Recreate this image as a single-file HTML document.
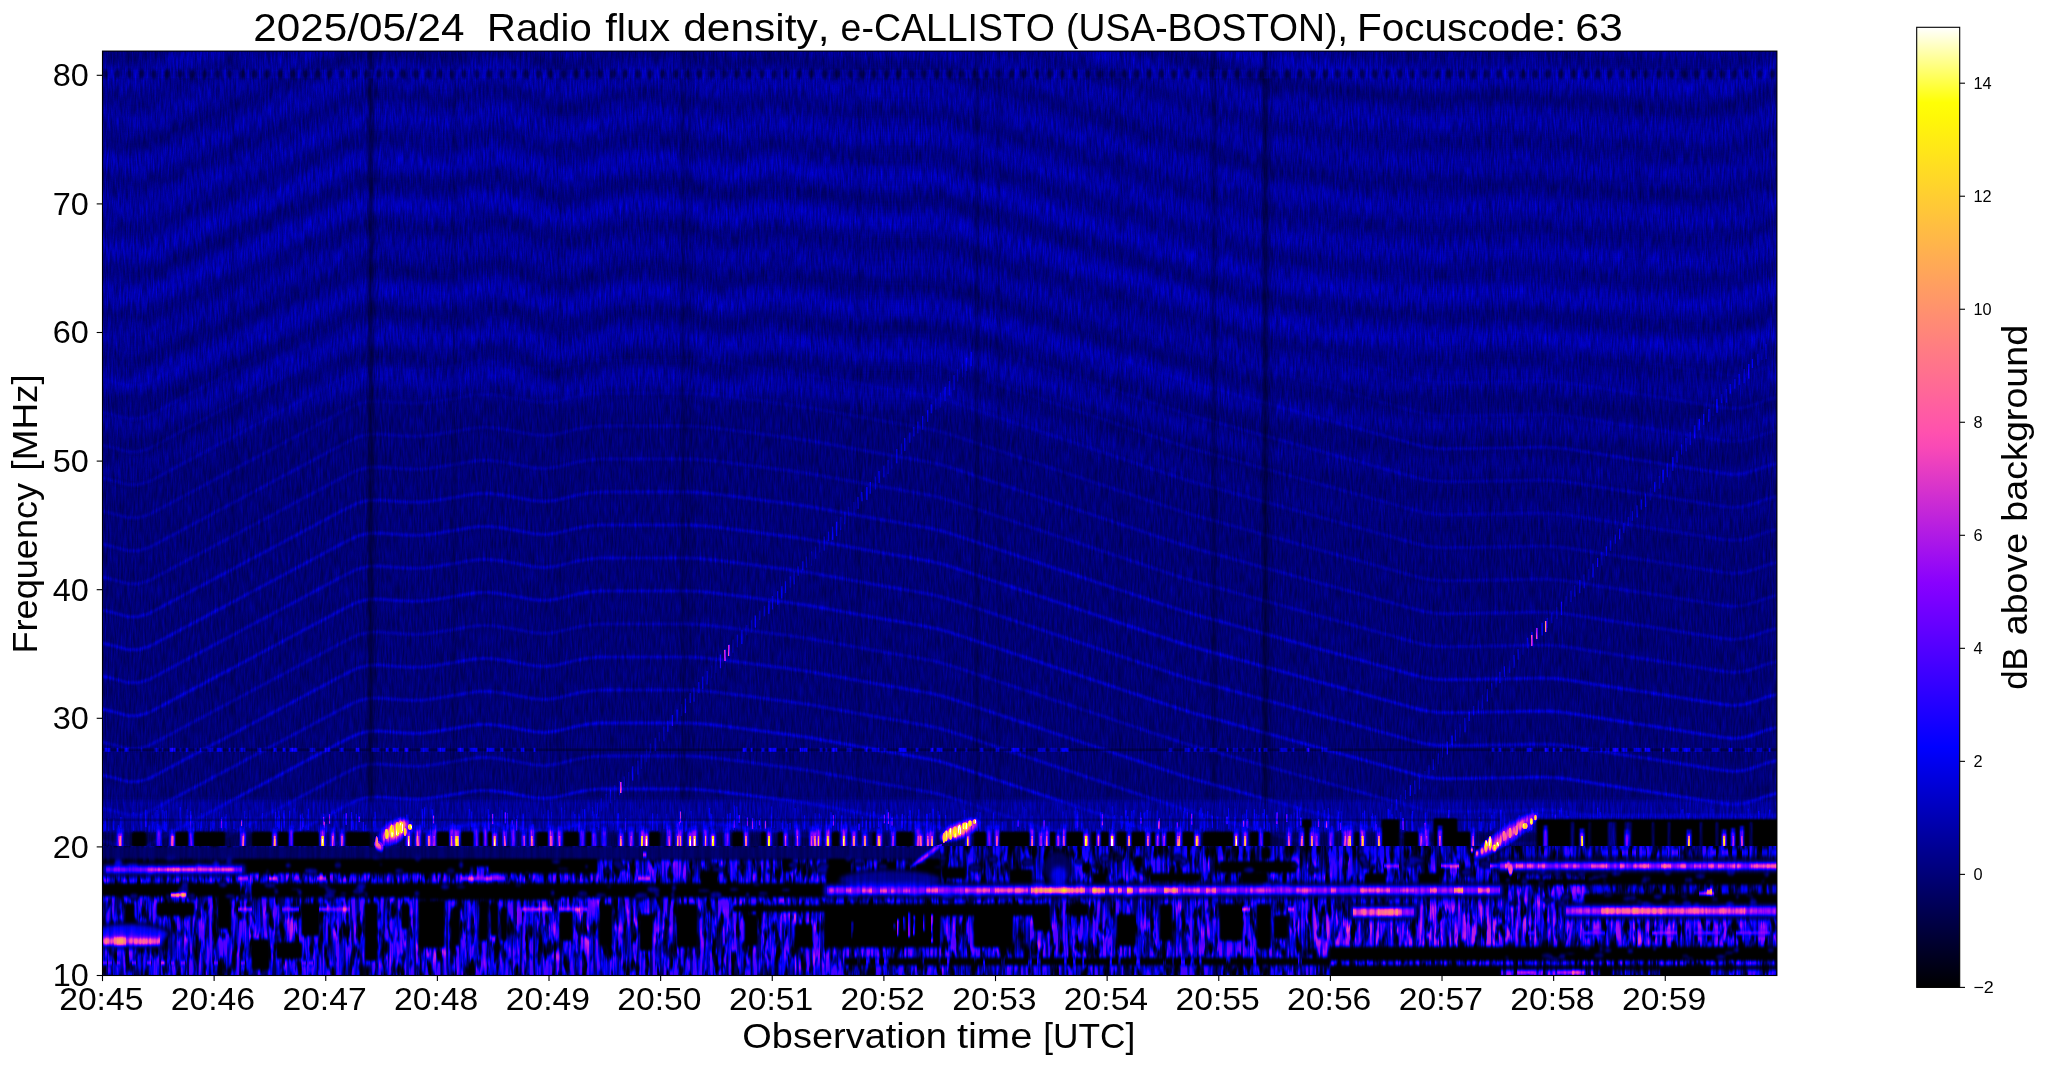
<!DOCTYPE html>
<html><head><meta charset="utf-8"><title>e-CALLISTO spectrogram</title>
<style>html,body{margin:0;padding:0;background:#fff;}body{width:2047px;height:1067px;overflow:hidden;position:relative;}svg{position:absolute;left:0;top:0;display:block}text{font-family:"Liberation Sans", sans-serif;fill:#000;font-kerning:none}</style></head><body>
<svg width="2047" height="1067" viewBox="0 0 2047 1067">
<defs><linearGradient id="cbg" x1="0" y1="0" x2="0" y2="1"><stop offset="0.0000" stop-color="rgb(255,255,255)"/><stop offset="0.0156" stop-color="rgb(255,255,205)"/><stop offset="0.0312" stop-color="rgb(255,255,155)"/><stop offset="0.0469" stop-color="rgb(255,255,106)"/><stop offset="0.0625" stop-color="rgb(255,255,56)"/><stop offset="0.0781" stop-color="rgb(255,255,6)"/><stop offset="0.0938" stop-color="rgb(255,248,7)"/><stop offset="0.1094" stop-color="rgb(255,240,15)"/><stop offset="0.1250" stop-color="rgb(255,232,23)"/><stop offset="0.1406" stop-color="rgb(255,224,31)"/><stop offset="0.1562" stop-color="rgb(255,216,39)"/><stop offset="0.1719" stop-color="rgb(255,208,47)"/><stop offset="0.1875" stop-color="rgb(255,200,55)"/><stop offset="0.2031" stop-color="rgb(255,192,63)"/><stop offset="0.2188" stop-color="rgb(255,184,71)"/><stop offset="0.2344" stop-color="rgb(255,176,79)"/><stop offset="0.2500" stop-color="rgb(255,168,87)"/><stop offset="0.2656" stop-color="rgb(255,160,95)"/><stop offset="0.2812" stop-color="rgb(255,152,103)"/><stop offset="0.2969" stop-color="rgb(255,144,111)"/><stop offset="0.3125" stop-color="rgb(255,136,119)"/><stop offset="0.3281" stop-color="rgb(255,128,127)"/><stop offset="0.3438" stop-color="rgb(255,120,135)"/><stop offset="0.3594" stop-color="rgb(255,113,142)"/><stop offset="0.3750" stop-color="rgb(255,105,150)"/><stop offset="0.3906" stop-color="rgb(255,97,158)"/><stop offset="0.4062" stop-color="rgb(255,89,166)"/><stop offset="0.4219" stop-color="rgb(255,81,174)"/><stop offset="0.4375" stop-color="rgb(249,73,182)"/><stop offset="0.4531" stop-color="rgb(237,65,190)"/><stop offset="0.4688" stop-color="rgb(224,57,198)"/><stop offset="0.4844" stop-color="rgb(212,49,206)"/><stop offset="0.5000" stop-color="rgb(199,41,214)"/><stop offset="0.5156" stop-color="rgb(187,33,222)"/><stop offset="0.5312" stop-color="rgb(174,25,230)"/><stop offset="0.5469" stop-color="rgb(162,17,238)"/><stop offset="0.5625" stop-color="rgb(149,9,246)"/><stop offset="0.5781" stop-color="rgb(137,1,254)"/><stop offset="0.5938" stop-color="rgb(125,0,255)"/><stop offset="0.6094" stop-color="rgb(112,0,255)"/><stop offset="0.6250" stop-color="rgb(100,0,255)"/><stop offset="0.6406" stop-color="rgb(87,0,255)"/><stop offset="0.6562" stop-color="rgb(75,0,255)"/><stop offset="0.6719" stop-color="rgb(62,0,255)"/><stop offset="0.6875" stop-color="rgb(50,0,255)"/><stop offset="0.7031" stop-color="rgb(37,0,255)"/><stop offset="0.7188" stop-color="rgb(25,0,255)"/><stop offset="0.7344" stop-color="rgb(12,0,255)"/><stop offset="0.7500" stop-color="rgb(0,0,255)"/><stop offset="0.7656" stop-color="rgb(0,0,239)"/><stop offset="0.7812" stop-color="rgb(0,0,223)"/><stop offset="0.7969" stop-color="rgb(0,0,207)"/><stop offset="0.8125" stop-color="rgb(0,0,191)"/><stop offset="0.8281" stop-color="rgb(0,0,175)"/><stop offset="0.8438" stop-color="rgb(0,0,159)"/><stop offset="0.8594" stop-color="rgb(0,0,143)"/><stop offset="0.8750" stop-color="rgb(0,0,128)"/><stop offset="0.8906" stop-color="rgb(0,0,112)"/><stop offset="0.9062" stop-color="rgb(0,0,96)"/><stop offset="0.9219" stop-color="rgb(0,0,80)"/><stop offset="0.9375" stop-color="rgb(0,0,64)"/><stop offset="0.9531" stop-color="rgb(0,0,48)"/><stop offset="0.9688" stop-color="rgb(0,0,32)"/><stop offset="0.9844" stop-color="rgb(0,0,16)"/><stop offset="1.0000" stop-color="rgb(0,0,0)"/></linearGradient><filter id="cmU" x="0" y="0" width="1" height="1" color-interpolation-filters="sRGB"><feTurbulence type="fractalNoise" baseFrequency="0.6 0.06" numOctaves="2" seed="7" result="n0"/><feColorMatrix in="n0" type="matrix" values="1 0 0 0 0  1 0 0 0 0  1 0 0 0 0  0 0 0 0 1" result="n"/><feComposite in="SourceGraphic" in2="n" operator="arithmetic" k1="0.4400" k2="0.7800" k3="0.0000" k4="-0.0000" result="v"/><feComponentTransfer in="v"><feFuncR type="table" tableValues="0.000 0.000 0.000 0.000 0.000 0.000 0.000 0.000 0.000 0.000 0.000 0.000 0.000 0.000 0.000 0.000 0.000 0.000 0.000 0.000 0.000 0.000 0.000 0.000 0.000 0.000 0.000 0.000 0.000 0.000 0.000 0.000 0.000 0.000 0.000 0.000 0.000 0.000 0.000 0.000 0.000 0.000 0.000 0.000 0.000 0.000 0.000 0.000 0.000 0.000 0.000 0.000 0.000 0.000 0.000 0.000 0.000 0.000 0.000 0.000 0.000 0.000 0.000 0.000 0.000 0.000 0.000 0.000 0.000 0.000 0.000 0.000 0.000 0.000 0.000 0.000 0.000 0.000 0.000 0.000 0.000 0.000 0.000 0.000 0.000 0.000 0.000 0.000 0.000 0.000 0.000 0.000 0.000 0.000 0.000 0.000 0.000 0.000 0.000 0.000 0.000 0.000 0.000 0.000 0.000 0.000 0.000 0.000 0.000 0.000 0.000 0.000 0.000 0.000 0.000 0.000 0.000 0.000 0.000 0.000 0.000 0.000 0.000 0.000 0.000 0.000 0.000 0.000 0.006 0.018 0.031 0.043 0.056 0.069 0.082 0.095 0.108 0.121 0.134 0.147 0.161 0.174 0.188 0.201 0.215 0.229 0.243 0.257 0.271 0.286 0.300 0.315 0.329 0.344 0.359 0.373 0.388 0.403 0.418 0.434 0.449 0.464 0.480 0.496 0.511 0.527 0.543 0.559 0.575 0.591 0.608 0.624 0.641 0.657 0.674 0.691 0.707 0.724 0.741 0.759 0.776 0.793 0.811 0.828 0.846 0.864 0.881 0.899 0.917 0.935 0.954 0.972 0.990 1.000 1.000 1.000 1.000 1.000 1.000 1.000 1.000 1.000 1.000 1.000 1.000 1.000 1.000 1.000 1.000 1.000 1.000 1.000 1.000 1.000 1.000 1.000 1.000 1.000 1.000 1.000 1.000 1.000 1.000 1.000 1.000 1.000 1.000 1.000 1.000 1.000 1.000 1.000 1.000 1.000 1.000 1.000 1.000 1.000 1.000 1.000 1.000 1.000 1.000 1.000 1.000 1.000 1.000 1.000 1.000 1.000 1.000 1.000 1.000 1.000 1.000 1.000"/><feFuncG type="table" tableValues="0.000 0.000 0.000 0.000 0.000 0.000 0.000 0.000 0.000 0.000 0.000 0.000 0.000 0.000 0.000 0.000 0.000 0.000 0.000 0.000 0.000 0.000 0.000 0.000 0.000 0.000 0.000 0.000 0.000 0.000 0.000 0.000 0.000 0.000 0.000 0.000 0.000 0.000 0.000 0.000 0.000 0.000 0.000 0.000 0.000 0.000 0.000 0.000 0.000 0.000 0.000 0.000 0.000 0.000 0.000 0.000 0.000 0.000 0.000 0.000 0.000 0.000 0.000 0.000 0.000 0.000 0.000 0.000 0.000 0.000 0.000 0.000 0.000 0.000 0.000 0.000 0.000 0.000 0.000 0.000 0.000 0.000 0.000 0.000 0.000 0.000 0.000 0.000 0.000 0.000 0.000 0.000 0.000 0.000 0.000 0.000 0.000 0.000 0.000 0.000 0.000 0.000 0.000 0.000 0.000 0.000 0.000 0.000 0.000 0.000 0.000 0.000 0.000 0.000 0.000 0.000 0.000 0.000 0.000 0.000 0.000 0.000 0.000 0.000 0.000 0.000 0.000 0.000 0.000 0.000 0.000 0.000 0.000 0.000 0.000 0.000 0.000 0.000 0.000 0.000 0.000 0.000 0.000 0.000 0.000 0.000 0.000 0.000 0.000 0.000 0.000 0.000 0.000 0.000 0.000 0.000 0.000 0.000 0.000 0.000 0.000 0.000 0.000 0.000 0.000 0.000 0.008 0.018 0.028 0.038 0.049 0.059 0.070 0.081 0.091 0.102 0.113 0.124 0.135 0.145 0.157 0.168 0.179 0.190 0.201 0.213 0.224 0.236 0.247 0.259 0.270 0.282 0.294 0.306 0.318 0.330 0.342 0.354 0.366 0.378 0.390 0.403 0.415 0.427 0.440 0.453 0.465 0.478 0.491 0.504 0.516 0.529 0.542 0.555 0.569 0.582 0.595 0.608 0.622 0.635 0.649 0.662 0.676 0.690 0.703 0.717 0.731 0.745 0.759 0.773 0.787 0.801 0.815 0.830 0.844 0.859 0.873 0.888 0.902 0.917 0.932 0.946 0.961 0.976 0.991 1.000 1.000 1.000 1.000 1.000 1.000 1.000 1.000 1.000 1.000 1.000"/><feFuncB type="table" tableValues="0.000 0.000 0.000 0.001 0.001 0.002 0.002 0.003 0.004 0.005 0.006 0.007 0.009 0.010 0.012 0.014 0.016 0.018 0.020 0.022 0.025 0.027 0.030 0.033 0.035 0.038 0.042 0.045 0.048 0.052 0.055 0.059 0.063 0.067 0.071 0.075 0.080 0.084 0.089 0.094 0.098 0.103 0.109 0.114 0.119 0.125 0.130 0.136 0.142 0.148 0.154 0.160 0.166 0.173 0.179 0.186 0.193 0.200 0.207 0.214 0.221 0.229 0.236 0.244 0.252 0.260 0.268 0.276 0.284 0.293 0.301 0.310 0.319 0.328 0.337 0.346 0.355 0.365 0.374 0.384 0.394 0.404 0.414 0.424 0.434 0.444 0.455 0.466 0.476 0.487 0.498 0.509 0.521 0.532 0.544 0.555 0.567 0.579 0.591 0.603 0.615 0.628 0.640 0.653 0.665 0.678 0.691 0.704 0.718 0.731 0.744 0.758 0.772 0.785 0.799 0.814 0.828 0.842 0.857 0.871 0.886 0.901 0.916 0.931 0.946 0.961 0.977 0.992 1.000 1.000 1.000 1.000 1.000 1.000 1.000 1.000 1.000 1.000 1.000 1.000 1.000 1.000 1.000 1.000 1.000 1.000 1.000 1.000 1.000 1.000 1.000 1.000 1.000 1.000 1.000 1.000 1.000 1.000 1.000 1.000 1.000 1.000 1.000 1.000 1.000 1.000 0.992 0.982 0.972 0.962 0.951 0.941 0.930 0.919 0.909 0.898 0.887 0.876 0.865 0.855 0.843 0.832 0.821 0.810 0.799 0.787 0.776 0.764 0.753 0.741 0.730 0.718 0.706 0.694 0.682 0.670 0.658 0.646 0.634 0.622 0.610 0.597 0.585 0.573 0.560 0.547 0.535 0.522 0.509 0.496 0.484 0.471 0.458 0.445 0.431 0.418 0.405 0.392 0.378 0.365 0.351 0.338 0.324 0.310 0.297 0.283 0.269 0.255 0.241 0.227 0.213 0.199 0.185 0.170 0.156 0.141 0.127 0.112 0.098 0.083 0.068 0.054 0.039 0.024 0.009 0.039 0.133 0.228 0.323 0.419 0.515 0.611 0.708 0.805 0.902 1.000"/><feFuncA type="linear" slope="0" intercept="1"/></feComponentTransfer></filter><filter id="cmL" x="0" y="0" width="1" height="1" color-interpolation-filters="sRGB"><feTurbulence type="fractalNoise" baseFrequency="0.16 0.05" numOctaves="3" seed="23" result="n0"/><feColorMatrix in="n0" type="matrix" values="3.3 0 0 0 -0.72  3.3 0 0 0 -0.72  3.3 0 0 0 -0.72  0 0 0 0 1" result="nc"/><feTurbulence type="fractalNoise" baseFrequency="0.3 0.025" numOctaves="2" seed="5" result="f0"/><feColorMatrix in="f0" type="matrix" values="2.2 0 0 0 -0.6  2.2 0 0 0 -0.6  2.2 0 0 0 -0.6  0 0 0 0 1" result="nf"/><feComposite in="nc" in2="nf" operator="arithmetic" k1="0.75" k2="0.45" k3="0.0" k4="0.0" result="n"/><feColorMatrix in="SourceGraphic" type="matrix" values="1 0 0 0 0  1 0 0 0 0  1 0 0 0 0  0 0 0 0 1" result="sR"/><feColorMatrix in="SourceGraphic" type="matrix" values="0 1 0 0 0  0 1 0 0 0  0 1 0 0 0  0 0 0 0 1" result="sG"/><feComposite in="sR" in2="n" operator="arithmetic" k1="0.95" k2="0.08" k3="0" k4="0" result="va"/><feComposite in="sG" in2="nf" operator="arithmetic" k1="0.14" k2="0.91" k3="0" k4="0" result="vb"/><feBlend in="va" in2="vb" mode="lighten" result="v0"/><feGaussianBlur in="v0" stdDeviation="0.7 1.4" result="v"/><feComponentTransfer in="v"><feFuncR type="table" tableValues="0.000 0.000 0.000 0.000 0.000 0.000 0.000 0.000 0.000 0.000 0.000 0.000 0.000 0.000 0.000 0.000 0.000 0.000 0.000 0.000 0.000 0.000 0.000 0.000 0.000 0.000 0.000 0.000 0.000 0.000 0.000 0.000 0.000 0.000 0.000 0.000 0.000 0.000 0.000 0.000 0.000 0.000 0.000 0.000 0.000 0.000 0.000 0.000 0.000 0.000 0.000 0.000 0.000 0.000 0.000 0.000 0.000 0.000 0.000 0.000 0.000 0.000 0.000 0.000 0.000 0.000 0.000 0.000 0.000 0.000 0.000 0.000 0.000 0.000 0.000 0.000 0.000 0.000 0.000 0.000 0.000 0.000 0.000 0.000 0.000 0.000 0.000 0.000 0.000 0.000 0.000 0.000 0.000 0.000 0.000 0.000 0.000 0.000 0.000 0.000 0.000 0.000 0.000 0.000 0.000 0.000 0.000 0.000 0.000 0.000 0.000 0.000 0.000 0.000 0.000 0.000 0.000 0.000 0.000 0.000 0.000 0.000 0.000 0.000 0.000 0.000 0.000 0.000 0.006 0.018 0.031 0.043 0.056 0.069 0.082 0.095 0.108 0.121 0.134 0.147 0.161 0.174 0.188 0.201 0.215 0.229 0.243 0.257 0.271 0.286 0.300 0.315 0.329 0.344 0.359 0.373 0.388 0.403 0.418 0.434 0.449 0.464 0.480 0.496 0.511 0.527 0.543 0.559 0.575 0.591 0.608 0.624 0.641 0.657 0.674 0.691 0.707 0.724 0.741 0.759 0.776 0.793 0.811 0.828 0.846 0.864 0.881 0.899 0.917 0.935 0.954 0.972 0.990 1.000 1.000 1.000 1.000 1.000 1.000 1.000 1.000 1.000 1.000 1.000 1.000 1.000 1.000 1.000 1.000 1.000 1.000 1.000 1.000 1.000 1.000 1.000 1.000 1.000 1.000 1.000 1.000 1.000 1.000 1.000 1.000 1.000 1.000 1.000 1.000 1.000 1.000 1.000 1.000 1.000 1.000 1.000 1.000 1.000 1.000 1.000 1.000 1.000 1.000 1.000 1.000 1.000 1.000 1.000 1.000 1.000 1.000 1.000 1.000 1.000 1.000 1.000"/><feFuncG type="table" tableValues="0.000 0.000 0.000 0.000 0.000 0.000 0.000 0.000 0.000 0.000 0.000 0.000 0.000 0.000 0.000 0.000 0.000 0.000 0.000 0.000 0.000 0.000 0.000 0.000 0.000 0.000 0.000 0.000 0.000 0.000 0.000 0.000 0.000 0.000 0.000 0.000 0.000 0.000 0.000 0.000 0.000 0.000 0.000 0.000 0.000 0.000 0.000 0.000 0.000 0.000 0.000 0.000 0.000 0.000 0.000 0.000 0.000 0.000 0.000 0.000 0.000 0.000 0.000 0.000 0.000 0.000 0.000 0.000 0.000 0.000 0.000 0.000 0.000 0.000 0.000 0.000 0.000 0.000 0.000 0.000 0.000 0.000 0.000 0.000 0.000 0.000 0.000 0.000 0.000 0.000 0.000 0.000 0.000 0.000 0.000 0.000 0.000 0.000 0.000 0.000 0.000 0.000 0.000 0.000 0.000 0.000 0.000 0.000 0.000 0.000 0.000 0.000 0.000 0.000 0.000 0.000 0.000 0.000 0.000 0.000 0.000 0.000 0.000 0.000 0.000 0.000 0.000 0.000 0.000 0.000 0.000 0.000 0.000 0.000 0.000 0.000 0.000 0.000 0.000 0.000 0.000 0.000 0.000 0.000 0.000 0.000 0.000 0.000 0.000 0.000 0.000 0.000 0.000 0.000 0.000 0.000 0.000 0.000 0.000 0.000 0.000 0.000 0.000 0.000 0.000 0.000 0.008 0.018 0.028 0.038 0.049 0.059 0.070 0.081 0.091 0.102 0.113 0.124 0.135 0.145 0.157 0.168 0.179 0.190 0.201 0.213 0.224 0.236 0.247 0.259 0.270 0.282 0.294 0.306 0.318 0.330 0.342 0.354 0.366 0.378 0.390 0.403 0.415 0.427 0.440 0.453 0.465 0.478 0.491 0.504 0.516 0.529 0.542 0.555 0.569 0.582 0.595 0.608 0.622 0.635 0.649 0.662 0.676 0.690 0.703 0.717 0.731 0.745 0.759 0.773 0.787 0.801 0.815 0.830 0.844 0.859 0.873 0.888 0.902 0.917 0.932 0.946 0.961 0.976 0.991 1.000 1.000 1.000 1.000 1.000 1.000 1.000 1.000 1.000 1.000 1.000"/><feFuncB type="table" tableValues="0.000 0.000 0.000 0.001 0.001 0.002 0.002 0.003 0.004 0.005 0.006 0.007 0.009 0.010 0.012 0.014 0.016 0.018 0.020 0.022 0.025 0.027 0.030 0.033 0.035 0.038 0.042 0.045 0.048 0.052 0.055 0.059 0.063 0.067 0.071 0.075 0.080 0.084 0.089 0.094 0.098 0.103 0.109 0.114 0.119 0.125 0.130 0.136 0.142 0.148 0.154 0.160 0.166 0.173 0.179 0.186 0.193 0.200 0.207 0.214 0.221 0.229 0.236 0.244 0.252 0.260 0.268 0.276 0.284 0.293 0.301 0.310 0.319 0.328 0.337 0.346 0.355 0.365 0.374 0.384 0.394 0.404 0.414 0.424 0.434 0.444 0.455 0.466 0.476 0.487 0.498 0.509 0.521 0.532 0.544 0.555 0.567 0.579 0.591 0.603 0.615 0.628 0.640 0.653 0.665 0.678 0.691 0.704 0.718 0.731 0.744 0.758 0.772 0.785 0.799 0.814 0.828 0.842 0.857 0.871 0.886 0.901 0.916 0.931 0.946 0.961 0.977 0.992 1.000 1.000 1.000 1.000 1.000 1.000 1.000 1.000 1.000 1.000 1.000 1.000 1.000 1.000 1.000 1.000 1.000 1.000 1.000 1.000 1.000 1.000 1.000 1.000 1.000 1.000 1.000 1.000 1.000 1.000 1.000 1.000 1.000 1.000 1.000 1.000 1.000 1.000 0.992 0.982 0.972 0.962 0.951 0.941 0.930 0.919 0.909 0.898 0.887 0.876 0.865 0.855 0.843 0.832 0.821 0.810 0.799 0.787 0.776 0.764 0.753 0.741 0.730 0.718 0.706 0.694 0.682 0.670 0.658 0.646 0.634 0.622 0.610 0.597 0.585 0.573 0.560 0.547 0.535 0.522 0.509 0.496 0.484 0.471 0.458 0.445 0.431 0.418 0.405 0.392 0.378 0.365 0.351 0.338 0.324 0.310 0.297 0.283 0.269 0.255 0.241 0.227 0.213 0.199 0.185 0.170 0.156 0.141 0.127 0.112 0.098 0.083 0.068 0.054 0.039 0.024 0.009 0.039 0.133 0.228 0.323 0.419 0.515 0.611 0.708 0.805 0.902 1.000"/><feFuncA type="linear" slope="0" intercept="1"/></feComponentTransfer></filter></defs>
<defs><clipPath id="clipU"><rect x="102.50" y="51.10" width="1674.40" height="796.90"/></clipPath><clipPath id="clipL"><rect x="102.50" y="846.00" width="1674.40" height="129.50"/></clipPath><path id="pU" d="M94,-9.8 105,-8.4 116,-5.8 127,-3.0 138,-3.0 149,-5.9 160,-10.5 171,-15.2 182,-19.8 193,-24.4 204,-29.1 215,-33.7 226,-38.3 237,-43.0 248,-47.6 259,-52.2 270,-56.9 281,-61.5 292,-66.1 303,-70.8 314,-75.4 325,-80.0 336,-84.7 347,-89.3 358,-93.9 369,-96.8 380,-97.5 391,-96.3 402,-94.9 413,-93.6 424,-92.2 435,-90.8 446,-90.4 457,-91.8 468,-94.9 479,-98.3 490,-100.4 501,-99.9 512,-96.7 523,-92.8 534,-89.0 545,-85.2 556,-81.8 567,-80.9 578,-82.5 589,-85.6 600,-88.7 611,-91.9 622,-94.7 633,-96.0 644,-96.0 655,-95.2 666,-94.4 677,-93.6 688,-91.9 699,-89.3 710,-86.0 721,-83.2 732,-82.8 743,-84.8 754,-87.8 765,-89.5 776,-89.5 787,-88.1 798,-86.6 809,-85.1 820,-83.7 831,-82.2 842,-80.8 853,-79.5 864,-78.7 875,-78.5 886,-78.5 897,-78.5 908,-78.5 919,-78.5 930,-78.4 941,-77.2 952,-74.8 963,-71.4 974,-68.0 985,-64.6 996,-61.2 1007,-57.8 1018,-54.4 1029,-51.0 1040,-47.6 1051,-44.2 1062,-40.8 1073,-37.5 1084,-34.1 1095,-30.7 1106,-27.3 1117,-23.9 1128,-20.5 1139,-17.1 1150,-13.7 1161,-10.3 1172,-6.9 1183,-3.5 1194,-0.1 1205,3.3 1216,6.7 1227,10.1 1238,13.5 1249,16.9 1260,19.9 1271,22.3 1282,23.9 1293,25.4 1304,26.8 1315,28.3 1326,29.8 1337,31.3 1348,32.6 1359,33.8 1370,34.8 1381,35.7 1392,36.7 1403,37.6 1414,38.6 1425,39.4 1436,39.6 1447,39.2 1458,38.8 1469,38.3 1480,37.8 1491,37.3 1502,36.8 1513,36.5 1524,36.7 1535,37.5 1546,38.6 1557,39.7 1568,40.8 1579,41.9 1590,43.0 1601,43.9 1612,44.7 1623,45.4 1634,46.0 1645,46.7 1656,47.4 1667,48.0 1678,48.7 1689,49.3 1700,49.3 1711,48.6 1722,47.2 1733,45.6 1744,42.8 1755,38.9 1766,34.5 1777,31.5 1788,30.1"/><path id="pL" d="M94,-10.7 105,-9.3 116,-6.6 127,-3.5 138,-3.2 149,-6.4 160,-12.3 171,-18.1 182,-24.0 193,-29.9 204,-35.7 215,-41.6 226,-47.4 237,-53.3 248,-59.2 259,-65.0 270,-70.9 281,-76.8 292,-82.6 303,-88.5 314,-94.3 325,-100.2 336,-106.1 347,-111.9 358,-117.1 369,-119.7 380,-119.9 391,-119.1 402,-118.3 413,-117.7 424,-118.1 435,-119.5 446,-121.3 457,-123.1 468,-124.9 479,-126.4 490,-126.6 501,-125.3 512,-123.3 523,-121.2 534,-119.2 545,-118.6 556,-119.8 567,-122.4 578,-125.1 589,-127.0 600,-127.9 611,-128.0 622,-128.0 633,-128.0 644,-128.0 655,-128.0 666,-128.0 677,-128.0 688,-128.0 699,-127.6 710,-126.6 721,-125.3 732,-123.8 743,-122.4 754,-121.0 765,-119.5 776,-118.1 787,-116.7 798,-115.1 809,-113.4 820,-111.4 831,-109.5 842,-107.5 853,-105.5 864,-103.6 875,-101.6 886,-99.6 897,-97.7 908,-95.7 919,-93.8 930,-91.7 941,-89.2 952,-86.0 963,-82.3 974,-78.7 985,-75.0 996,-71.3 1007,-67.7 1018,-64.0 1029,-60.3 1040,-56.7 1051,-53.0 1062,-49.3 1073,-45.7 1084,-42.0 1095,-38.3 1106,-34.7 1117,-31.0 1128,-27.3 1139,-23.7 1150,-20.0 1161,-16.3 1172,-12.7 1183,-9.1 1194,-5.8 1205,-2.7 1216,0.3 1227,3.3 1238,6.4 1249,9.4 1260,12.5 1271,15.5 1282,18.5 1293,21.6 1304,24.6 1315,27.7 1326,30.7 1337,33.7 1348,36.8 1359,39.8 1370,42.9 1381,45.9 1392,48.9 1403,52.0 1414,55.0 1425,57.8 1436,59.3 1447,59.8 1458,59.6 1469,59.4 1480,59.2 1491,59.0 1502,58.9 1513,58.7 1524,58.5 1535,58.3 1546,58.3 1557,58.8 1568,60.0 1579,61.8 1590,63.5 1601,65.2 1612,66.9 1623,68.7 1634,70.4 1645,72.1 1656,73.8 1667,75.6 1678,77.3 1689,79.0 1700,80.7 1711,82.5 1722,84.2 1733,85.4 1744,84.4 1755,81.3 1766,77.2 1777,74.4 1788,73.1"/><linearGradient id="bgU" x1="0" y1="0" x2="0" y2="1"><stop offset="0" stop-color="rgb(96,96,96)"/><stop offset="0.40" stop-color="rgb(95,95,95)"/><stop offset="0.46" stop-color="rgb(87,87,87)"/><stop offset="1" stop-color="rgb(86,86,86)"/></linearGradient><filter id="blurF" filterUnits="userSpaceOnUse" x="60" y="20" width="1760" height="1000"><feGaussianBlur stdDeviation="4.6"/></filter><filter id="blurS" filterUnits="userSpaceOnUse" x="60" y="20" width="1760" height="1000"><feGaussianBlur stdDeviation="1.1"/></filter><filter id="blur1" filterUnits="userSpaceOnUse" x="60" y="20" width="1760" height="1000"><feGaussianBlur stdDeviation="0.7"/></filter><filter id="blur2" filterUnits="userSpaceOnUse" x="60" y="20" width="1760" height="1000"><feGaussianBlur stdDeviation="2"/></filter><linearGradient id="gmU" gradientUnits="userSpaceOnUse" x1="0" y1="51.1" x2="0" y2="846.0"><stop offset="0" stop-color="#fff"/><stop offset="0.40" stop-color="#eee"/><stop offset="0.55" stop-color="#444"/><stop offset="1" stop-color="#111"/></linearGradient><mask id="mU" maskUnits="userSpaceOnUse" x="0" y="0" width="2047" height="1067"><rect x="0" y="0" width="2047" height="1067" fill="url(#gmU)"/></mask><linearGradient id="gmL" gradientUnits="userSpaceOnUse" x1="0" y1="51.1" x2="0" y2="846.0"><stop offset="0" stop-color="#000"/><stop offset="0.36" stop-color="#000"/><stop offset="0.5" stop-color="#999"/><stop offset="1" stop-color="#fff"/></linearGradient><mask id="mL" maskUnits="userSpaceOnUse" x="0" y="0" width="2047" height="1067"><rect x="0" y="0" width="2047" height="1067" fill="url(#gmL)"/></mask></defs><g clip-path="url(#clipU)"><g filter="url(#cmU)"><rect x="100.50" y="49.10" width="1678.40" height="800.90" fill="url(#bgU)"/><g fill="none" filter="url(#blurF)" mask="url(#mU)"><g stroke="rgb(106,106,106)" stroke-width="17"><use href="#pU" y="473.5" opacity="0.79"/><use href="#pU" y="430.0" opacity="0.89"/><use href="#pU" y="386.5" opacity="0.86"/><use href="#pU" y="343.0" opacity="0.47"/><use href="#pU" y="299.5" opacity="0.97"/><use href="#pU" y="256.0" opacity="0.95"/><use href="#pU" y="212.5" opacity="0.71"/><use href="#pU" y="169.0" opacity="0.75"/><use href="#pU" y="125.5" opacity="0.46"/><use href="#pU" y="82.0" opacity="0.60"/><use href="#pU" y="38.5" opacity="0.87"/><use href="#pU" y="-5.0" opacity="0.89"/><use href="#pU" y="-48.5" opacity="0.79"/><use href="#pU" y="-92.0" opacity="0.45"/></g><g stroke="rgb(86,86,86)" stroke-width="13"><use href="#pU" y="451.8" opacity="0.86"/><use href="#pU" y="408.2" opacity="0.97"/><use href="#pU" y="364.8" opacity="0.96"/><use href="#pU" y="321.2" opacity="0.71"/><use href="#pU" y="277.8" opacity="0.81"/><use href="#pU" y="234.2" opacity="0.51"/><use href="#pU" y="190.8" opacity="0.59"/><use href="#pU" y="147.2" opacity="0.77"/><use href="#pU" y="103.8" opacity="0.57"/><use href="#pU" y="60.2" opacity="0.95"/><use href="#pU" y="16.8" opacity="0.54"/><use href="#pU" y="-26.8" opacity="0.53"/><use href="#pU" y="-70.2" opacity="0.52"/><use href="#pU" y="-113.8" opacity="0.93"/></g></g><g fill="none" filter="url(#blurS)" mask="url(#mL)" stroke="rgb(122,122,122)" stroke-width="3"><use href="#pL" y="1016.0" opacity="0.64"/><use href="#pL" y="983.0" opacity="0.65"/><use href="#pL" y="950.0" opacity="0.99"/><use href="#pL" y="917.0" opacity="0.94"/><use href="#pL" y="884.0" opacity="0.68"/><use href="#pL" y="851.0" opacity="0.98"/><use href="#pL" y="818.0" opacity="0.79"/><use href="#pL" y="785.0" opacity="0.86"/><use href="#pL" y="752.0" opacity="0.64"/><use href="#pL" y="719.0" opacity="0.97"/><use href="#pL" y="686.0" opacity="0.86"/><use href="#pL" y="653.0" opacity="0.98"/><use href="#pL" y="620.0" opacity="0.95"/><use href="#pL" y="587.0" opacity="0.68"/><use href="#pL" y="554.0" opacity="0.71"/><use href="#pL" y="521.0" opacity="0.62"/><use href="#pL" y="488.0" opacity="0.62"/><use href="#pL" y="455.0" opacity="0.58"/><use href="#pL" y="422.0" opacity="0.69"/><use href="#pL" y="389.0" opacity="0.82"/><use href="#pL" y="356.0" opacity="0.55"/><use href="#pL" y="323.0" opacity="0.86"/><use href="#pL" y="290.0" opacity="0.70"/><use href="#pL" y="257.0" opacity="0.69"/><use href="#pL" y="224.0" opacity="0.92"/><use href="#pL" y="191.0" opacity="0.77"/></g><g fill="rgb(0,0,0)" filter="url(#blurS)"><rect x="368.2" y="46.1" width="4.6" height="934.4" opacity="0.20"/><rect x="368.5" y="46.1" width="8.0" height="934.4" opacity="0.06"/><rect x="452.0" y="46.1" width="4.0" height="934.4" opacity="0.07"/><rect x="680.9" y="46.1" width="4.2" height="934.4" opacity="0.12"/><rect x="686.5" y="46.1" width="7.0" height="934.4" opacity="0.05"/><rect x="857.0" y="46.1" width="4.0" height="934.4" opacity="0.06"/><rect x="974.9" y="46.1" width="4.2" height="934.4" opacity="0.12"/><rect x="997.0" y="46.1" width="4.0" height="934.4" opacity="0.06"/><rect x="1211.5" y="46.1" width="5.0" height="934.4" opacity="0.14"/><rect x="1262.5" y="46.1" width="5.0" height="934.4" opacity="0.20"/><rect x="1263.0" y="46.1" width="10.0" height="934.4" opacity="0.05"/><rect x="231.2" y="46.1" width="3.5" height="934.4" opacity="0.05"/><rect x="558.2" y="46.1" width="3.5" height="934.4" opacity="0.05"/><rect x="1118.2" y="46.1" width="3.5" height="934.4" opacity="0.05"/><rect x="1488.2" y="46.1" width="3.5" height="934.4" opacity="0.06"/><rect x="1638.2" y="46.1" width="3.5" height="934.4" opacity="0.05"/></g><g filter="url(#blur2)"><rect x="99.5" y="800" width="1680.4" height="34" fill="rgb(109,109,109)" opacity="0.55"/></g><g fill="rgb(133,133,133)" filter="url(#blur1)"><rect x="631.3" y="815.1" width="1.4" height="13.7" opacity="0.33"/><rect x="1735.2" y="822.1" width="1.4" height="6.4" opacity="0.81"/><rect x="132.8" y="812.2" width="1.4" height="18.6" opacity="0.65"/><rect x="117.7" y="825.2" width="1.4" height="6.7" opacity="0.87"/><rect x="431.6" y="809.3" width="1.4" height="18.1" opacity="0.87"/><rect x="679.1" y="818.2" width="1.4" height="11.7" opacity="0.77"/><rect x="283.4" y="810.2" width="1.4" height="18.0" opacity="0.82"/><rect x="163.8" y="811.3" width="1.4" height="21.1" opacity="0.50"/><rect x="1125.3" y="810.3" width="1.4" height="20.7" opacity="0.85"/><rect x="1015.3" y="820.1" width="1.4" height="11.0" opacity="0.41"/><rect x="233.4" y="820.5" width="1.4" height="8.4" opacity="0.90"/><rect x="373.0" y="820.3" width="1.4" height="6.8" opacity="0.62"/><rect x="782.1" y="819.6" width="1.4" height="9.8" opacity="0.80"/><rect x="865.5" y="819.9" width="1.4" height="12.7" opacity="0.85"/><rect x="157.3" y="814.1" width="1.4" height="13.9" opacity="0.38"/><rect x="1327.6" y="808.0" width="1.4" height="21.2" opacity="0.77"/><rect x="281.0" y="819.2" width="1.4" height="13.0" opacity="0.81"/><rect x="596.1" y="813.8" width="1.4" height="13.3" opacity="0.81"/><rect x="1736.7" y="816.8" width="1.4" height="13.3" opacity="0.74"/><rect x="904.6" y="819.9" width="1.4" height="10.7" opacity="0.39"/><rect x="733.8" y="805.4" width="1.4" height="21.8" opacity="0.68"/><rect x="938.6" y="821.0" width="1.4" height="11.4" opacity="0.46"/><rect x="1411.9" y="811.0" width="1.4" height="19.9" opacity="0.77"/><rect x="1400.0" y="811.9" width="1.4" height="17.1" opacity="0.76"/><rect x="711.0" y="814.0" width="1.4" height="17.3" opacity="0.59"/><rect x="1391.4" y="814.2" width="1.4" height="17.1" opacity="0.87"/><rect x="1190.3" y="817.6" width="1.4" height="15.3" opacity="0.63"/><rect x="522.3" y="813.5" width="1.4" height="16.7" opacity="0.79"/><rect x="1186.6" y="812.2" width="1.4" height="18.8" opacity="0.69"/><rect x="1337.9" y="811.6" width="1.4" height="19.3" opacity="0.81"/><rect x="1559.1" y="810.1" width="1.4" height="17.0" opacity="0.87"/><rect x="970.1" y="817.5" width="1.4" height="14.5" opacity="0.80"/><rect x="1672.1" y="815.2" width="1.4" height="13.6" opacity="0.73"/><rect x="1325.4" y="819.6" width="1.4" height="8.7" opacity="0.65"/><rect x="1216.9" y="816.5" width="1.4" height="12.7" opacity="0.76"/><rect x="1168.9" y="815.3" width="1.4" height="17.5" opacity="0.40"/><rect x="841.0" y="815.3" width="1.4" height="16.4" opacity="0.71"/><rect x="1158.8" y="823.5" width="1.4" height="6.7" opacity="0.44"/><rect x="193.2" y="823.0" width="1.4" height="8.1" opacity="0.41"/><rect x="426.3" y="823.6" width="1.4" height="6.6" opacity="0.53"/><rect x="1126.9" y="816.1" width="1.4" height="15.4" opacity="0.84"/><rect x="103.6" y="818.8" width="1.4" height="12.5" opacity="0.55"/><rect x="295.2" y="811.5" width="1.4" height="19.3" opacity="0.32"/><rect x="1129.9" y="822.2" width="1.4" height="7.5" opacity="0.50"/><rect x="1075.2" y="806.8" width="1.4" height="21.3" opacity="0.55"/><rect x="1463.8" y="814.5" width="1.4" height="16.3" opacity="0.39"/><rect x="1100.3" y="812.2" width="1.4" height="15.0" opacity="0.88"/><rect x="1121.6" y="816.0" width="1.4" height="11.6" opacity="0.30"/><rect x="283.2" y="814.3" width="1.4" height="15.1" opacity="0.38"/><rect x="1156.5" y="810.5" width="1.4" height="20.3" opacity="0.56"/><rect x="481.5" y="816.5" width="1.4" height="10.7" opacity="0.53"/><rect x="1711.8" y="808.8" width="1.4" height="20.6" opacity="0.46"/><rect x="1745.1" y="816.6" width="1.4" height="13.9" opacity="0.49"/><rect x="1750.6" y="817.4" width="1.4" height="13.9" opacity="0.59"/><rect x="306.6" y="814.4" width="1.4" height="15.9" opacity="0.48"/><rect x="1411.4" y="813.7" width="1.4" height="19.2" opacity="0.62"/><rect x="560.9" y="807.3" width="1.4" height="21.0" opacity="0.45"/><rect x="550.7" y="818.6" width="1.4" height="8.5" opacity="0.48"/><rect x="1120.6" y="815.5" width="1.4" height="13.6" opacity="0.66"/><rect x="1347.4" y="820.5" width="1.4" height="7.9" opacity="0.48"/><rect x="995.8" y="819.8" width="1.4" height="11.4" opacity="0.62"/><rect x="880.0" y="816.8" width="1.4" height="11.8" opacity="0.65"/><rect x="163.5" y="820.2" width="1.4" height="10.0" opacity="0.85"/><rect x="1589.3" y="818.2" width="1.4" height="14.7" opacity="0.77"/><rect x="818.7" y="813.5" width="1.4" height="15.2" opacity="0.68"/><rect x="909.4" y="810.1" width="1.4" height="20.6" opacity="0.54"/><rect x="1528.9" y="822.1" width="1.4" height="9.1" opacity="0.80"/><rect x="213.1" y="809.5" width="1.4" height="19.4" opacity="0.56"/><rect x="582.0" y="809.0" width="1.4" height="18.5" opacity="0.39"/><rect x="903.6" y="815.2" width="1.4" height="14.8" opacity="0.50"/><rect x="359.6" y="812.8" width="1.4" height="15.4" opacity="0.34"/><rect x="487.6" y="809.1" width="1.4" height="19.1" opacity="0.70"/><rect x="145.3" y="809.6" width="1.4" height="17.6" opacity="0.90"/><rect x="1276.7" y="821.2" width="1.4" height="6.8" opacity="0.43"/><rect x="1183.7" y="807.5" width="1.4" height="21.2" opacity="0.38"/><rect x="592.3" y="811.4" width="1.4" height="20.7" opacity="0.67"/><rect x="795.6" y="820.7" width="1.4" height="8.6" opacity="0.33"/><rect x="283.7" y="820.5" width="1.4" height="12.1" opacity="0.33"/><rect x="1065.7" y="809.9" width="1.4" height="17.9" opacity="0.38"/><rect x="825.3" y="818.4" width="1.4" height="11.0" opacity="0.59"/><rect x="1674.0" y="820.7" width="1.4" height="12.0" opacity="0.72"/><rect x="355.5" y="813.9" width="1.4" height="16.1" opacity="0.85"/><rect x="1031.6" y="815.5" width="1.4" height="15.9" opacity="0.63"/><rect x="528.1" y="811.9" width="1.4" height="18.0" opacity="0.38"/><rect x="495.0" y="816.6" width="1.4" height="11.9" opacity="0.41"/><rect x="1296.8" y="816.0" width="1.4" height="16.5" opacity="0.70"/><rect x="255.2" y="821.4" width="1.4" height="8.0" opacity="0.44"/><rect x="1570.8" y="817.4" width="1.4" height="13.7" opacity="0.78"/><rect x="151.8" y="815.1" width="1.4" height="17.6" opacity="0.39"/><rect x="1696.6" y="814.8" width="1.4" height="16.9" opacity="0.37"/><rect x="1731.2" y="811.4" width="1.4" height="16.6" opacity="0.38"/><rect x="1148.7" y="819.9" width="1.4" height="11.7" opacity="0.50"/><rect x="1130.2" y="819.1" width="1.4" height="11.6" opacity="0.38"/><rect x="1494.1" y="811.8" width="1.4" height="16.4" opacity="0.56"/><rect x="1528.4" y="815.2" width="1.4" height="14.3" opacity="0.64"/><rect x="1341.8" y="820.1" width="1.4" height="12.3" opacity="0.32"/><rect x="441.4" y="821.0" width="1.4" height="6.6" opacity="0.59"/><rect x="1375.6" y="824.2" width="1.4" height="6.0" opacity="0.83"/><rect x="1139.7" y="817.3" width="1.4" height="12.9" opacity="0.36"/><rect x="361.5" y="822.2" width="1.4" height="8.5" opacity="0.53"/><rect x="1576.5" y="823.0" width="1.4" height="8.4" opacity="0.47"/><rect x="373.0" y="821.0" width="1.4" height="10.6" opacity="0.59"/><rect x="156.2" y="810.0" width="1.4" height="20.8" opacity="0.86"/><rect x="1254.0" y="813.4" width="1.4" height="16.8" opacity="0.87"/><rect x="299.9" y="814.6" width="1.4" height="16.7" opacity="0.70"/><rect x="1323.6" y="823.2" width="1.4" height="8.6" opacity="0.31"/><rect x="488.4" y="823.3" width="1.4" height="7.3" opacity="0.88"/><rect x="712.4" y="819.2" width="1.4" height="11.0" opacity="0.47"/><rect x="1328.7" y="814.5" width="1.4" height="17.5" opacity="0.44"/><rect x="1228.0" y="808.1" width="1.4" height="21.0" opacity="0.56"/><rect x="1735.8" y="826.5" width="1.4" height="6.1" opacity="0.77"/><rect x="789.3" y="823.0" width="1.4" height="6.7" opacity="0.89"/><rect x="971.4" y="820.8" width="1.4" height="11.6" opacity="0.34"/><rect x="1607.4" y="813.5" width="1.4" height="13.9" opacity="0.33"/><rect x="510.2" y="823.8" width="1.4" height="6.8" opacity="0.34"/><rect x="530.2" y="818.6" width="1.4" height="12.5" opacity="0.33"/><rect x="165.5" y="810.4" width="1.4" height="21.5" opacity="0.61"/><rect x="776.2" y="818.0" width="1.4" height="14.5" opacity="0.49"/><rect x="283.3" y="812.8" width="1.4" height="14.7" opacity="0.66"/><rect x="1537.1" y="823.5" width="1.4" height="9.4" opacity="0.62"/><rect x="917.2" y="815.6" width="1.4" height="15.1" opacity="0.68"/><rect x="1317.5" y="810.5" width="1.4" height="20.6" opacity="0.57"/><rect x="1486.3" y="822.7" width="1.4" height="9.6" opacity="0.49"/><rect x="249.2" y="809.7" width="1.4" height="18.4" opacity="0.49"/><rect x="319.9" y="824.2" width="1.4" height="7.3" opacity="0.35"/><rect x="820.2" y="816.3" width="1.4" height="15.2" opacity="0.34"/><rect x="1275.6" y="825.0" width="1.4" height="6.8" opacity="0.47"/><rect x="728.3" y="822.9" width="1.4" height="7.6" opacity="0.49"/><rect x="1362.2" y="812.7" width="1.4" height="14.9" opacity="0.69"/><rect x="1374.6" y="815.2" width="1.4" height="15.2" opacity="0.79"/><rect x="1200.0" y="807.4" width="1.4" height="21.3" opacity="0.72"/><rect x="550.7" y="811.7" width="1.4" height="19.0" opacity="0.38"/><rect x="212.9" y="822.7" width="1.4" height="8.7" opacity="0.71"/><rect x="580.6" y="821.4" width="1.4" height="7.0" opacity="0.63"/><rect x="148.5" y="825.4" width="1.4" height="6.8" opacity="0.51"/><rect x="1542.1" y="808.1" width="1.4" height="21.2" opacity="0.44"/><rect x="820.7" y="819.2" width="1.4" height="11.8" opacity="0.31"/><rect x="1081.1" y="809.4" width="1.4" height="19.2" opacity="0.36"/><rect x="990.5" y="820.0" width="1.4" height="8.7" opacity="0.57"/><rect x="1674.0" y="813.6" width="1.4" height="18.7" opacity="0.49"/><rect x="1634.6" y="817.0" width="1.4" height="13.4" opacity="0.56"/><rect x="1387.6" y="808.8" width="1.4" height="21.0" opacity="0.88"/><rect x="1100.5" y="820.5" width="1.4" height="7.7" opacity="0.55"/><rect x="190.1" y="811.2" width="1.4" height="21.6" opacity="0.65"/><rect x="909.6" y="810.5" width="1.4" height="20.1" opacity="0.43"/><rect x="566.4" y="820.4" width="1.4" height="9.2" opacity="0.51"/><rect x="1360.1" y="821.0" width="1.4" height="9.9" opacity="0.45"/><rect x="1747.5" y="808.5" width="1.4" height="19.4" opacity="0.67"/><rect x="773.7" y="819.7" width="1.4" height="8.3" opacity="0.59"/><rect x="165.7" y="823.7" width="1.4" height="8.7" opacity="0.73"/><rect x="1609.8" y="819.0" width="1.4" height="9.2" opacity="0.49"/><rect x="1246.0" y="809.5" width="1.4" height="19.8" opacity="0.78"/><rect x="732.8" y="823.8" width="1.4" height="6.2" opacity="0.65"/><rect x="411.8" y="818.9" width="1.4" height="12.2" opacity="0.32"/><rect x="625.0" y="818.0" width="1.4" height="12.1" opacity="0.72"/><rect x="770.8" y="806.4" width="1.4" height="21.7" opacity="0.85"/><rect x="1262.5" y="813.1" width="1.4" height="16.7" opacity="0.78"/><rect x="710.0" y="813.4" width="1.4" height="15.5" opacity="0.61"/><rect x="578.3" y="825.2" width="1.4" height="7.2" opacity="0.51"/><rect x="1074.3" y="810.6" width="1.4" height="18.2" opacity="0.48"/><rect x="1658.3" y="818.3" width="1.4" height="10.4" opacity="0.34"/><rect x="1364.0" y="810.5" width="1.4" height="16.7" opacity="0.84"/><rect x="1253.9" y="809.2" width="1.4" height="19.4" opacity="0.67"/><rect x="452.0" y="813.4" width="1.4" height="14.3" opacity="0.44"/><rect x="1734.5" y="815.9" width="1.4" height="14.7" opacity="0.30"/><rect x="755.8" y="820.2" width="1.4" height="8.9" opacity="0.84"/><rect x="1626.5" y="814.9" width="1.4" height="15.8" opacity="0.37"/><rect x="1255.8" y="813.9" width="1.4" height="14.9" opacity="0.52"/><rect x="1587.3" y="821.8" width="1.4" height="9.4" opacity="0.46"/><rect x="1144.3" y="811.6" width="1.4" height="20.4" opacity="0.68"/><rect x="1385.9" y="823.0" width="1.4" height="9.6" opacity="0.64"/><rect x="1492.7" y="808.6" width="1.4" height="20.1" opacity="0.55"/><rect x="814.8" y="813.1" width="1.4" height="14.5" opacity="0.48"/><rect x="572.6" y="811.5" width="1.4" height="15.7" opacity="0.41"/><rect x="153.5" y="821.8" width="1.4" height="7.8" opacity="0.66"/><rect x="410.4" y="820.4" width="1.4" height="9.0" opacity="0.69"/><rect x="1258.2" y="815.0" width="1.4" height="17.7" opacity="0.59"/><rect x="1500.0" y="809.8" width="1.4" height="21.3" opacity="0.81"/><rect x="1182.8" y="810.8" width="1.4" height="20.8" opacity="0.72"/><rect x="1510.2" y="818.8" width="1.4" height="13.6" opacity="0.42"/><rect x="364.8" y="824.6" width="1.4" height="7.5" opacity="0.67"/><rect x="278.1" y="810.5" width="1.4" height="18.1" opacity="0.79"/><rect x="1448.2" y="810.0" width="1.4" height="17.4" opacity="0.87"/><rect x="1149.2" y="810.9" width="1.4" height="21.4" opacity="0.36"/><rect x="210.4" y="821.5" width="1.4" height="9.3" opacity="0.58"/><rect x="1241.9" y="814.6" width="1.4" height="17.9" opacity="0.54"/><rect x="1012.5" y="820.3" width="1.4" height="12.0" opacity="0.66"/><rect x="729.4" y="813.1" width="1.4" height="16.9" opacity="0.88"/><rect x="1684.9" y="821.3" width="1.4" height="7.2" opacity="0.73"/><rect x="598.0" y="822.3" width="1.4" height="7.9" opacity="0.51"/><rect x="1337.1" y="810.0" width="1.4" height="20.7" opacity="0.47"/><rect x="937.6" y="811.1" width="1.4" height="17.1" opacity="0.65"/><rect x="598.1" y="816.5" width="1.4" height="11.4" opacity="0.61"/><rect x="186.9" y="818.8" width="1.4" height="12.7" opacity="0.70"/><rect x="225.4" y="822.1" width="1.4" height="10.3" opacity="0.59"/><rect x="1751.2" y="816.0" width="1.4" height="14.7" opacity="0.86"/><rect x="256.2" y="816.4" width="1.4" height="11.7" opacity="0.30"/><rect x="1384.9" y="821.1" width="1.4" height="11.8" opacity="0.45"/><rect x="869.8" y="817.8" width="1.4" height="12.1" opacity="0.33"/><rect x="468.5" y="808.8" width="1.4" height="21.6" opacity="0.58"/><rect x="245.4" y="816.8" width="1.4" height="10.5" opacity="0.71"/><rect x="952.8" y="823.8" width="1.4" height="6.8" opacity="0.77"/><rect x="830.4" y="812.1" width="1.4" height="15.5" opacity="0.69"/><rect x="1167.2" y="826.3" width="1.4" height="6.6" opacity="0.76"/><rect x="794.5" y="808.1" width="1.4" height="20.0" opacity="0.85"/><rect x="736.3" y="806.5" width="1.4" height="22.0" opacity="0.84"/><rect x="350.7" y="812.0" width="1.4" height="18.5" opacity="0.88"/><rect x="1767.1" y="821.0" width="1.4" height="9.5" opacity="0.46"/><rect x="889.2" y="818.4" width="1.4" height="10.6" opacity="0.37"/><rect x="385.8" y="819.2" width="1.4" height="13.3" opacity="0.53"/><rect x="1605.1" y="811.7" width="1.4" height="20.2" opacity="0.31"/><rect x="1489.4" y="808.0" width="1.4" height="21.4" opacity="0.38"/><rect x="498.6" y="806.7" width="1.4" height="20.7" opacity="0.32"/><rect x="411.9" y="818.5" width="1.4" height="12.9" opacity="0.75"/><rect x="727.0" y="813.7" width="1.4" height="18.4" opacity="0.61"/><rect x="1735.0" y="815.2" width="1.4" height="17.2" opacity="0.37"/><rect x="1180.0" y="818.8" width="1.4" height="12.0" opacity="0.59"/><rect x="1076.5" y="810.1" width="1.4" height="21.5" opacity="0.64"/><rect x="543.0" y="813.9" width="1.4" height="14.7" opacity="0.38"/><rect x="908.1" y="815.7" width="1.4" height="17.3" opacity="0.76"/><rect x="803.8" y="815.3" width="1.4" height="14.1" opacity="0.78"/><rect x="196.4" y="818.8" width="1.4" height="14.0" opacity="0.53"/><rect x="681.4" y="824.9" width="1.4" height="6.3" opacity="0.57"/><rect x="1199.0" y="810.0" width="1.4" height="20.8" opacity="0.62"/><rect x="1296.6" y="806.3" width="1.4" height="21.0" opacity="0.89"/><rect x="607.8" y="818.7" width="1.4" height="8.7" opacity="0.35"/><rect x="853.8" y="812.0" width="1.4" height="17.8" opacity="0.53"/><rect x="1650.5" y="818.9" width="1.4" height="10.8" opacity="0.80"/><rect x="333.6" y="818.4" width="1.4" height="11.6" opacity="0.64"/><rect x="449.7" y="819.4" width="1.4" height="13.3" opacity="0.35"/><rect x="675.3" y="818.9" width="1.4" height="8.3" opacity="0.46"/><rect x="564.2" y="810.0" width="1.4" height="18.5" opacity="0.46"/><rect x="1490.9" y="814.7" width="1.4" height="16.0" opacity="0.68"/><rect x="513.9" y="817.5" width="1.4" height="10.2" opacity="0.56"/><rect x="1604.9" y="823.3" width="1.4" height="8.8" opacity="0.33"/><rect x="1341.1" y="818.0" width="1.4" height="15.0" opacity="0.33"/><rect x="1482.3" y="813.9" width="1.4" height="13.9" opacity="0.32"/><rect x="1088.5" y="820.8" width="1.4" height="7.9" opacity="0.67"/><rect x="1127.3" y="817.8" width="1.4" height="9.5" opacity="0.37"/><rect x="209.7" y="815.5" width="1.4" height="16.9" opacity="0.34"/><rect x="873.2" y="811.3" width="1.4" height="16.4" opacity="0.73"/><rect x="218.6" y="811.6" width="1.4" height="16.3" opacity="0.37"/><rect x="1365.8" y="821.1" width="1.4" height="10.1" opacity="0.30"/><rect x="1372.0" y="813.3" width="1.4" height="14.3" opacity="0.58"/><rect x="362.7" y="822.0" width="1.4" height="9.5" opacity="0.87"/><rect x="446.2" y="823.5" width="1.4" height="7.4" opacity="0.35"/><rect x="814.5" y="813.2" width="1.4" height="15.9" opacity="0.40"/><rect x="334.9" y="815.0" width="1.4" height="13.9" opacity="0.57"/><rect x="1062.4" y="811.5" width="1.4" height="20.6" opacity="0.46"/><rect x="929.3" y="813.0" width="1.4" height="14.6" opacity="0.63"/><rect x="1211.6" y="815.6" width="1.4" height="12.7" opacity="0.80"/><rect x="594.1" y="823.7" width="1.4" height="7.7" opacity="0.51"/><rect x="1592.2" y="819.0" width="1.4" height="10.2" opacity="0.68"/><rect x="1703.6" y="820.5" width="1.4" height="7.9" opacity="0.50"/><rect x="274.9" y="811.8" width="1.4" height="16.1" opacity="0.65"/><rect x="186.0" y="809.1" width="1.4" height="21.6" opacity="0.68"/><rect x="1314.7" y="820.4" width="1.4" height="10.2" opacity="0.50"/><rect x="263.1" y="821.7" width="1.4" height="7.0" opacity="0.55"/><rect x="1558.7" y="824.2" width="1.4" height="7.0" opacity="0.41"/><rect x="1682.1" y="809.0" width="1.4" height="18.6" opacity="0.60"/><rect x="276.9" y="819.0" width="1.4" height="12.7" opacity="0.32"/><rect x="1048.5" y="821.7" width="1.4" height="10.6" opacity="0.61"/><rect x="1665.0" y="809.1" width="1.4" height="21.1" opacity="0.36"/><rect x="1389.6" y="821.9" width="1.4" height="7.8" opacity="0.35"/><rect x="1755.5" y="815.7" width="1.4" height="14.7" opacity="0.46"/><rect x="1025.0" y="808.9" width="1.4" height="21.6" opacity="0.43"/><rect x="964.2" y="810.0" width="1.4" height="20.7" opacity="0.68"/><rect x="1640.8" y="816.9" width="1.4" height="11.2" opacity="0.62"/><rect x="336.0" y="820.5" width="1.4" height="6.9" opacity="0.58"/><rect x="844.6" y="808.9" width="1.4" height="20.7" opacity="0.60"/><rect x="578.3" y="813.6" width="1.4" height="17.9" opacity="0.58"/><rect x="1372.6" y="816.5" width="1.4" height="15.7" opacity="0.42"/><rect x="1266.2" y="814.7" width="1.4" height="17.7" opacity="0.90"/><rect x="325.8" y="823.8" width="1.4" height="8.7" opacity="0.57"/><rect x="1140.0" y="812.3" width="1.4" height="19.7" opacity="0.72"/><rect x="278.7" y="816.2" width="1.4" height="15.3" opacity="0.51"/><rect x="190.4" y="814.7" width="1.4" height="17.5" opacity="0.76"/><rect x="665.9" y="813.7" width="1.4" height="15.5" opacity="0.59"/><rect x="1565.4" y="810.6" width="1.4" height="20.7" opacity="0.50"/><rect x="1570.9" y="822.4" width="1.4" height="8.1" opacity="0.55"/><rect x="1737.4" y="821.0" width="1.4" height="8.1" opacity="0.75"/><rect x="1322.0" y="821.3" width="1.4" height="6.0" opacity="0.49"/><rect x="1530.9" y="813.9" width="1.4" height="16.6" opacity="0.80"/><rect x="1234.0" y="817.2" width="1.4" height="11.4" opacity="0.60"/><rect x="1293.9" y="812.4" width="1.4" height="15.8" opacity="0.40"/><rect x="930.6" y="822.2" width="1.4" height="6.0" opacity="0.76"/><rect x="1504.1" y="823.1" width="1.4" height="6.7" opacity="0.59"/><rect x="302.6" y="817.9" width="1.4" height="9.2" opacity="0.81"/><rect x="501.3" y="809.8" width="1.4" height="19.3" opacity="0.53"/><rect x="1182.0" y="821.7" width="1.4" height="9.7" opacity="0.31"/><rect x="1202.0" y="813.2" width="1.4" height="15.3" opacity="0.60"/><rect x="830.6" y="817.7" width="1.4" height="10.9" opacity="0.52"/><rect x="1101.7" y="812.2" width="1.4" height="18.1" opacity="0.71"/><rect x="205.6" y="817.8" width="1.4" height="10.2" opacity="0.39"/><rect x="197.7" y="822.2" width="1.4" height="6.2" opacity="0.36"/><rect x="869.5" y="815.2" width="1.4" height="13.0" opacity="0.59"/><rect x="976.2" y="821.8" width="1.4" height="6.4" opacity="0.76"/><rect x="1146.5" y="810.0" width="1.4" height="19.4" opacity="0.73"/><rect x="1527.4" y="817.0" width="1.4" height="15.9" opacity="0.83"/><rect x="1759.4" y="823.4" width="1.4" height="9.2" opacity="0.50"/><rect x="270.2" y="820.6" width="1.4" height="11.9" opacity="0.43"/><rect x="108.0" y="818.3" width="1.4" height="12.9" opacity="0.74"/><rect x="753.4" y="818.6" width="1.4" height="8.7" opacity="0.84"/><rect x="1256.5" y="821.1" width="1.4" height="9.5" opacity="0.57"/><rect x="786.8" y="823.8" width="1.4" height="6.4" opacity="0.76"/><rect x="1263.6" y="809.1" width="1.4" height="19.8" opacity="0.76"/><rect x="1560.5" y="807.6" width="1.4" height="20.7" opacity="0.55"/><rect x="1207.2" y="811.2" width="1.4" height="16.5" opacity="0.73"/><rect x="844.9" y="822.0" width="1.4" height="9.1" opacity="0.45"/><rect x="1244.3" y="813.5" width="1.4" height="18.3" opacity="0.62"/><rect x="1509.5" y="820.6" width="1.4" height="11.9" opacity="0.66"/><rect x="709.3" y="823.0" width="1.4" height="8.3" opacity="0.30"/><rect x="351.8" y="819.6" width="1.4" height="12.8" opacity="0.30"/><rect x="1023.4" y="806.7" width="1.4" height="21.3" opacity="0.50"/><rect x="1650.4" y="824.8" width="1.4" height="7.3" opacity="0.30"/><rect x="200.4" y="812.8" width="1.4" height="15.6" opacity="0.59"/><rect x="1447.6" y="814.3" width="1.4" height="13.2" opacity="0.66"/><rect x="1001.6" y="821.7" width="1.4" height="8.7" opacity="0.56"/><rect x="1480.2" y="821.6" width="1.4" height="9.7" opacity="0.79"/><rect x="221.2" y="817.1" width="1.4" height="14.6" opacity="0.70"/><rect x="1097.8" y="821.1" width="1.4" height="7.5" opacity="0.54"/><rect x="639.5" y="808.6" width="1.4" height="19.7" opacity="0.49"/><rect x="1237.3" y="821.9" width="1.4" height="8.0" opacity="0.35"/><rect x="1175.4" y="808.5" width="1.4" height="20.7" opacity="0.32"/><rect x="961.7" y="816.8" width="1.4" height="13.5" opacity="0.39"/><rect x="568.4" y="819.4" width="1.4" height="13.2" opacity="0.70"/><rect x="510.3" y="821.8" width="1.4" height="10.6" opacity="0.48"/><rect x="1661.6" y="821.8" width="1.4" height="10.7" opacity="0.51"/><rect x="1684.9" y="823.5" width="1.4" height="7.4" opacity="0.43"/><rect x="1244.1" y="819.0" width="1.4" height="13.4" opacity="0.82"/><rect x="651.9" y="813.3" width="1.4" height="17.0" opacity="0.82"/><rect x="199.9" y="821.6" width="1.4" height="9.6" opacity="0.46"/><rect x="1478.8" y="816.9" width="1.4" height="14.0" opacity="0.60"/><rect x="1518.7" y="815.2" width="1.4" height="15.1" opacity="0.69"/><rect x="1132.4" y="818.0" width="1.4" height="12.5" opacity="0.38"/><rect x="837.7" y="811.1" width="1.4" height="20.1" opacity="0.52"/><rect x="1112.7" y="816.5" width="1.4" height="15.4" opacity="0.57"/><rect x="1331.4" y="825.7" width="1.4" height="6.7" opacity="0.75"/><rect x="1618.2" y="825.4" width="1.4" height="7.1" opacity="0.68"/><rect x="578.9" y="816.3" width="1.4" height="16.5" opacity="0.57"/><rect x="373.2" y="817.5" width="1.4" height="11.3" opacity="0.61"/><rect x="1531.5" y="809.8" width="1.4" height="19.5" opacity="0.81"/><rect x="399.5" y="817.5" width="1.4" height="13.6" opacity="0.67"/><rect x="288.8" y="810.6" width="1.4" height="20.2" opacity="0.77"/><rect x="1681.2" y="809.6" width="1.4" height="21.0" opacity="0.81"/><rect x="1771.9" y="820.4" width="1.4" height="8.1" opacity="0.74"/><rect x="868.9" y="821.5" width="1.4" height="10.4" opacity="0.55"/><rect x="1662.8" y="819.0" width="1.4" height="12.4" opacity="0.67"/><rect x="834.8" y="814.5" width="1.4" height="15.8" opacity="0.47"/><rect x="161.9" y="810.0" width="1.4" height="19.1" opacity="0.45"/><rect x="938.6" y="814.7" width="1.4" height="15.3" opacity="0.84"/><rect x="1406.2" y="820.1" width="1.4" height="10.9" opacity="0.67"/><rect x="374.3" y="811.8" width="1.4" height="20.9" opacity="0.60"/><rect x="560.2" y="818.3" width="1.4" height="14.4" opacity="0.43"/><rect x="1758.6" y="813.1" width="1.4" height="18.6" opacity="0.57"/><rect x="156.9" y="823.9" width="1.4" height="8.0" opacity="0.89"/><rect x="624.6" y="822.6" width="1.4" height="10.0" opacity="0.37"/><rect x="1769.1" y="809.6" width="1.4" height="17.8" opacity="0.80"/><rect x="1413.0" y="821.9" width="1.4" height="10.1" opacity="0.46"/><rect x="212.1" y="819.9" width="1.4" height="8.8" opacity="0.59"/><rect x="120.1" y="817.0" width="1.4" height="10.9" opacity="0.81"/><rect x="1323.9" y="809.8" width="1.4" height="17.7" opacity="0.63"/><rect x="744.3" y="816.1" width="1.4" height="15.2" opacity="0.32"/><rect x="537.8" y="819.0" width="1.4" height="13.3" opacity="0.35"/><rect x="516.6" y="815.4" width="1.4" height="11.9" opacity="0.59"/><rect x="1503.9" y="811.5" width="1.4" height="17.9" opacity="0.49"/><rect x="760.0" y="818.1" width="1.4" height="11.1" opacity="0.81"/><rect x="1426.3" y="821.4" width="1.4" height="10.7" opacity="0.31"/><rect x="1081.2" y="823.3" width="1.4" height="9.6" opacity="0.48"/><rect x="485.0" y="819.7" width="1.4" height="9.3" opacity="0.65"/><rect x="574.2" y="814.1" width="1.4" height="17.7" opacity="0.85"/><rect x="301.5" y="813.3" width="1.4" height="15.5" opacity="0.74"/><rect x="918.2" y="809.3" width="1.4" height="19.9" opacity="0.71"/><rect x="234.9" y="821.2" width="1.4" height="9.0" opacity="0.63"/><rect x="261.9" y="813.1" width="1.4" height="17.9" opacity="0.59"/><rect x="976.5" y="811.8" width="1.4" height="19.4" opacity="0.64"/><rect x="1116.3" y="814.6" width="1.4" height="16.5" opacity="0.47"/><rect x="890.1" y="813.5" width="1.4" height="15.6" opacity="0.38"/><rect x="849.5" y="816.9" width="1.4" height="15.0" opacity="0.36"/><rect x="1657.9" y="823.7" width="1.4" height="6.3" opacity="0.48"/><rect x="154.6" y="821.7" width="1.4" height="10.3" opacity="0.54"/><rect x="1625.9" y="823.6" width="1.4" height="7.3" opacity="0.72"/><rect x="1148.9" y="825.3" width="1.4" height="6.3" opacity="0.47"/><rect x="1601.0" y="818.4" width="1.4" height="13.1" opacity="0.59"/><rect x="914.8" y="820.6" width="1.4" height="8.4" opacity="0.73"/><rect x="901.6" y="813.8" width="1.4" height="14.6" opacity="0.87"/><rect x="1128.6" y="823.3" width="1.4" height="6.7" opacity="0.70"/><rect x="656.6" y="813.8" width="1.4" height="16.9" opacity="0.67"/><rect x="1130.9" y="810.7" width="1.4" height="16.7" opacity="0.72"/><rect x="1290.3" y="814.3" width="1.4" height="17.3" opacity="0.67"/><rect x="1141.4" y="821.5" width="1.4" height="7.0" opacity="0.44"/><rect x="926.5" y="814.3" width="1.4" height="14.4" opacity="0.76"/><rect x="886.4" y="809.3" width="1.4" height="21.0" opacity="0.64"/><rect x="1762.8" y="817.5" width="1.4" height="11.2" opacity="0.87"/><rect x="243.9" y="810.7" width="1.4" height="18.4" opacity="0.62"/><rect x="1424.6" y="812.4" width="1.4" height="19.8" opacity="0.59"/><rect x="1133.0" y="810.1" width="1.4" height="17.2" opacity="0.78"/><rect x="1489.6" y="823.4" width="1.4" height="7.0" opacity="0.85"/><rect x="1686.6" y="812.9" width="1.4" height="18.1" opacity="0.76"/><rect x="992.8" y="812.5" width="1.4" height="16.7" opacity="0.82"/><rect x="1298.4" y="808.5" width="1.4" height="21.5" opacity="0.60"/><rect x="1203.3" y="817.7" width="1.4" height="15.0" opacity="0.88"/><rect x="636.2" y="818.8" width="1.4" height="14.0" opacity="0.41"/><rect x="1657.6" y="820.8" width="1.4" height="10.4" opacity="0.79"/><rect x="506.7" y="812.9" width="1.4" height="16.7" opacity="0.84"/><rect x="900.9" y="820.2" width="1.4" height="11.3" opacity="0.52"/><rect x="102.7" y="824.2" width="1.4" height="7.9" opacity="0.49"/><rect x="1389.1" y="809.8" width="1.4" height="21.1" opacity="0.45"/><rect x="593.6" y="814.1" width="1.4" height="16.1" opacity="0.37"/><rect x="979.5" y="821.8" width="1.4" height="10.3" opacity="0.77"/><rect x="278.7" y="815.4" width="1.4" height="13.0" opacity="0.63"/><rect x="1565.3" y="816.2" width="1.4" height="11.1" opacity="0.33"/><rect x="1601.4" y="820.2" width="1.4" height="12.8" opacity="0.46"/><rect x="1758.1" y="811.1" width="1.4" height="17.5" opacity="0.79"/><rect x="113.2" y="819.3" width="1.4" height="10.9" opacity="0.85"/><rect x="1622.9" y="818.7" width="1.4" height="8.4" opacity="0.63"/><rect x="612.6" y="823.1" width="1.4" height="7.3" opacity="0.61"/><rect x="861.7" y="816.3" width="1.4" height="11.0" opacity="0.59"/><rect x="617.7" y="813.1" width="1.4" height="18.4" opacity="0.55"/><rect x="276.8" y="817.2" width="1.4" height="9.8" opacity="0.67"/><rect x="979.3" y="812.2" width="1.4" height="16.8" opacity="0.61"/><rect x="716.5" y="824.5" width="1.4" height="8.4" opacity="0.37"/><rect x="781.1" y="822.8" width="1.4" height="6.2" opacity="0.50"/><rect x="493.6" y="819.0" width="1.4" height="11.0" opacity="0.43"/><rect x="1529.7" y="818.9" width="1.4" height="13.7" opacity="0.35"/><rect x="1593.2" y="816.0" width="1.4" height="15.3" opacity="0.73"/><rect x="179.5" y="807.2" width="1.4" height="20.2" opacity="0.70"/><rect x="187.0" y="815.2" width="1.4" height="12.8" opacity="0.66"/><rect x="452.4" y="822.9" width="1.4" height="9.8" opacity="0.61"/><rect x="406.2" y="814.5" width="1.4" height="13.1" opacity="0.84"/><rect x="926.1" y="813.7" width="1.4" height="18.5" opacity="0.87"/><rect x="1551.7" y="814.0" width="1.4" height="13.7" opacity="0.48"/><rect x="1744.2" y="816.3" width="1.4" height="11.2" opacity="0.80"/><rect x="1667.3" y="814.9" width="1.4" height="17.6" opacity="0.47"/><rect x="1200.4" y="808.4" width="1.4" height="20.5" opacity="0.32"/><rect x="684.6" y="820.5" width="1.4" height="11.5" opacity="0.44"/><rect x="966.8" y="819.4" width="1.4" height="12.0" opacity="0.55"/><rect x="1688.5" y="812.9" width="1.4" height="15.5" opacity="0.86"/><rect x="154.3" y="812.3" width="1.4" height="20.1" opacity="0.42"/><rect x="1340.5" y="811.3" width="1.4" height="18.0" opacity="0.59"/><rect x="1311.7" y="819.0" width="1.4" height="12.8" opacity="0.43"/><rect x="291.2" y="820.7" width="1.4" height="6.6" opacity="0.87"/><rect x="686.2" y="818.7" width="1.4" height="12.6" opacity="0.77"/><rect x="927.0" y="819.0" width="1.4" height="8.7" opacity="0.86"/><rect x="180.3" y="818.3" width="1.4" height="13.3" opacity="0.68"/><rect x="703.1" y="820.4" width="1.4" height="10.8" opacity="0.66"/><rect x="945.0" y="815.1" width="1.4" height="13.8" opacity="0.58"/><rect x="1687.9" y="815.2" width="1.4" height="13.0" opacity="0.86"/><rect x="1143.5" y="812.8" width="1.4" height="15.4" opacity="0.73"/><rect x="426.5" y="819.4" width="1.4" height="12.7" opacity="0.31"/><rect x="1253.3" y="820.2" width="1.4" height="11.3" opacity="0.32"/><rect x="140.3" y="814.1" width="1.4" height="16.7" opacity="0.56"/><rect x="1234.2" y="808.3" width="1.4" height="20.5" opacity="0.43"/><rect x="1758.6" y="820.6" width="1.4" height="8.9" opacity="0.69"/><rect x="583.8" y="809.1" width="1.4" height="20.2" opacity="0.73"/><rect x="334.5" y="812.0" width="1.4" height="19.3" opacity="0.67"/><rect x="1336.5" y="820.3" width="1.4" height="11.2" opacity="0.50"/><rect x="1740.5" y="813.7" width="1.4" height="16.5" opacity="0.64"/><rect x="1200.4" y="822.4" width="1.4" height="10.2" opacity="0.37"/><rect x="1077.2" y="811.6" width="1.4" height="15.6" opacity="0.67"/><rect x="1530.8" y="808.2" width="1.4" height="21.8" opacity="0.55"/><rect x="891.5" y="816.5" width="1.4" height="11.9" opacity="0.65"/><rect x="307.7" y="808.6" width="1.4" height="21.3" opacity="0.75"/><rect x="1019.1" y="814.1" width="1.4" height="15.4" opacity="0.37"/><rect x="321.5" y="813.2" width="1.4" height="17.7" opacity="0.38"/><rect x="1467.9" y="810.4" width="1.4" height="18.0" opacity="0.53"/><rect x="323.0" y="813.6" width="1.4" height="18.2" opacity="0.70"/><rect x="1268.6" y="822.6" width="1.4" height="10.4" opacity="0.65"/><rect x="1425.8" y="811.7" width="1.4" height="15.4" opacity="0.44"/><rect x="1326.6" y="816.6" width="1.4" height="13.0" opacity="0.48"/><rect x="488.3" y="814.6" width="1.4" height="14.8" opacity="0.85"/><rect x="1113.8" y="815.1" width="1.4" height="14.0" opacity="0.68"/><rect x="785.5" y="818.6" width="1.4" height="10.3" opacity="0.53"/><rect x="164.9" y="822.1" width="1.4" height="8.7" opacity="0.71"/><rect x="1201.2" y="814.3" width="1.4" height="13.8" opacity="0.50"/><rect x="690.3" y="810.9" width="1.4" height="18.0" opacity="0.56"/><rect x="1591.7" y="823.4" width="1.4" height="6.4" opacity="0.81"/><rect x="1574.4" y="819.1" width="1.4" height="9.1" opacity="0.62"/><rect x="1668.4" y="817.8" width="1.4" height="11.3" opacity="0.69"/><rect x="1761.0" y="819.2" width="1.4" height="11.4" opacity="0.37"/><rect x="1247.3" y="820.8" width="1.4" height="7.1" opacity="0.39"/><rect x="421.7" y="808.8" width="1.4" height="21.2" opacity="0.75"/><rect x="681.2" y="820.9" width="1.4" height="9.9" opacity="0.89"/><rect x="423.9" y="807.2" width="1.4" height="20.5" opacity="0.71"/><rect x="547.4" y="809.9" width="1.4" height="17.7" opacity="0.66"/><rect x="471.0" y="811.5" width="1.4" height="15.8" opacity="0.65"/><rect x="352.6" y="820.0" width="1.4" height="9.2" opacity="0.33"/><rect x="104.7" y="819.5" width="1.4" height="12.0" opacity="0.60"/><rect x="225.5" y="814.0" width="1.4" height="15.0" opacity="0.49"/><rect x="1076.5" y="813.8" width="1.4" height="14.4" opacity="0.65"/><rect x="1171.0" y="813.0" width="1.4" height="15.0" opacity="0.36"/><rect x="293.3" y="808.1" width="1.4" height="19.9" opacity="0.30"/><rect x="1599.6" y="812.1" width="1.4" height="15.7" opacity="0.72"/><rect x="732.4" y="820.6" width="1.4" height="7.8" opacity="0.73"/><rect x="889.8" y="820.5" width="1.4" height="10.3" opacity="0.86"/><rect x="878.1" y="817.7" width="1.4" height="9.4" opacity="0.89"/><rect x="398.5" y="819.5" width="1.4" height="9.2" opacity="0.53"/><rect x="896.2" y="814.4" width="1.4" height="16.9" opacity="0.66"/><rect x="444.3" y="820.2" width="1.4" height="9.5" opacity="0.56"/><rect x="1600.3" y="819.2" width="1.4" height="8.3" opacity="0.46"/><rect x="676.6" y="823.4" width="1.4" height="7.7" opacity="0.89"/><rect x="708.7" y="807.8" width="1.4" height="19.4" opacity="0.72"/><rect x="411.1" y="819.1" width="1.4" height="12.9" opacity="0.45"/><rect x="663.3" y="820.3" width="1.4" height="8.7" opacity="0.61"/><rect x="589.6" y="822.1" width="1.4" height="10.1" opacity="0.37"/><rect x="837.0" y="822.7" width="1.4" height="7.2" opacity="0.45"/><rect x="1395.4" y="817.6" width="1.4" height="10.3" opacity="0.87"/><rect x="1659.1" y="817.8" width="1.4" height="9.6" opacity="0.58"/><rect x="1583.7" y="816.3" width="1.4" height="13.4" opacity="0.46"/><rect x="1370.8" y="815.8" width="1.4" height="11.9" opacity="0.72"/><rect x="820.7" y="824.9" width="1.4" height="6.5" opacity="0.55"/><rect x="722.6" y="817.6" width="1.4" height="15.3" opacity="0.58"/><rect x="1596.9" y="807.6" width="1.4" height="21.2" opacity="0.71"/><rect x="1111.9" y="806.3" width="1.4" height="22.0" opacity="0.58"/><rect x="932.3" y="808.7" width="1.4" height="21.0" opacity="0.66"/><rect x="617.5" y="813.4" width="1.4" height="16.6" opacity="0.87"/><rect x="1776.4" y="805.4" width="1.4" height="21.9" opacity="0.33"/><rect x="224.5" y="816.6" width="1.4" height="11.4" opacity="0.63"/><rect x="532.5" y="823.9" width="1.4" height="7.6" opacity="0.38"/><rect x="342.9" y="813.9" width="1.4" height="17.9" opacity="0.40"/></g><g fill="rgb(169,169,169)" filter="url(#blur1)"><rect x="1140.4" y="817.8" width="1.3" height="5.9"/><rect x="1191.2" y="813.6" width="1.3" height="11.1"/><rect x="1325.9" y="820.9" width="1.3" height="6.9"/><rect x="738.5" y="815.1" width="1.3" height="7.7"/><rect x="832.6" y="815.1" width="1.3" height="10.6"/><rect x="241.0" y="819.7" width="1.3" height="6.5"/><rect x="1424.2" y="822.9" width="1.3" height="6.6"/><rect x="733.8" y="819.6" width="1.3" height="8.2"/><rect x="1651.2" y="820.0" width="1.3" height="9.3"/><rect x="678.7" y="821.8" width="1.3" height="8.6"/><rect x="758.8" y="820.0" width="1.3" height="5.5"/><rect x="1554.6" y="814.7" width="1.3" height="11.3"/><rect x="746.6" y="817.5" width="1.3" height="8.9"/><rect x="398.0" y="818.2" width="1.3" height="8.8"/><rect x="432.9" y="815.5" width="1.3" height="8.1"/><rect x="1176.5" y="822.3" width="1.3" height="7.3"/><rect x="1157.9" y="820.2" width="1.3" height="8.9"/><rect x="891.3" y="817.9" width="1.3" height="7.8"/><rect x="1573.2" y="819.0" width="1.3" height="7.6"/><rect x="1043.5" y="819.9" width="1.3" height="9.7"/><rect x="515.9" y="819.1" width="1.3" height="11.5"/><rect x="1242.8" y="820.3" width="1.3" height="6.8"/><rect x="858.3" y="823.6" width="1.3" height="6.7"/><rect x="1705.5" y="825.3" width="1.3" height="5.3"/><rect x="1339.7" y="822.5" width="1.3" height="7.6"/><rect x="1402.4" y="818.1" width="1.3" height="11.9"/><rect x="1286.2" y="814.2" width="1.3" height="7.8"/><rect x="1101.7" y="814.1" width="1.3" height="11.3"/><rect x="322.9" y="816.9" width="1.3" height="8.1"/><rect x="358.6" y="816.5" width="1.3" height="5.6"/><rect x="1649.1" y="821.8" width="1.3" height="9.6"/><rect x="1276.3" y="812.3" width="1.3" height="11.9"/><rect x="1300.3" y="817.6" width="1.3" height="8.1"/><rect x="1653.6" y="822.8" width="1.3" height="8.5"/><rect x="345.6" y="813.2" width="1.3" height="11.7"/><rect x="1668.5" y="824.9" width="1.3" height="6.0"/><rect x="1246.4" y="819.4" width="1.3" height="8.0"/><rect x="492.1" y="813.8" width="1.3" height="10.3"/><rect x="1318.0" y="819.1" width="1.3" height="8.0"/><rect x="764.8" y="820.5" width="1.3" height="8.3"/><rect x="887.7" y="812.2" width="1.3" height="11.7"/><rect x="328.9" y="814.1" width="1.3" height="9.7"/><rect x="679.8" y="811.4" width="1.3" height="11.2"/><rect x="220.7" y="818.8" width="1.3" height="9.4"/><rect x="883.6" y="814.6" width="1.3" height="8.8"/><rect x="1158.7" y="818.3" width="1.3" height="11.2"/><rect x="1436.8" y="822.4" width="1.3" height="7.7"/><rect x="1447.2" y="820.7" width="1.3" height="9.0"/><rect x="1598.6" y="816.8" width="1.3" height="8.4"/><rect x="1752.5" y="819.3" width="1.3" height="7.3"/><rect x="1017.4" y="819.7" width="1.3" height="7.0"/><rect x="1720.0" y="819.5" width="1.3" height="9.9"/><rect x="1246.9" y="819.0" width="1.3" height="9.3"/><rect x="1226.4" y="816.6" width="1.3" height="7.6"/><rect x="751.9" y="818.3" width="1.3" height="10.8"/><rect x="390.1" y="823.4" width="1.3" height="7.3"/><rect x="1567.5" y="815.9" width="1.3" height="12.0"/><rect x="504.6" y="812.3" width="1.3" height="11.2"/><rect x="511.5" y="819.9" width="1.3" height="7.1"/><rect x="323.7" y="821.6" width="1.3" height="6.5"/></g><rect x="102.5" y="818.6" width="1397.5" height="2.6" fill="rgb(44,44,44)" opacity="0.22"/><rect x="99.5" y="69.5" width="1680.4" height="9" fill="rgb(111,111,111)" opacity="0.45" filter="url(#blur1)"/><g fill="rgb(28,28,28)" opacity="0.42" filter="url(#blurS)"><ellipse cx="105.5" cy="74.0" rx="2.6" ry="4.6"/><ellipse cx="117.4" cy="74.0" rx="2.6" ry="4.6"/><ellipse cx="129.4" cy="74.0" rx="2.6" ry="4.6"/><ellipse cx="141.9" cy="74.0" rx="2.6" ry="4.6"/><ellipse cx="154.1" cy="74.0" rx="2.6" ry="4.6"/><ellipse cx="167.0" cy="74.0" rx="2.6" ry="4.6"/><ellipse cx="180.0" cy="74.0" rx="2.6" ry="4.6"/><ellipse cx="192.6" cy="74.0" rx="2.6" ry="4.6"/><ellipse cx="204.7" cy="74.0" rx="2.6" ry="4.6"/><ellipse cx="217.4" cy="74.0" rx="2.6" ry="4.6"/><ellipse cx="229.6" cy="74.0" rx="2.6" ry="4.6"/><ellipse cx="242.5" cy="74.0" rx="2.6" ry="4.6"/><ellipse cx="254.8" cy="74.0" rx="2.6" ry="4.6"/><ellipse cx="267.4" cy="74.0" rx="2.6" ry="4.6"/><ellipse cx="280.1" cy="74.0" rx="2.6" ry="4.6"/><ellipse cx="292.7" cy="74.0" rx="2.6" ry="4.6"/><ellipse cx="305.4" cy="74.0" rx="2.6" ry="4.6"/><ellipse cx="317.6" cy="74.0" rx="2.6" ry="4.6"/><ellipse cx="329.6" cy="74.0" rx="2.6" ry="4.6"/><ellipse cx="341.9" cy="74.0" rx="2.6" ry="4.6"/><ellipse cx="354.8" cy="74.0" rx="2.6" ry="4.6"/><ellipse cx="366.7" cy="74.0" rx="2.6" ry="4.6"/><ellipse cx="378.8" cy="74.0" rx="2.6" ry="4.6"/><ellipse cx="391.0" cy="74.0" rx="2.6" ry="4.6"/><ellipse cx="403.3" cy="74.0" rx="2.6" ry="4.6"/><ellipse cx="416.1" cy="74.0" rx="2.6" ry="4.6"/><ellipse cx="428.2" cy="74.0" rx="2.6" ry="4.6"/><ellipse cx="440.1" cy="74.0" rx="2.6" ry="4.6"/><ellipse cx="451.9" cy="74.0" rx="2.6" ry="4.6"/><ellipse cx="464.1" cy="74.0" rx="2.6" ry="4.6"/><ellipse cx="476.8" cy="74.0" rx="2.6" ry="4.6"/><ellipse cx="489.1" cy="74.0" rx="2.6" ry="4.6"/><ellipse cx="501.7" cy="74.0" rx="2.6" ry="4.6"/><ellipse cx="514.1" cy="74.0" rx="2.6" ry="4.6"/><ellipse cx="526.3" cy="74.0" rx="2.6" ry="4.6"/><ellipse cx="538.6" cy="74.0" rx="2.6" ry="4.6"/><ellipse cx="550.5" cy="74.0" rx="2.6" ry="4.6"/><ellipse cx="563.4" cy="74.0" rx="2.6" ry="4.6"/><ellipse cx="576.1" cy="74.0" rx="2.6" ry="4.6"/><ellipse cx="588.0" cy="74.0" rx="2.6" ry="4.6"/><ellipse cx="600.1" cy="74.0" rx="2.6" ry="4.6"/><ellipse cx="612.8" cy="74.0" rx="2.6" ry="4.6"/><ellipse cx="625.2" cy="74.0" rx="2.6" ry="4.6"/><ellipse cx="637.9" cy="74.0" rx="2.6" ry="4.6"/><ellipse cx="650.6" cy="74.0" rx="2.6" ry="4.6"/><ellipse cx="662.6" cy="74.0" rx="2.6" ry="4.6"/><ellipse cx="675.4" cy="74.0" rx="2.6" ry="4.6"/><ellipse cx="687.4" cy="74.0" rx="2.6" ry="4.6"/><ellipse cx="699.4" cy="74.0" rx="2.6" ry="4.6"/><ellipse cx="712.1" cy="74.0" rx="2.6" ry="4.6"/><ellipse cx="724.9" cy="74.0" rx="2.6" ry="4.6"/><ellipse cx="737.0" cy="74.0" rx="2.6" ry="4.6"/><ellipse cx="749.3" cy="74.0" rx="2.6" ry="4.6"/><ellipse cx="762.0" cy="74.0" rx="2.6" ry="4.6"/><ellipse cx="774.1" cy="74.0" rx="2.6" ry="4.6"/><ellipse cx="786.5" cy="74.0" rx="2.6" ry="4.6"/><ellipse cx="799.4" cy="74.0" rx="2.6" ry="4.6"/><ellipse cx="811.4" cy="74.0" rx="2.6" ry="4.6"/><ellipse cx="824.3" cy="74.0" rx="2.6" ry="4.6"/><ellipse cx="837.2" cy="74.0" rx="2.6" ry="4.6"/><ellipse cx="850.2" cy="74.0" rx="2.6" ry="4.6"/><ellipse cx="862.3" cy="74.0" rx="2.6" ry="4.6"/><ellipse cx="874.3" cy="74.0" rx="2.6" ry="4.6"/><ellipse cx="886.7" cy="74.0" rx="2.6" ry="4.6"/><ellipse cx="898.7" cy="74.0" rx="2.6" ry="4.6"/><ellipse cx="911.6" cy="74.0" rx="2.6" ry="4.6"/><ellipse cx="924.1" cy="74.0" rx="2.6" ry="4.6"/><ellipse cx="936.9" cy="74.0" rx="2.6" ry="4.6"/><ellipse cx="949.3" cy="74.0" rx="2.6" ry="4.6"/><ellipse cx="961.7" cy="74.0" rx="2.6" ry="4.6"/><ellipse cx="974.6" cy="74.0" rx="2.6" ry="4.6"/><ellipse cx="986.5" cy="74.0" rx="2.6" ry="4.6"/><ellipse cx="998.6" cy="74.0" rx="2.6" ry="4.6"/><ellipse cx="1011.4" cy="74.0" rx="2.6" ry="4.6"/><ellipse cx="1024.0" cy="74.0" rx="2.6" ry="4.6"/><ellipse cx="1036.7" cy="74.0" rx="2.6" ry="4.6"/><ellipse cx="1049.7" cy="74.0" rx="2.6" ry="4.6"/><ellipse cx="1062.4" cy="74.0" rx="2.6" ry="4.6"/><ellipse cx="1074.9" cy="74.0" rx="2.6" ry="4.6"/><ellipse cx="1087.6" cy="74.0" rx="2.6" ry="4.6"/><ellipse cx="1100.1" cy="74.0" rx="2.6" ry="4.6"/><ellipse cx="1112.1" cy="74.0" rx="2.6" ry="4.6"/><ellipse cx="1124.3" cy="74.0" rx="2.6" ry="4.6"/><ellipse cx="1137.2" cy="74.0" rx="2.6" ry="4.6"/><ellipse cx="1149.7" cy="74.0" rx="2.6" ry="4.6"/><ellipse cx="1161.5" cy="74.0" rx="2.6" ry="4.6"/><ellipse cx="1174.1" cy="74.0" rx="2.6" ry="4.6"/><ellipse cx="1187.1" cy="74.0" rx="2.6" ry="4.6"/><ellipse cx="1199.6" cy="74.0" rx="2.6" ry="4.6"/><ellipse cx="1212.0" cy="74.0" rx="2.6" ry="4.6"/><ellipse cx="1224.4" cy="74.0" rx="2.6" ry="4.6"/><ellipse cx="1236.9" cy="74.0" rx="2.6" ry="4.6"/><ellipse cx="1249.5" cy="74.0" rx="2.6" ry="4.6"/><ellipse cx="1261.8" cy="74.0" rx="2.6" ry="4.6"/><ellipse cx="1274.7" cy="74.0" rx="2.6" ry="4.6"/><ellipse cx="1287.6" cy="74.0" rx="2.6" ry="4.6"/><ellipse cx="1300.3" cy="74.0" rx="2.6" ry="4.6"/><ellipse cx="1313.0" cy="74.0" rx="2.6" ry="4.6"/><ellipse cx="1325.7" cy="74.0" rx="2.6" ry="4.6"/><ellipse cx="1337.7" cy="74.0" rx="2.6" ry="4.6"/><ellipse cx="1350.1" cy="74.0" rx="2.6" ry="4.6"/><ellipse cx="1362.2" cy="74.0" rx="2.6" ry="4.6"/><ellipse cx="1374.3" cy="74.0" rx="2.6" ry="4.6"/><ellipse cx="1387.2" cy="74.0" rx="2.6" ry="4.6"/><ellipse cx="1399.3" cy="74.0" rx="2.6" ry="4.6"/><ellipse cx="1412.1" cy="74.0" rx="2.6" ry="4.6"/><ellipse cx="1424.9" cy="74.0" rx="2.6" ry="4.6"/><ellipse cx="1437.1" cy="74.0" rx="2.6" ry="4.6"/><ellipse cx="1449.0" cy="74.0" rx="2.6" ry="4.6"/><ellipse cx="1461.0" cy="74.0" rx="2.6" ry="4.6"/><ellipse cx="1473.6" cy="74.0" rx="2.6" ry="4.6"/><ellipse cx="1486.2" cy="74.0" rx="2.6" ry="4.6"/><ellipse cx="1498.4" cy="74.0" rx="2.6" ry="4.6"/><ellipse cx="1511.0" cy="74.0" rx="2.6" ry="4.6"/><ellipse cx="1523.0" cy="74.0" rx="2.6" ry="4.6"/><ellipse cx="1535.5" cy="74.0" rx="2.6" ry="4.6"/><ellipse cx="1548.3" cy="74.0" rx="2.6" ry="4.6"/><ellipse cx="1561.0" cy="74.0" rx="2.6" ry="4.6"/><ellipse cx="1573.5" cy="74.0" rx="2.6" ry="4.6"/><ellipse cx="1586.0" cy="74.0" rx="2.6" ry="4.6"/><ellipse cx="1597.8" cy="74.0" rx="2.6" ry="4.6"/><ellipse cx="1609.9" cy="74.0" rx="2.6" ry="4.6"/><ellipse cx="1622.2" cy="74.0" rx="2.6" ry="4.6"/><ellipse cx="1634.1" cy="74.0" rx="2.6" ry="4.6"/><ellipse cx="1646.0" cy="74.0" rx="2.6" ry="4.6"/><ellipse cx="1658.9" cy="74.0" rx="2.6" ry="4.6"/><ellipse cx="1671.5" cy="74.0" rx="2.6" ry="4.6"/><ellipse cx="1684.0" cy="74.0" rx="2.6" ry="4.6"/><ellipse cx="1696.6" cy="74.0" rx="2.6" ry="4.6"/><ellipse cx="1709.5" cy="74.0" rx="2.6" ry="4.6"/><ellipse cx="1722.0" cy="74.0" rx="2.6" ry="4.6"/><ellipse cx="1734.4" cy="74.0" rx="2.6" ry="4.6"/><ellipse cx="1746.6" cy="74.0" rx="2.6" ry="4.6"/><ellipse cx="1759.6" cy="74.0" rx="2.6" ry="4.6"/><ellipse cx="1772.5" cy="74.0" rx="2.6" ry="4.6"/></g><rect x="102.5" y="748.5" width="1674.4" height="2.6" fill="rgb(44,44,44)" opacity="0.38"/><g fill="rgb(138,138,138)" filter="url(#blur1)"><rect x="104.5" y="747.8" width="6.0" height="4" opacity="0.77"/><rect x="116.5" y="747.8" width="2.0" height="4" opacity="0.80"/><rect x="124.5" y="747.8" width="4.0" height="4" opacity="0.73"/><rect x="140.5" y="747.8" width="2.0" height="4" opacity="0.48"/><rect x="154.5" y="747.8" width="4.0" height="4" opacity="0.60"/><rect x="161.5" y="747.8" width="2.0" height="4" opacity="0.52"/><rect x="169.5" y="747.8" width="6.0" height="4" opacity="0.91"/><rect x="179.5" y="747.8" width="2.0" height="4" opacity="0.47"/><rect x="185.5" y="747.8" width="3.0" height="4" opacity="0.70"/><rect x="194.5" y="747.8" width="2.0" height="4" opacity="0.46"/><rect x="199.5" y="747.8" width="2.0" height="4" opacity="0.63"/><rect x="207.5" y="747.8" width="6.0" height="4" opacity="0.60"/><rect x="216.5" y="747.8" width="6.0" height="4" opacity="0.76"/><rect x="228.5" y="747.8" width="2.0" height="4" opacity="0.76"/><rect x="233.5" y="747.8" width="2.0" height="4" opacity="0.60"/><rect x="239.5" y="747.8" width="6.0" height="4" opacity="0.63"/><rect x="257.5" y="747.8" width="4.0" height="4" opacity="0.63"/><rect x="273.5" y="747.8" width="3.0" height="4" opacity="0.86"/><rect x="282.5" y="747.8" width="3.0" height="4" opacity="0.78"/><rect x="289.5" y="747.8" width="8.0" height="4" opacity="0.88"/><rect x="309.5" y="747.8" width="6.0" height="4" opacity="0.58"/><rect x="324.5" y="747.8" width="6.0" height="4" opacity="0.76"/><rect x="339.5" y="747.8" width="4.0" height="4" opacity="0.79"/><rect x="355.5" y="747.8" width="4.0" height="4" opacity="0.86"/><rect x="371.5" y="747.8" width="8.0" height="4" opacity="0.55"/><rect x="385.5" y="747.8" width="3.0" height="4" opacity="0.85"/><rect x="392.5" y="747.8" width="6.0" height="4" opacity="0.77"/><rect x="404.5" y="747.8" width="4.0" height="4" opacity="0.90"/><rect x="420.5" y="747.8" width="8.0" height="4" opacity="0.69"/><rect x="437.5" y="747.8" width="8.0" height="4" opacity="0.80"/><rect x="457.5" y="747.8" width="6.0" height="4" opacity="0.84"/><rect x="469.5" y="747.8" width="8.0" height="4" opacity="0.79"/><rect x="486.5" y="747.8" width="8.0" height="4" opacity="0.80"/><rect x="500.5" y="747.8" width="3.0" height="4" opacity="0.80"/><rect x="512.5" y="747.8" width="4.0" height="4" opacity="0.46"/><rect x="520.5" y="747.8" width="4.0" height="4" opacity="0.68"/><rect x="533.5" y="747.8" width="2.0" height="4" opacity="0.85"/><rect x="742.5" y="747.8" width="4.0" height="4" opacity="0.87"/><rect x="750.5" y="747.8" width="2.0" height="4" opacity="0.88"/><rect x="761.5" y="747.8" width="3.0" height="4" opacity="0.72"/><rect x="768.5" y="747.8" width="8.0" height="4" opacity="0.87"/><rect x="785.5" y="747.8" width="2.0" height="4" opacity="0.87"/><rect x="799.5" y="747.8" width="8.0" height="4" opacity="0.82"/><rect x="819.5" y="747.8" width="3.0" height="4" opacity="0.62"/><rect x="825.5" y="747.8" width="2.0" height="4" opacity="0.55"/><rect x="831.5" y="747.8" width="6.0" height="4" opacity="0.83"/><rect x="846.5" y="747.8" width="6.0" height="4" opacity="0.51"/><rect x="864.5" y="747.8" width="3.0" height="4" opacity="0.79"/><rect x="871.5" y="747.8" width="8.0" height="4" opacity="0.58"/><rect x="883.5" y="747.8" width="3.0" height="4" opacity="0.57"/><rect x="898.5" y="747.8" width="8.0" height="4" opacity="0.84"/><rect x="915.5" y="747.8" width="3.0" height="4" opacity="0.68"/><rect x="930.5" y="747.8" width="3.0" height="4" opacity="0.93"/><rect x="936.5" y="747.8" width="6.0" height="4" opacity="0.79"/><rect x="954.5" y="747.8" width="2.0" height="4" opacity="0.81"/><rect x="965.5" y="747.8" width="2.0" height="4" opacity="0.54"/><rect x="979.5" y="747.8" width="4.0" height="4" opacity="0.66"/><rect x="995.5" y="747.8" width="4.0" height="4" opacity="0.61"/><rect x="1011.5" y="747.8" width="8.0" height="4" opacity="0.81"/><rect x="1022.5" y="747.8" width="3.0" height="4" opacity="0.51"/><rect x="1037.5" y="747.8" width="8.0" height="4" opacity="0.62"/><rect x="1049.5" y="747.8" width="8.0" height="4" opacity="0.51"/><rect x="1060.5" y="747.8" width="8.0" height="4" opacity="0.82"/><rect x="1168.5" y="747.8" width="4.0" height="4" opacity="0.59"/><rect x="1184.5" y="747.8" width="6.0" height="4" opacity="0.60"/><rect x="1193.5" y="747.8" width="3.0" height="4" opacity="0.74"/><rect x="1199.5" y="747.8" width="4.0" height="4" opacity="0.54"/><rect x="1209.5" y="747.8" width="8.0" height="4" opacity="0.58"/><rect x="1226.5" y="747.8" width="2.0" height="4" opacity="0.72"/><rect x="1232.5" y="747.8" width="6.0" height="4" opacity="0.48"/><rect x="1242.5" y="747.8" width="2.0" height="4" opacity="0.66"/><rect x="1253.5" y="747.8" width="2.0" height="4" opacity="0.60"/><rect x="1258.5" y="747.8" width="2.0" height="4" opacity="0.82"/><rect x="1263.5" y="747.8" width="4.0" height="4" opacity="0.62"/><rect x="1279.5" y="747.8" width="8.0" height="4" opacity="0.65"/><rect x="1291.5" y="747.8" width="3.0" height="4" opacity="0.59"/><rect x="1306.5" y="747.8" width="3.0" height="4" opacity="0.91"/><rect x="1321.5" y="747.8" width="6.0" height="4" opacity="0.54"/><rect x="1491.5" y="747.8" width="3.0" height="4" opacity="0.70"/><rect x="1498.5" y="747.8" width="3.0" height="4" opacity="0.70"/><rect x="1510.5" y="747.8" width="4.0" height="4" opacity="0.53"/><rect x="1526.5" y="747.8" width="6.0" height="4" opacity="0.72"/><rect x="1544.5" y="747.8" width="4.0" height="4" opacity="0.88"/><rect x="1552.5" y="747.8" width="3.0" height="4" opacity="0.71"/><rect x="1559.5" y="747.8" width="3.0" height="4" opacity="0.72"/><rect x="1574.5" y="747.8" width="2.0" height="4" opacity="0.47"/><rect x="1580.5" y="747.8" width="8.0" height="4" opacity="0.75"/><rect x="1600.5" y="747.8" width="2.0" height="4" opacity="0.65"/><rect x="1605.5" y="747.8" width="4.0" height="4" opacity="0.51"/><rect x="1612.5" y="747.8" width="6.0" height="4" opacity="0.93"/><rect x="1621.5" y="747.8" width="6.0" height="4" opacity="0.72"/><rect x="1633.5" y="747.8" width="8.0" height="4" opacity="0.70"/><rect x="1644.5" y="747.8" width="6.0" height="4" opacity="0.87"/><rect x="1662.5" y="747.8" width="2.0" height="4" opacity="0.85"/><rect x="1670.5" y="747.8" width="8.0" height="4" opacity="0.73"/><rect x="1682.5" y="747.8" width="8.0" height="4" opacity="0.80"/><rect x="1694.5" y="747.8" width="8.0" height="4" opacity="0.59"/><rect x="1711.5" y="747.8" width="8.0" height="4" opacity="0.63"/><rect x="1728.5" y="747.8" width="4.0" height="4" opacity="0.81"/><rect x="1744.5" y="747.8" width="8.0" height="4" opacity="0.55"/><rect x="1756.5" y="747.8" width="6.0" height="4" opacity="0.57"/><rect x="1768.5" y="747.8" width="2.0" height="4" opacity="0.87"/></g><g fill="rgb(138,138,138)"><rect x="591.8" y="807.0" width="1.3" height="9.0" opacity="0.34"/><rect x="596.7" y="802.6" width="1.3" height="11.9" opacity="0.49"/><rect x="600.6" y="798.2" width="1.3" height="13.2" opacity="0.41"/><rect x="605.3" y="793.9" width="1.3" height="13.5" opacity="0.39"/><rect x="609.8" y="789.5" width="1.3" height="13.8" opacity="0.74"/><rect x="614.1" y="785.1" width="1.3" height="15.0" opacity="0.40"/><rect x="618.8" y="780.8" width="1.3" height="14.5" opacity="0.52"/><rect x="623.5" y="776.4" width="1.3" height="9.8" opacity="0.53"/><rect x="628.0" y="772.0" width="1.3" height="14.7" opacity="0.39"/><rect x="632.1" y="766.3" width="1.3" height="14.3" opacity="0.71"/><rect x="637.1" y="760.6" width="1.3" height="14.0" opacity="0.55"/><rect x="640.7" y="754.9" width="1.3" height="14.1" opacity="0.37"/><rect x="645.8" y="749.2" width="1.3" height="13.1" opacity="0.33"/><rect x="649.7" y="743.5" width="1.3" height="9.8" opacity="0.47"/><rect x="654.6" y="737.8" width="1.3" height="13.3" opacity="0.59"/><rect x="658.6" y="732.1" width="1.3" height="9.3" opacity="0.33"/><rect x="663.2" y="726.4" width="1.3" height="15.0" opacity="0.45"/><rect x="667.3" y="720.7" width="1.3" height="11.1" opacity="0.58"/><rect x="671.8" y="715.0" width="1.3" height="11.0" opacity="0.76"/><rect x="676.5" y="709.5" width="1.3" height="14.7" opacity="0.74"/><rect x="680.8" y="704.0" width="1.3" height="12.0" opacity="0.36"/><rect x="684.7" y="698.5" width="1.3" height="14.6" opacity="0.65"/><rect x="689.5" y="693.0" width="1.3" height="10.0" opacity="0.66"/><rect x="693.5" y="687.5" width="1.3" height="14.2" opacity="0.60"/><rect x="698.1" y="682.0" width="1.3" height="11.3" opacity="0.69"/><rect x="702.2" y="676.5" width="1.3" height="12.3" opacity="0.72"/><rect x="706.4" y="671.0" width="1.3" height="13.6" opacity="0.54"/><rect x="711.0" y="665.5" width="1.3" height="12.7" opacity="0.33"/><rect x="715.4" y="660.0" width="1.3" height="13.1" opacity="0.34"/><rect x="719.8" y="654.5" width="1.3" height="13.7" opacity="0.74"/><rect x="724.4" y="649.0" width="1.3" height="11.8" opacity="0.79"/><rect x="728.5" y="644.2" width="1.3" height="9.5" opacity="0.72"/><rect x="732.4" y="639.4" width="1.3" height="13.4" opacity="0.46"/><rect x="736.7" y="634.6" width="1.3" height="12.8" opacity="0.53"/><rect x="741.2" y="629.8" width="1.3" height="14.3" opacity="0.72"/><rect x="746.1" y="625.0" width="1.3" height="10.3" opacity="0.43"/><rect x="750.6" y="620.2" width="1.3" height="12.6" opacity="0.37"/><rect x="754.6" y="615.4" width="1.3" height="12.3" opacity="0.80"/><rect x="759.0" y="610.6" width="1.3" height="9.5" opacity="0.40"/><rect x="763.8" y="605.8" width="1.3" height="10.6" opacity="0.47"/><rect x="768.2" y="601.0" width="1.3" height="12.9" opacity="0.64"/><rect x="771.8" y="596.0" width="1.3" height="13.5" opacity="0.69"/><rect x="777.0" y="591.1" width="1.3" height="13.7" opacity="0.77"/><rect x="781.2" y="586.1" width="1.3" height="12.4" opacity="0.60"/><rect x="784.8" y="581.2" width="1.3" height="11.9" opacity="0.48"/><rect x="789.6" y="576.2" width="1.3" height="11.5" opacity="0.42"/><rect x="793.7" y="571.2" width="1.3" height="13.2" opacity="0.57"/><rect x="797.6" y="566.3" width="1.3" height="9.5" opacity="0.67"/><rect x="802.1" y="561.3" width="1.3" height="9.1" opacity="0.73"/><rect x="805.8" y="556.4" width="1.3" height="11.4" opacity="0.38"/><rect x="810.9" y="551.4" width="1.3" height="14.4" opacity="0.40"/><rect x="815.0" y="546.5" width="1.3" height="12.4" opacity="0.34"/><rect x="819.2" y="541.5" width="1.3" height="11.0" opacity="0.37"/><rect x="823.5" y="536.5" width="1.3" height="14.2" opacity="0.59"/><rect x="827.8" y="531.6" width="1.3" height="9.5" opacity="0.51"/><rect x="831.9" y="526.6" width="1.3" height="13.3" opacity="0.74"/><rect x="836.0" y="521.7" width="1.3" height="14.4" opacity="0.72"/><rect x="840.2" y="516.7" width="1.3" height="13.4" opacity="0.51"/><rect x="844.0" y="511.8" width="1.3" height="12.5" opacity="0.40"/><rect x="848.4" y="506.8" width="1.3" height="9.1" opacity="0.33"/><rect x="853.2" y="501.8" width="1.3" height="12.7" opacity="0.44"/><rect x="857.4" y="496.9" width="1.3" height="11.9" opacity="0.71"/><rect x="861.3" y="491.9" width="1.3" height="9.4" opacity="0.68"/><rect x="866.2" y="487.0" width="1.3" height="12.9" opacity="0.77"/><rect x="869.6" y="482.0" width="1.3" height="11.8" opacity="0.76"/><rect x="874.8" y="476.5" width="1.3" height="13.1" opacity="0.53"/><rect x="878.4" y="471.0" width="1.3" height="12.1" opacity="0.78"/><rect x="883.2" y="465.5" width="1.3" height="12.0" opacity="0.61"/><rect x="887.3" y="460.0" width="1.3" height="14.1" opacity="0.52"/><rect x="891.3" y="454.5" width="1.3" height="14.1" opacity="0.35"/><rect x="896.2" y="449.0" width="1.3" height="14.4" opacity="0.67"/><rect x="900.7" y="443.5" width="1.3" height="11.1" opacity="0.37"/><rect x="904.2" y="438.0" width="1.3" height="13.0" opacity="0.70"/><rect x="909.2" y="432.5" width="1.3" height="10.3" opacity="0.63"/><rect x="913.2" y="427.0" width="1.3" height="9.5" opacity="0.66"/><rect x="917.2" y="421.5" width="1.3" height="11.9" opacity="0.61"/><rect x="922.0" y="416.0" width="1.3" height="13.7" opacity="0.60"/><rect x="926.9" y="410.2" width="1.3" height="11.7" opacity="0.72"/><rect x="930.6" y="404.3" width="1.3" height="9.1" opacity="0.76"/><rect x="935.3" y="398.5" width="1.3" height="11.2" opacity="0.46"/><rect x="939.7" y="392.7" width="1.3" height="14.9" opacity="0.47"/><rect x="944.5" y="386.8" width="1.3" height="14.4" opacity="0.67"/><rect x="948.5" y="381.0" width="1.3" height="14.5" opacity="0.70"/><rect x="953.3" y="375.2" width="1.3" height="15.0" opacity="0.70"/><rect x="956.9" y="369.3" width="1.3" height="12.2" opacity="0.45"/><rect x="962.1" y="363.5" width="1.3" height="13.9" opacity="0.41"/><rect x="966.0" y="357.7" width="1.3" height="13.4" opacity="0.54"/><rect x="970.6" y="351.8" width="1.3" height="14.4" opacity="0.71"/><rect x="1391.4" y="804.0" width="1.3" height="12.0" opacity="0.40"/><rect x="1395.6" y="799.3" width="1.3" height="11.1" opacity="0.73"/><rect x="1400.1" y="794.6" width="1.3" height="12.9" opacity="0.46"/><rect x="1404.9" y="789.9" width="1.3" height="9.4" opacity="0.58"/><rect x="1409.7" y="785.1" width="1.3" height="10.9" opacity="0.72"/><rect x="1414.2" y="780.4" width="1.3" height="13.8" opacity="0.66"/><rect x="1419.1" y="775.7" width="1.3" height="13.8" opacity="0.57"/><rect x="1424.2" y="771.0" width="1.3" height="10.4" opacity="0.50"/><rect x="1428.3" y="765.1" width="1.3" height="9.6" opacity="0.40"/><rect x="1432.5" y="759.2" width="1.3" height="10.8" opacity="0.66"/><rect x="1437.7" y="753.3" width="1.3" height="11.1" opacity="0.45"/><rect x="1441.9" y="747.4" width="1.3" height="10.2" opacity="0.47"/><rect x="1446.7" y="741.5" width="1.3" height="13.0" opacity="0.74"/><rect x="1451.2" y="735.5" width="1.3" height="9.7" opacity="0.77"/><rect x="1454.8" y="729.6" width="1.3" height="11.7" opacity="0.39"/><rect x="1459.4" y="723.7" width="1.3" height="13.8" opacity="0.33"/><rect x="1464.3" y="717.8" width="1.3" height="14.5" opacity="0.64"/><rect x="1468.6" y="711.9" width="1.3" height="9.2" opacity="0.69"/><rect x="1473.0" y="706.0" width="1.3" height="9.4" opacity="0.52"/><rect x="1477.9" y="700.3" width="1.3" height="12.6" opacity="0.36"/><rect x="1481.7" y="694.6" width="1.3" height="14.2" opacity="0.34"/><rect x="1486.7" y="688.9" width="1.3" height="12.6" opacity="0.64"/><rect x="1491.1" y="683.2" width="1.3" height="14.3" opacity="0.44"/><rect x="1495.4" y="677.5" width="1.3" height="10.2" opacity="0.53"/><rect x="1499.3" y="671.8" width="1.3" height="11.4" opacity="0.78"/><rect x="1503.8" y="666.2" width="1.3" height="10.8" opacity="0.70"/><rect x="1508.9" y="660.5" width="1.3" height="12.4" opacity="0.37"/><rect x="1513.4" y="654.8" width="1.3" height="13.1" opacity="0.59"/><rect x="1517.3" y="649.1" width="1.3" height="10.6" opacity="0.71"/><rect x="1522.0" y="643.4" width="1.3" height="11.5" opacity="0.38"/><rect x="1526.9" y="637.7" width="1.3" height="10.7" opacity="0.66"/><rect x="1531.3" y="632.0" width="1.3" height="13.3" opacity="0.60"/><rect x="1536.0" y="627.3" width="1.3" height="13.2" opacity="0.37"/><rect x="1541.5" y="622.7" width="1.3" height="12.9" opacity="0.73"/><rect x="1546.5" y="618.0" width="1.3" height="10.2" opacity="0.53"/><rect x="1551.3" y="612.5" width="1.3" height="10.8" opacity="0.60"/><rect x="1556.3" y="607.1" width="1.3" height="11.8" opacity="0.34"/><rect x="1560.8" y="601.6" width="1.3" height="13.5" opacity="0.78"/><rect x="1565.3" y="596.2" width="1.3" height="10.3" opacity="0.35"/><rect x="1570.2" y="590.7" width="1.3" height="11.3" opacity="0.45"/><rect x="1574.1" y="585.3" width="1.3" height="11.4" opacity="0.55"/><rect x="1579.2" y="579.8" width="1.3" height="13.5" opacity="0.74"/><rect x="1583.4" y="574.4" width="1.3" height="13.8" opacity="0.62"/><rect x="1588.0" y="568.9" width="1.3" height="11.5" opacity="0.33"/><rect x="1592.2" y="563.5" width="1.3" height="14.1" opacity="0.72"/><rect x="1597.0" y="558.0" width="1.3" height="9.0" opacity="0.75"/><rect x="1601.3" y="552.1" width="1.3" height="13.4" opacity="0.43"/><rect x="1605.6" y="546.3" width="1.3" height="9.9" opacity="0.79"/><rect x="1609.9" y="540.4" width="1.3" height="10.5" opacity="0.51"/><rect x="1614.7" y="534.6" width="1.3" height="9.2" opacity="0.51"/><rect x="1618.9" y="528.7" width="1.3" height="10.7" opacity="0.73"/><rect x="1623.0" y="522.9" width="1.3" height="10.2" opacity="0.53"/><rect x="1627.6" y="517.0" width="1.3" height="9.1" opacity="0.51"/><rect x="1631.7" y="511.1" width="1.3" height="9.7" opacity="0.49"/><rect x="1636.5" y="505.3" width="1.3" height="12.2" opacity="0.74"/><rect x="1640.7" y="499.4" width="1.3" height="10.3" opacity="0.65"/><rect x="1644.9" y="493.6" width="1.3" height="13.5" opacity="0.51"/><rect x="1649.7" y="487.7" width="1.3" height="12.7" opacity="0.38"/><rect x="1654.0" y="481.9" width="1.3" height="10.4" opacity="0.62"/><rect x="1658.5" y="476.0" width="1.3" height="12.8" opacity="0.50"/><rect x="1662.4" y="469.7" width="1.3" height="13.2" opacity="0.75"/><rect x="1666.7" y="463.3" width="1.3" height="14.0" opacity="0.53"/><rect x="1672.2" y="457.0" width="1.3" height="13.9" opacity="0.79"/><rect x="1676.3" y="450.7" width="1.3" height="12.0" opacity="0.60"/><rect x="1680.9" y="444.3" width="1.3" height="10.3" opacity="0.58"/><rect x="1685.4" y="438.0" width="1.3" height="13.4" opacity="0.59"/><rect x="1689.6" y="431.7" width="1.3" height="13.2" opacity="0.53"/><rect x="1694.0" y="425.3" width="1.3" height="13.1" opacity="0.76"/><rect x="1698.5" y="419.0" width="1.3" height="11.2" opacity="0.76"/><rect x="1703.1" y="414.0" width="1.3" height="10.9" opacity="0.58"/><rect x="1708.2" y="409.0" width="1.3" height="12.8" opacity="0.76"/><rect x="1712.4" y="404.0" width="1.3" height="12.2" opacity="0.35"/><rect x="1716.3" y="399.0" width="1.3" height="13.9" opacity="0.67"/><rect x="1720.9" y="394.0" width="1.3" height="9.2" opacity="0.51"/><rect x="1725.9" y="389.0" width="1.3" height="13.8" opacity="0.49"/><rect x="1729.6" y="384.0" width="1.3" height="9.7" opacity="0.68"/><rect x="1734.2" y="379.0" width="1.3" height="9.7" opacity="0.57"/><rect x="1738.5" y="374.0" width="1.3" height="11.1" opacity="0.62"/><rect x="1743.4" y="369.0" width="1.3" height="14.3" opacity="0.67"/><rect x="1748.2" y="364.0" width="1.3" height="14.7" opacity="0.77"/><rect x="1751.8" y="359.0" width="1.3" height="9.0" opacity="0.66"/><rect x="1757.1" y="354.0" width="1.3" height="11.6" opacity="0.37"/><rect x="1761.4" y="349.0" width="1.3" height="11.1" opacity="0.40"/><rect x="1765.5" y="344.0" width="1.3" height="15.0" opacity="0.51"/></g><rect x="724.0" y="650.0" width="1.6" height="11" fill="rgb(191,191,191)"/><rect x="728.0" y="645.0" width="1.6" height="11" fill="rgb(191,191,191)"/><rect x="1531.0" y="635.0" width="1.6" height="11" fill="rgb(191,191,191)"/><rect x="1536.0" y="628.0" width="1.6" height="11" fill="rgb(191,191,191)"/><rect x="620.0" y="782.0" width="1.6" height="11" fill="rgb(191,191,191)"/><rect x="1545.0" y="621.0" width="1.6" height="11" fill="rgb(191,191,191)"/><g filter="url(#blurS)"><rect x="99.5" y="832.5" width="1437.5" height="14.0" fill="rgb(62,62,62)" opacity="0.55"/><g fill="rgb(0,0,0)"><rect x="132.0" y="832.5" width="14.0" height="14.0"/><rect x="174.0" y="832.5" width="15.0" height="14.0"/><rect x="194.0" y="832.5" width="31.0" height="14.0"/><rect x="252.0" y="832.5" width="22.0" height="14.0"/><rect x="277.0" y="832.5" width="42.0" height="14.0"/><rect x="346.0" y="832.5" width="24.0" height="14.0"/><rect x="436.0" y="832.5" width="15.0" height="14.0"/><rect x="461.0" y="832.5" width="13.5" height="14.0"/><rect x="479.5" y="832.5" width="13.5" height="14.0"/><rect x="537.0" y="832.5" width="12.0" height="14.0"/><rect x="564.0" y="832.5" width="15.0" height="14.0"/><rect x="586.6" y="832.5" width="5.9" height="14.0"/><rect x="648.0" y="832.5" width="12.0" height="14.0"/><rect x="732.5" y="832.5" width="11.5" height="14.0"/><rect x="761.0" y="832.5" width="7.0" height="14.0"/><rect x="778.0" y="832.5" width="7.0" height="14.0"/><rect x="832.0" y="832.5" width="7.0" height="14.0"/><rect x="872.5" y="832.5" width="5.0" height="14.0"/><rect x="896.0" y="832.5" width="17.0" height="14.0"/><rect x="974.0" y="832.5" width="13.0" height="14.0"/><rect x="999.0" y="832.5" width="32.0" height="14.0"/><rect x="1048.0" y="832.5" width="37.0" height="14.0"/><rect x="1092.0" y="832.5" width="18.0" height="14.0"/><rect x="1117.0" y="832.5" width="29.0" height="14.0"/><rect x="1151.0" y="832.5" width="25.0" height="14.0"/><rect x="1183.0" y="832.5" width="12.0" height="14.0"/><rect x="1203.0" y="832.5" width="17.0" height="14.0"/><rect x="1220.0" y="832.5" width="15.0" height="14.0"/><rect x="1250.0" y="832.5" width="20.6" height="14.0"/><rect x="1302.7" y="832.5" width="8.3" height="14.0"/><rect x="1355.0" y="832.5" width="6.7" height="14.0"/><rect x="1382.0" y="832.5" width="17.0" height="14.0"/><rect x="1404.0" y="832.5" width="15.0" height="14.0"/><rect x="1434.0" y="832.5" width="23.0" height="14.0"/><rect x="1456.0" y="832.5" width="20.0" height="14.0"/><rect x="1302.7" y="820.0" width="8.3" height="26.0"/><rect x="1382.0" y="820.0" width="17.0" height="26.0"/><rect x="1434.0" y="819.0" width="23.0" height="27.0"/><rect x="1537.0" y="819.0" width="242.9" height="27.5"/></g><g fill="rgb(103,103,103)"><rect x="1570.8" y="822.0" width="3.2" height="24.5" opacity="0.90"/><rect x="1589.0" y="822.0" width="1.5" height="24.5" opacity="0.90"/><rect x="1608.0" y="822.0" width="8.0" height="24.5" opacity="0.90"/><rect x="1625.0" y="822.0" width="6.5" height="24.5" opacity="0.90"/><rect x="1652.0" y="822.0" width="2.0" height="24.5" opacity="0.90"/><rect x="1668.0" y="822.0" width="2.0" height="24.5" opacity="0.90"/><rect x="1700.0" y="822.0" width="2.0" height="24.5" opacity="0.90"/><rect x="1716.0" y="822.0" width="2.0" height="24.5" opacity="0.90"/><rect x="1750.0" y="822.0" width="2.0" height="24.5" opacity="0.90"/></g><rect x="1537.0" y="813.5" width="242.9" height="5.5" fill="rgb(114,114,114)" opacity="0.70"/></g><g filter="url(#blurS)" fill="rgb(130,130,130)"><rect x="116.8" y="828.3" width="6.5" height="18.7" opacity="0.90"/><rect x="156.4" y="825.2" width="5.2" height="21.8" opacity="0.90"/><rect x="169.6" y="829.3" width="5.9" height="17.7" opacity="0.90"/><rect x="188.4" y="828.0" width="5.2" height="19.0" opacity="0.90"/><rect x="240.2" y="828.0" width="5.6" height="19.0" opacity="0.90"/><rect x="271.7" y="828.5" width="5.9" height="18.5" opacity="0.90"/><rect x="288.4" y="825.2" width="5.2" height="21.8" opacity="0.90"/><rect x="319.4" y="825.5" width="6.5" height="21.5" opacity="0.90"/><rect x="330.1" y="827.8" width="5.2" height="19.2" opacity="0.90"/><rect x="339.4" y="828.9" width="5.2" height="18.1" opacity="0.90"/><rect x="405.9" y="825.5" width="5.5" height="21.5" opacity="0.90"/><rect x="414.8" y="825.2" width="6.5" height="21.8" opacity="0.90"/><rect x="426.2" y="830.0" width="5.5" height="17.0" opacity="0.90"/><rect x="431.4" y="824.5" width="5.2" height="22.5" opacity="0.90"/><rect x="448.9" y="824.6" width="5.5" height="22.4" opacity="0.90"/><rect x="453.4" y="825.0" width="7.1" height="22.0" opacity="0.90"/><rect x="473.4" y="824.0" width="5.2" height="23.0" opacity="0.90"/><rect x="482.8" y="824.3" width="5.2" height="22.7" opacity="0.90"/><rect x="491.8" y="827.9" width="5.9" height="19.1" opacity="0.90"/><rect x="502.2" y="825.8" width="5.2" height="21.2" opacity="0.90"/><rect x="510.4" y="824.6" width="5.2" height="22.4" opacity="0.90"/><rect x="521.4" y="829.9" width="5.2" height="17.1" opacity="0.90"/><rect x="529.2" y="825.0" width="5.5" height="22.0" opacity="0.90"/><rect x="547.9" y="825.5" width="6.2" height="21.5" opacity="0.90"/><rect x="556.8" y="826.1" width="5.5" height="20.9" opacity="0.90"/><rect x="579.4" y="825.0" width="5.2" height="22.0" opacity="0.90"/><rect x="591.4" y="828.0" width="5.2" height="19.0" opacity="0.90"/><rect x="601.4" y="826.7" width="5.2" height="20.3" opacity="0.90"/><rect x="618.2" y="828.5" width="5.5" height="18.5" opacity="0.90"/><rect x="628.4" y="826.5" width="5.2" height="20.5" opacity="0.90"/><rect x="639.1" y="825.5" width="5.9" height="21.5" opacity="0.90"/><rect x="643.7" y="828.5" width="5.5" height="18.5" opacity="0.90"/><rect x="666.4" y="824.9" width="5.2" height="22.1" opacity="0.90"/><rect x="675.1" y="829.1" width="5.2" height="17.9" opacity="0.90"/><rect x="677.9" y="825.1" width="5.2" height="21.9" opacity="0.90"/><rect x="687.1" y="827.4" width="5.9" height="19.6" opacity="0.90"/><rect x="691.7" y="825.2" width="5.9" height="21.8" opacity="0.90"/><rect x="702.9" y="824.9" width="5.2" height="22.1" opacity="0.90"/><rect x="709.9" y="829.3" width="6.2" height="17.7" opacity="0.90"/><rect x="724.1" y="828.0" width="5.9" height="19.0" opacity="0.90"/><rect x="743.4" y="827.0" width="5.2" height="20.0" opacity="0.90"/><rect x="766.1" y="827.2" width="5.9" height="19.8" opacity="0.90"/><rect x="783.0" y="828.3" width="5.2" height="18.7" opacity="0.90"/><rect x="794.9" y="824.6" width="5.2" height="22.4" opacity="0.90"/><rect x="809.4" y="826.2" width="5.2" height="20.8" opacity="0.90"/><rect x="812.4" y="827.0" width="5.2" height="20.0" opacity="0.90"/><rect x="815.9" y="824.2" width="5.2" height="22.8" opacity="0.90"/><rect x="824.9" y="824.7" width="6.2" height="22.3" opacity="0.90"/><rect x="840.9" y="824.3" width="6.2" height="22.7" opacity="0.90"/><rect x="851.2" y="825.8" width="5.5" height="21.2" opacity="0.90"/><rect x="862.2" y="829.8" width="5.5" height="17.2" opacity="0.90"/><rect x="875.8" y="828.9" width="6.5" height="18.1" opacity="0.90"/><rect x="890.4" y="826.8" width="5.2" height="20.2" opacity="0.90"/><rect x="915.4" y="824.4" width="5.2" height="22.6" opacity="0.90"/><rect x="918.4" y="829.8" width="5.2" height="17.2" opacity="0.90"/><rect x="925.4" y="827.8" width="5.2" height="19.2" opacity="0.90"/><rect x="929.4" y="826.1" width="5.2" height="20.9" opacity="0.90"/><rect x="965.2" y="826.9" width="5.2" height="20.1" opacity="0.90"/><rect x="986.4" y="825.4" width="5.2" height="21.6" opacity="0.90"/><rect x="994.4" y="825.2" width="5.2" height="21.8" opacity="0.90"/><rect x="1029.4" y="824.3" width="5.2" height="22.7" opacity="0.90"/><rect x="1038.4" y="827.4" width="5.2" height="19.6" opacity="0.90"/><rect x="1044.2" y="826.1" width="5.6" height="20.9" opacity="0.90"/><rect x="1055.4" y="829.6" width="5.2" height="17.4" opacity="0.90"/><rect x="1061.4" y="824.3" width="5.2" height="22.7" opacity="0.90"/><rect x="1082.8" y="829.0" width="6.5" height="18.0" opacity="0.90"/><rect x="1095.9" y="829.0" width="5.2" height="18.0" opacity="0.90"/><rect x="1108.8" y="829.1" width="6.5" height="17.9" opacity="0.90"/><rect x="1126.2" y="829.5" width="5.6" height="17.5" opacity="0.90"/><rect x="1145.4" y="827.6" width="5.2" height="19.4" opacity="0.90"/><rect x="1155.0" y="829.0" width="5.2" height="18.0" opacity="0.90"/><rect x="1161.4" y="828.0" width="5.2" height="19.0" opacity="0.90"/><rect x="1175.5" y="827.2" width="6.5" height="19.8" opacity="0.90"/><rect x="1193.8" y="829.5" width="6.5" height="17.5" opacity="0.90"/><rect x="1233.1" y="828.4" width="5.9" height="18.6" opacity="0.90"/><rect x="1242.1" y="827.0" width="5.9" height="20.0" opacity="0.90"/><rect x="1258.4" y="827.7" width="5.2" height="19.3" opacity="0.90"/><rect x="1286.4" y="827.3" width="5.2" height="19.7" opacity="0.90"/><rect x="1299.4" y="827.2" width="5.2" height="19.8" opacity="0.90"/><rect x="1309.2" y="827.1" width="5.6" height="19.9" opacity="0.90"/><rect x="1314.4" y="828.3" width="5.2" height="18.7" opacity="0.90"/><rect x="1328.2" y="827.3" width="5.6" height="19.7" opacity="0.90"/><rect x="1342.4" y="826.0" width="5.2" height="21.0" opacity="0.90"/><rect x="1346.3" y="825.0" width="6.5" height="22.0" opacity="0.90"/><rect x="1359.3" y="825.2" width="6.5" height="21.8" opacity="0.90"/><rect x="1376.2" y="827.5" width="5.6" height="19.5" opacity="0.90"/><rect x="1418.4" y="827.7" width="5.2" height="19.3" opacity="0.90"/><rect x="1424.0" y="824.2" width="5.2" height="22.8" opacity="0.90"/><rect x="1437.2" y="824.9" width="5.6" height="22.1" opacity="0.90"/><rect x="1470.4" y="827.7" width="5.2" height="19.3" opacity="0.90"/><rect x="1542.9" y="824.7" width="5.2" height="22.3" opacity="0.90"/><rect x="1579.1" y="827.9" width="5.9" height="19.1" opacity="0.90"/><rect x="1624.4" y="829.4" width="5.2" height="17.6" opacity="0.90"/><rect x="1686.2" y="828.8" width="5.6" height="18.2" opacity="0.90"/><rect x="1721.1" y="828.7" width="5.9" height="18.3" opacity="0.90"/><rect x="1730.4" y="827.4" width="5.2" height="19.6" opacity="0.90"/><rect x="1739.4" y="825.3" width="5.1" height="21.7" opacity="0.90"/></g><g filter="url(#blurS)"><rect x="118.0" y="833.3" width="4.1" height="13.7" fill="rgb(173,173,173)"/><rect x="157.6" y="830.2" width="2.8" height="16.8" fill="rgb(164,164,164)"/><rect x="170.8" y="834.3" width="3.5" height="12.7" fill="rgb(173,173,173)"/><rect x="189.6" y="833.0" width="2.8" height="14.0" fill="rgb(164,164,164)"/><rect x="241.4" y="833.0" width="3.2" height="14.0" fill="rgb(173,173,173)"/><rect x="272.9" y="833.5" width="3.5" height="13.5" fill="rgb(173,173,173)"/><rect x="289.6" y="830.2" width="2.8" height="16.8" fill="rgb(164,164,164)"/><rect x="320.6" y="830.5" width="4.1" height="16.5" fill="rgb(173,173,173)"/><rect x="331.3" y="832.8" width="2.8" height="14.2" fill="rgb(173,173,173)"/><rect x="340.6" y="833.9" width="2.8" height="13.1" fill="rgb(173,173,173)"/><rect x="407.1" y="830.5" width="3.1" height="16.5" fill="rgb(173,173,173)"/><rect x="416.0" y="830.2" width="4.1" height="16.8" fill="rgb(173,173,173)"/><rect x="427.4" y="835.0" width="3.1" height="12.0" fill="rgb(173,173,173)"/><rect x="432.6" y="829.5" width="2.8" height="17.5" fill="rgb(173,173,173)"/><rect x="450.1" y="829.6" width="3.1" height="17.4" fill="rgb(173,173,173)"/><rect x="454.6" y="830.0" width="4.7" height="17.0" fill="rgb(173,173,173)"/><rect x="474.6" y="829.0" width="2.8" height="18.0" fill="rgb(164,164,164)"/><rect x="484.0" y="829.3" width="2.8" height="17.7" fill="rgb(164,164,164)"/><rect x="493.0" y="832.9" width="3.5" height="14.1" fill="rgb(173,173,173)"/><rect x="503.4" y="830.8" width="2.8" height="16.2" fill="rgb(173,173,173)"/><rect x="511.6" y="829.6" width="2.8" height="17.4" fill="rgb(164,164,164)"/><rect x="522.6" y="834.9" width="2.8" height="12.1" fill="rgb(173,173,173)"/><rect x="530.4" y="830.0" width="3.1" height="17.0" fill="rgb(173,173,173)"/><rect x="549.1" y="830.5" width="3.8" height="16.5" fill="rgb(173,173,173)"/><rect x="558.0" y="831.1" width="3.1" height="15.9" fill="rgb(173,173,173)"/><rect x="580.6" y="830.0" width="2.8" height="17.0" fill="rgb(164,164,164)"/><rect x="592.6" y="833.0" width="2.8" height="14.0" fill="rgb(164,164,164)"/><rect x="602.6" y="831.7" width="2.8" height="15.3" fill="rgb(164,164,164)"/><rect x="619.4" y="833.5" width="3.1" height="13.5" fill="rgb(173,173,173)"/><rect x="629.6" y="831.5" width="2.8" height="15.5" fill="rgb(173,173,173)"/><rect x="640.3" y="830.5" width="3.5" height="16.5" fill="rgb(173,173,173)"/><rect x="644.9" y="833.5" width="3.1" height="13.5" fill="rgb(173,173,173)"/><rect x="667.6" y="829.9" width="2.8" height="17.1" fill="rgb(173,173,173)"/><rect x="676.3" y="834.1" width="2.8" height="12.9" fill="rgb(173,173,173)"/><rect x="679.1" y="830.1" width="2.8" height="16.9" fill="rgb(173,173,173)"/><rect x="688.3" y="832.4" width="3.5" height="14.6" fill="rgb(173,173,173)"/><rect x="692.9" y="830.2" width="3.5" height="16.8" fill="rgb(173,173,173)"/><rect x="704.1" y="829.9" width="2.8" height="17.1" fill="rgb(173,173,173)"/><rect x="711.1" y="834.3" width="3.8" height="12.7" fill="rgb(173,173,173)"/><rect x="725.3" y="833.0" width="3.5" height="14.0" fill="rgb(164,164,164)"/><rect x="744.6" y="832.0" width="2.8" height="15.0" fill="rgb(173,173,173)"/><rect x="767.3" y="832.2" width="3.5" height="14.8" fill="rgb(173,173,173)"/><rect x="784.2" y="833.3" width="2.8" height="13.7" fill="rgb(173,173,173)"/><rect x="796.1" y="829.6" width="2.8" height="17.4" fill="rgb(173,173,173)"/><rect x="810.6" y="831.2" width="2.8" height="15.8" fill="rgb(173,173,173)"/><rect x="813.6" y="832.0" width="2.8" height="15.0" fill="rgb(173,173,173)"/><rect x="817.1" y="829.2" width="2.8" height="17.8" fill="rgb(173,173,173)"/><rect x="826.1" y="829.7" width="3.8" height="17.3" fill="rgb(173,173,173)"/><rect x="842.1" y="829.3" width="3.8" height="17.7" fill="rgb(173,173,173)"/><rect x="852.4" y="830.8" width="3.1" height="16.2" fill="rgb(173,173,173)"/><rect x="863.4" y="834.8" width="3.1" height="12.2" fill="rgb(173,173,173)"/><rect x="877.0" y="833.9" width="4.1" height="13.1" fill="rgb(173,173,173)"/><rect x="891.6" y="831.8" width="2.8" height="15.2" fill="rgb(173,173,173)"/><rect x="916.6" y="829.4" width="2.8" height="17.6" fill="rgb(173,173,173)"/><rect x="919.6" y="834.8" width="2.8" height="12.2" fill="rgb(173,173,173)"/><rect x="926.6" y="832.8" width="2.8" height="14.2" fill="rgb(173,173,173)"/><rect x="930.6" y="831.1" width="2.8" height="15.9" fill="rgb(173,173,173)"/><rect x="966.4" y="831.9" width="2.8" height="15.1" fill="rgb(173,173,173)"/><rect x="987.6" y="830.4" width="2.8" height="16.6" fill="rgb(164,164,164)"/><rect x="995.6" y="830.2" width="2.8" height="16.8" fill="rgb(173,173,173)"/><rect x="1030.6" y="829.3" width="2.8" height="17.7" fill="rgb(173,173,173)"/><rect x="1039.6" y="832.4" width="2.8" height="14.6" fill="rgb(173,173,173)"/><rect x="1045.4" y="831.1" width="3.2" height="15.9" fill="rgb(173,173,173)"/><rect x="1056.6" y="834.6" width="2.8" height="12.4" fill="rgb(173,173,173)"/><rect x="1062.6" y="829.3" width="2.8" height="17.7" fill="rgb(173,173,173)"/><rect x="1084.0" y="834.0" width="4.1" height="13.0" fill="rgb(173,173,173)"/><rect x="1097.1" y="834.0" width="2.8" height="13.0" fill="rgb(173,173,173)"/><rect x="1110.0" y="834.1" width="4.1" height="12.9" fill="rgb(173,173,173)"/><rect x="1127.4" y="834.5" width="3.2" height="12.5" fill="rgb(173,173,173)"/><rect x="1146.6" y="832.6" width="2.8" height="14.4" fill="rgb(173,173,173)"/><rect x="1156.2" y="834.0" width="2.8" height="13.0" fill="rgb(173,173,173)"/><rect x="1162.6" y="833.0" width="2.8" height="14.0" fill="rgb(173,173,173)"/><rect x="1176.7" y="832.2" width="4.1" height="14.8" fill="rgb(173,173,173)"/><rect x="1195.0" y="834.5" width="4.1" height="12.5" fill="rgb(173,173,173)"/><rect x="1234.3" y="833.4" width="3.5" height="13.6" fill="rgb(173,173,173)"/><rect x="1243.3" y="832.0" width="3.5" height="15.0" fill="rgb(173,173,173)"/><rect x="1259.6" y="832.7" width="2.8" height="14.3" fill="rgb(164,164,164)"/><rect x="1287.6" y="832.3" width="2.8" height="14.7" fill="rgb(173,173,173)"/><rect x="1300.6" y="832.2" width="2.8" height="14.8" fill="rgb(173,173,173)"/><rect x="1310.4" y="832.1" width="3.2" height="14.9" fill="rgb(173,173,173)"/><rect x="1315.6" y="833.3" width="2.8" height="13.7" fill="rgb(173,173,173)"/><rect x="1329.4" y="832.3" width="3.2" height="14.7" fill="rgb(164,164,164)"/><rect x="1343.6" y="831.0" width="2.8" height="16.0" fill="rgb(173,173,173)"/><rect x="1347.5" y="830.0" width="4.1" height="17.0" fill="rgb(173,173,173)"/><rect x="1360.5" y="830.2" width="4.1" height="16.8" fill="rgb(173,173,173)"/><rect x="1377.4" y="832.5" width="3.2" height="14.5" fill="rgb(173,173,173)"/><rect x="1419.6" y="832.7" width="2.8" height="14.3" fill="rgb(173,173,173)"/><rect x="1425.2" y="829.2" width="2.8" height="17.8" fill="rgb(173,173,173)"/><rect x="1438.4" y="829.9" width="3.2" height="17.1" fill="rgb(173,173,173)"/><rect x="1471.6" y="832.7" width="2.8" height="14.3" fill="rgb(173,173,173)"/><rect x="1544.1" y="829.7" width="2.8" height="17.3" fill="rgb(164,164,164)"/><rect x="1580.3" y="832.9" width="3.5" height="14.1" fill="rgb(173,173,173)"/><rect x="1625.6" y="834.4" width="2.8" height="12.6" fill="rgb(164,164,164)"/><rect x="1687.4" y="833.8" width="3.2" height="13.2" fill="rgb(173,173,173)"/><rect x="1722.3" y="833.7" width="3.5" height="13.3" fill="rgb(173,173,173)"/><rect x="1731.6" y="832.4" width="2.8" height="14.6" fill="rgb(173,173,173)"/><rect x="1740.6" y="830.3" width="2.7" height="16.7" fill="rgb(173,173,173)"/></g><g filter="url(#blur1)"><rect x="118.8" y="836.0" width="2.5" height="10.5" fill="rgb(194,194,194)"/><rect x="171.6" y="836.0" width="1.9" height="10.5" fill="rgb(194,194,194)"/><rect x="242.2" y="836.0" width="1.6" height="10.5" fill="rgb(194,194,194)"/><rect x="273.7" y="836.0" width="1.9" height="10.5" fill="rgb(212,212,212)"/><rect x="273.9" y="839.0" width="1.5" height="7.0" fill="rgb(226,226,226)"/><rect x="321.4" y="836.0" width="2.5" height="10.5" fill="rgb(228,228,228)"/><rect x="321.6" y="839.0" width="2.1" height="7.0" fill="rgb(240,240,240)"/><rect x="332.1" y="836.0" width="1.2" height="10.5" fill="rgb(194,194,194)"/><rect x="341.4" y="836.0" width="1.2" height="10.5" fill="rgb(194,194,194)"/><rect x="407.9" y="836.0" width="1.5" height="10.5" fill="rgb(228,228,228)"/><rect x="408.1" y="839.0" width="1.1" height="7.0" fill="rgb(240,240,240)"/><rect x="416.8" y="836.0" width="2.5" height="10.5" fill="rgb(194,194,194)"/><rect x="428.2" y="836.0" width="1.5" height="10.5" fill="rgb(212,212,212)"/><rect x="428.4" y="839.0" width="1.1" height="7.0" fill="rgb(226,226,226)"/><rect x="433.4" y="836.0" width="1.2" height="10.5" fill="rgb(194,194,194)"/><rect x="450.9" y="836.0" width="1.5" height="10.5" fill="rgb(212,212,212)"/><rect x="451.1" y="839.0" width="1.1" height="7.0" fill="rgb(226,226,226)"/><rect x="455.4" y="836.0" width="3.1" height="10.5" fill="rgb(228,228,228)"/><rect x="455.6" y="839.0" width="2.7" height="7.0" fill="rgb(240,240,240)"/><rect x="493.8" y="836.0" width="1.9" height="10.5" fill="rgb(212,212,212)"/><rect x="494.0" y="839.0" width="1.5" height="7.0" fill="rgb(226,226,226)"/><rect x="504.2" y="836.0" width="1.2" height="10.5" fill="rgb(194,194,194)"/><rect x="523.4" y="836.0" width="1.2" height="10.5" fill="rgb(194,194,194)"/><rect x="531.2" y="836.0" width="1.5" height="10.5" fill="rgb(212,212,212)"/><rect x="531.4" y="839.0" width="1.1" height="7.0" fill="rgb(226,226,226)"/><rect x="549.9" y="836.0" width="2.2" height="10.5" fill="rgb(194,194,194)"/><rect x="558.8" y="836.0" width="1.5" height="10.5" fill="rgb(194,194,194)"/><rect x="620.2" y="836.0" width="1.5" height="10.5" fill="rgb(212,212,212)"/><rect x="620.4" y="839.0" width="1.1" height="7.0" fill="rgb(226,226,226)"/><rect x="630.4" y="836.0" width="1.2" height="10.5" fill="rgb(194,194,194)"/><rect x="641.1" y="836.0" width="1.9" height="10.5" fill="rgb(228,228,228)"/><rect x="641.3" y="839.0" width="1.5" height="7.0" fill="rgb(240,240,240)"/><rect x="645.7" y="836.0" width="1.5" height="10.5" fill="rgb(228,228,228)"/><rect x="645.9" y="839.0" width="1.1" height="7.0" fill="rgb(240,240,240)"/><rect x="668.4" y="836.0" width="1.2" height="10.5" fill="rgb(194,194,194)"/><rect x="677.1" y="836.0" width="1.2" height="10.5" fill="rgb(212,212,212)"/><rect x="677.3" y="839.0" width="0.8" height="7.0" fill="rgb(226,226,226)"/><rect x="679.9" y="836.0" width="1.2" height="10.5" fill="rgb(212,212,212)"/><rect x="680.1" y="839.0" width="0.8" height="7.0" fill="rgb(226,226,226)"/><rect x="689.1" y="836.0" width="1.9" height="10.5" fill="rgb(228,228,228)"/><rect x="689.3" y="839.0" width="1.5" height="7.0" fill="rgb(240,240,240)"/><rect x="693.7" y="836.0" width="1.9" height="10.5" fill="rgb(228,228,228)"/><rect x="693.9" y="839.0" width="1.5" height="7.0" fill="rgb(240,240,240)"/><rect x="704.9" y="836.0" width="1.2" height="10.5" fill="rgb(212,212,212)"/><rect x="705.1" y="839.0" width="0.8" height="7.0" fill="rgb(226,226,226)"/><rect x="711.9" y="836.0" width="2.2" height="10.5" fill="rgb(228,228,228)"/><rect x="712.1" y="839.0" width="1.8" height="7.0" fill="rgb(240,240,240)"/><rect x="745.4" y="836.0" width="1.2" height="10.5" fill="rgb(212,212,212)"/><rect x="745.6" y="839.0" width="0.8" height="7.0" fill="rgb(226,226,226)"/><rect x="768.1" y="836.0" width="1.9" height="10.5" fill="rgb(228,228,228)"/><rect x="768.3" y="839.0" width="1.5" height="7.0" fill="rgb(240,240,240)"/><rect x="785.0" y="836.0" width="1.2" height="10.5" fill="rgb(194,194,194)"/><rect x="796.9" y="836.0" width="1.2" height="10.5" fill="rgb(194,194,194)"/><rect x="811.4" y="836.0" width="1.2" height="10.5" fill="rgb(194,194,194)"/><rect x="814.4" y="836.0" width="1.2" height="10.5" fill="rgb(212,212,212)"/><rect x="814.6" y="839.0" width="0.8" height="7.0" fill="rgb(226,226,226)"/><rect x="817.9" y="836.0" width="1.2" height="10.5" fill="rgb(212,212,212)"/><rect x="818.1" y="839.0" width="0.8" height="7.0" fill="rgb(226,226,226)"/><rect x="826.9" y="836.0" width="2.2" height="10.5" fill="rgb(212,212,212)"/><rect x="827.1" y="839.0" width="1.8" height="7.0" fill="rgb(226,226,226)"/><rect x="842.9" y="836.0" width="2.2" height="10.5" fill="rgb(212,212,212)"/><rect x="843.1" y="839.0" width="1.8" height="7.0" fill="rgb(226,226,226)"/><rect x="853.2" y="836.0" width="1.5" height="10.5" fill="rgb(212,212,212)"/><rect x="853.4" y="839.0" width="1.1" height="7.0" fill="rgb(226,226,226)"/><rect x="864.2" y="836.0" width="1.5" height="10.5" fill="rgb(212,212,212)"/><rect x="864.4" y="839.0" width="1.1" height="7.0" fill="rgb(226,226,226)"/><rect x="877.8" y="836.0" width="2.5" height="10.5" fill="rgb(228,228,228)"/><rect x="878.0" y="839.0" width="2.1" height="7.0" fill="rgb(240,240,240)"/><rect x="892.4" y="836.0" width="1.2" height="10.5" fill="rgb(194,194,194)"/><rect x="917.4" y="836.0" width="1.2" height="10.5" fill="rgb(194,194,194)"/><rect x="920.4" y="836.0" width="1.2" height="10.5" fill="rgb(194,194,194)"/><rect x="927.4" y="836.0" width="1.2" height="10.5" fill="rgb(212,212,212)"/><rect x="927.6" y="839.0" width="0.8" height="7.0" fill="rgb(226,226,226)"/><rect x="931.4" y="836.0" width="1.2" height="10.5" fill="rgb(212,212,212)"/><rect x="931.6" y="839.0" width="0.8" height="7.0" fill="rgb(226,226,226)"/><rect x="967.2" y="836.0" width="1.2" height="10.5" fill="rgb(212,212,212)"/><rect x="967.4" y="839.0" width="0.8" height="7.0" fill="rgb(226,226,226)"/><rect x="996.4" y="836.0" width="1.2" height="10.5" fill="rgb(194,194,194)"/><rect x="1031.4" y="836.0" width="1.2" height="10.5" fill="rgb(212,212,212)"/><rect x="1031.6" y="839.0" width="0.8" height="7.0" fill="rgb(226,226,226)"/><rect x="1040.4" y="836.0" width="1.2" height="10.5" fill="rgb(194,194,194)"/><rect x="1046.2" y="836.0" width="1.6" height="10.5" fill="rgb(194,194,194)"/><rect x="1057.4" y="836.0" width="1.2" height="10.5" fill="rgb(194,194,194)"/><rect x="1063.4" y="836.0" width="1.2" height="10.5" fill="rgb(194,194,194)"/><rect x="1084.8" y="836.0" width="2.5" height="10.5" fill="rgb(228,228,228)"/><rect x="1085.0" y="839.0" width="2.1" height="7.0" fill="rgb(240,240,240)"/><rect x="1097.9" y="836.0" width="1.2" height="10.5" fill="rgb(194,194,194)"/><rect x="1110.8" y="836.0" width="2.5" height="10.5" fill="rgb(228,228,228)"/><rect x="1111.0" y="839.0" width="2.1" height="7.0" fill="rgb(240,240,240)"/><rect x="1128.2" y="836.0" width="1.6" height="10.5" fill="rgb(212,212,212)"/><rect x="1128.4" y="839.0" width="1.2" height="7.0" fill="rgb(226,226,226)"/><rect x="1147.4" y="836.0" width="1.2" height="10.5" fill="rgb(212,212,212)"/><rect x="1147.6" y="839.0" width="0.8" height="7.0" fill="rgb(226,226,226)"/><rect x="1157.0" y="836.0" width="1.2" height="10.5" fill="rgb(194,194,194)"/><rect x="1163.4" y="836.0" width="1.2" height="10.5" fill="rgb(194,194,194)"/><rect x="1177.5" y="836.0" width="2.5" height="10.5" fill="rgb(212,212,212)"/><rect x="1177.7" y="839.0" width="2.1" height="7.0" fill="rgb(226,226,226)"/><rect x="1195.8" y="836.0" width="2.5" height="10.5" fill="rgb(212,212,212)"/><rect x="1196.0" y="839.0" width="2.1" height="7.0" fill="rgb(226,226,226)"/><rect x="1235.1" y="836.0" width="1.9" height="10.5" fill="rgb(212,212,212)"/><rect x="1235.3" y="839.0" width="1.5" height="7.0" fill="rgb(226,226,226)"/><rect x="1244.1" y="836.0" width="1.9" height="10.5" fill="rgb(212,212,212)"/><rect x="1244.3" y="839.0" width="1.5" height="7.0" fill="rgb(226,226,226)"/><rect x="1288.4" y="836.0" width="1.2" height="10.5" fill="rgb(194,194,194)"/><rect x="1301.4" y="836.0" width="1.2" height="10.5" fill="rgb(212,212,212)"/><rect x="1301.6" y="839.0" width="0.8" height="7.0" fill="rgb(226,226,226)"/><rect x="1311.2" y="836.0" width="1.6" height="10.5" fill="rgb(212,212,212)"/><rect x="1311.4" y="839.0" width="1.2" height="7.0" fill="rgb(226,226,226)"/><rect x="1316.4" y="836.0" width="1.2" height="10.5" fill="rgb(194,194,194)"/><rect x="1344.4" y="836.0" width="1.2" height="10.5" fill="rgb(194,194,194)"/><rect x="1348.3" y="836.0" width="2.5" height="10.5" fill="rgb(212,212,212)"/><rect x="1348.5" y="839.0" width="2.1" height="7.0" fill="rgb(226,226,226)"/><rect x="1361.3" y="836.0" width="2.5" height="10.5" fill="rgb(212,212,212)"/><rect x="1361.5" y="839.0" width="2.1" height="7.0" fill="rgb(226,226,226)"/><rect x="1378.2" y="836.0" width="1.6" height="10.5" fill="rgb(228,228,228)"/><rect x="1378.4" y="839.0" width="1.2" height="7.0" fill="rgb(240,240,240)"/><rect x="1420.4" y="836.0" width="1.2" height="10.5" fill="rgb(194,194,194)"/><rect x="1426.0" y="836.0" width="1.2" height="10.5" fill="rgb(194,194,194)"/><rect x="1439.2" y="836.0" width="1.6" height="10.5" fill="rgb(194,194,194)"/><rect x="1472.4" y="836.0" width="1.2" height="10.5" fill="rgb(194,194,194)"/><rect x="1581.1" y="836.0" width="1.9" height="10.5" fill="rgb(228,228,228)"/><rect x="1581.3" y="839.0" width="1.5" height="7.0" fill="rgb(240,240,240)"/><rect x="1688.2" y="836.0" width="1.6" height="10.5" fill="rgb(212,212,212)"/><rect x="1688.4" y="839.0" width="1.2" height="7.0" fill="rgb(226,226,226)"/><rect x="1723.1" y="836.0" width="1.9" height="10.5" fill="rgb(212,212,212)"/><rect x="1723.3" y="839.0" width="1.5" height="7.0" fill="rgb(226,226,226)"/><rect x="1732.4" y="836.0" width="1.2" height="10.5" fill="rgb(194,194,194)"/><rect x="1741.4" y="836.0" width="1.1" height="10.5" fill="rgb(194,194,194)"/></g><g filter="url(#blurS)"><ellipse cx="394.0" cy="832.0" rx="19.0" ry="11.0" fill="rgb(138,138,138)" transform="rotate(-38.0 394.0 832.0)"/><ellipse cx="395.0" cy="831.0" rx="15.0" ry="7.5" fill="rgb(175,175,175)" transform="rotate(-38.0 395.0 831.0)"/><ellipse cx="396.0" cy="830.0" rx="11.0" ry="5.2" fill="rgb(210,210,210)" transform="rotate(-38.0 396.0 830.0)"/><ellipse cx="960.0" cy="830.0" rx="22.0" ry="9.0" fill="rgb(138,138,138)" transform="rotate(-24.0 960.0 830.0)"/><ellipse cx="960.0" cy="830.0" rx="18.0" ry="6.5" fill="rgb(175,175,175)" transform="rotate(-24.0 960.0 830.0)"/><ellipse cx="958.0" cy="831.0" rx="13.0" ry="4.4" fill="rgb(219,219,219)" transform="rotate(-24.0 958.0 831.0)"/><ellipse cx="1506.0" cy="836.0" rx="40.0" ry="9.0" fill="rgb(135,135,135)" transform="rotate(-35.0 1506.0 836.0)"/><ellipse cx="1508.0" cy="834.0" rx="33.0" ry="5.5" fill="rgb(164,164,164)" transform="rotate(-36.0 1508.0 834.0)"/><ellipse cx="1511.0" cy="832.0" rx="22.0" ry="3.2" fill="rgb(188,188,188)" transform="rotate(-37.0 1511.0 832.0)"/></g><g filter="url(#blur1)"><ellipse cx="392.0" cy="831.0" rx="2.2" ry="6.5" fill="rgb(243,243,243)" transform="rotate(0.0 392.0 831.0)"/><ellipse cx="397.5" cy="829.0" rx="2.2" ry="7.0" fill="rgb(247,247,247)" transform="rotate(0.0 397.5 829.0)"/><ellipse cx="401.5" cy="827.5" rx="1.8" ry="6.0" fill="rgb(243,243,243)" transform="rotate(0.0 401.5 827.5)"/><ellipse cx="386.5" cy="834.0" rx="1.8" ry="5.0" fill="rgb(236,236,236)" transform="rotate(0.0 386.5 834.0)"/><ellipse cx="410.0" cy="827.0" rx="2.0" ry="3.0" fill="rgb(251,251,251)" transform="rotate(0.0 410.0 827.0)"/><ellipse cx="405.0" cy="832.0" rx="1.5" ry="4.0" fill="rgb(231,231,231)" transform="rotate(0.0 405.0 832.0)"/><ellipse cx="379.0" cy="846.0" rx="4.0" ry="6.0" fill="rgb(169,169,169)" transform="rotate(-35.0 379.0 846.0)"/><ellipse cx="378.5" cy="846.0" rx="2.0" ry="4.0" fill="rgb(210,210,210)" transform="rotate(-30.0 378.5 846.0)"/><ellipse cx="376.6" cy="842.0" rx="1.6" ry="6.0" fill="rgb(200,200,200)" transform="rotate(0.0 376.6 842.0)"/><ellipse cx="946.0" cy="836.0" rx="1.8" ry="5.5" fill="rgb(236,236,236)" transform="rotate(0.0 946.0 836.0)"/><ellipse cx="950.5" cy="834.0" rx="1.8" ry="6.0" fill="rgb(241,241,241)" transform="rotate(0.0 950.5 834.0)"/><ellipse cx="955.0" cy="832.0" rx="1.8" ry="5.5" fill="rgb(243,243,243)" transform="rotate(0.0 955.0 832.0)"/><ellipse cx="959.5" cy="830.0" rx="1.8" ry="5.0" fill="rgb(243,243,243)" transform="rotate(0.0 959.5 830.0)"/><ellipse cx="965.0" cy="826.0" rx="3.2" ry="3.4" fill="rgb(255,255,255)" transform="rotate(0.0 965.0 826.0)"/><ellipse cx="970.0" cy="823.5" rx="2.0" ry="3.0" fill="rgb(243,243,243)" transform="rotate(0.0 970.0 823.5)"/><ellipse cx="974.5" cy="821.5" rx="1.6" ry="2.5" fill="rgb(236,236,236)" transform="rotate(0.0 974.5 821.5)"/><ellipse cx="944.0" cy="838.0" rx="1.5" ry="5.0" fill="rgb(223,223,223)" transform="rotate(0.0 944.0 838.0)"/><ellipse cx="926.0" cy="856.0" rx="20.0" ry="2.6" fill="rgb(154,154,154)" transform="rotate(-36.0 926.0 856.0)"/><ellipse cx="922.0" cy="859.0" rx="8.0" ry="1.8" fill="rgb(180,180,180)" transform="rotate(-36.0 922.0 859.0)"/><ellipse cx="934.0" cy="849.0" rx="6.0" ry="1.6" fill="rgb(180,180,180)" transform="rotate(-36.0 934.0 849.0)"/><ellipse cx="1486.0" cy="846.0" rx="1.8" ry="6.0" fill="rgb(231,231,231)" transform="rotate(0.0 1486.0 846.0)"/><ellipse cx="1490.0" cy="843.0" rx="1.8" ry="7.0" fill="rgb(238,238,238)" transform="rotate(0.0 1490.0 843.0)"/><ellipse cx="1494.5" cy="848.0" rx="2.2" ry="3.6" fill="rgb(247,247,247)" transform="rotate(0.0 1494.5 848.0)"/><ellipse cx="1497.5" cy="845.0" rx="1.6" ry="3.0" fill="rgb(243,243,243)" transform="rotate(0.0 1497.5 845.0)"/><ellipse cx="1482.0" cy="851.0" rx="1.6" ry="3.5" fill="rgb(219,219,219)" transform="rotate(0.0 1482.0 851.0)"/><ellipse cx="1477.0" cy="853.0" rx="1.5" ry="3.0" fill="rgb(205,205,205)" transform="rotate(0.0 1477.0 853.0)"/><ellipse cx="1472.0" cy="850.0" rx="1.6" ry="3.0" fill="rgb(196,196,196)" transform="rotate(0.0 1472.0 850.0)"/><ellipse cx="1504.0" cy="836.0" rx="1.6" ry="5.0" fill="rgb(205,205,205)" transform="rotate(0.0 1504.0 836.0)"/><ellipse cx="1510.0" cy="833.0" rx="1.6" ry="5.0" fill="rgb(210,210,210)" transform="rotate(0.0 1510.0 833.0)"/><ellipse cx="1516.0" cy="830.5" rx="1.6" ry="5.0" fill="rgb(214,214,214)" transform="rotate(0.0 1516.0 830.5)"/><ellipse cx="1525.0" cy="826.0" rx="2.6" ry="3.0" fill="rgb(249,249,249)" transform="rotate(0.0 1525.0 826.0)"/><ellipse cx="1531.5" cy="821.5" rx="1.5" ry="3.2" fill="rgb(233,233,233)" transform="rotate(0.0 1531.5 821.5)"/><ellipse cx="1535.5" cy="817.5" rx="1.4" ry="2.8" fill="rgb(231,231,231)" transform="rotate(0.0 1535.5 817.5)"/><ellipse cx="1510.5" cy="870.0" rx="2.4" ry="6.0" fill="rgb(199,199,199)" transform="rotate(0.0 1510.5 870.0)"/><ellipse cx="1508.5" cy="864.0" rx="1.8" ry="3.0" fill="rgb(192,192,192)" transform="rotate(0.0 1508.5 864.0)"/></g></g></g><g clip-path="url(#clipL)"><g filter="url(#cmL)"><rect x="100.50" y="842.00" width="1678.40" height="137.50" fill="rgb(127,0,0)"/><g filter="url(#blurS)"><rect x="99.5" y="844.0" width="1680.4" height="16.0" fill="rgb(117,0,0)"/><rect x="940.0" y="846.0" width="560.0" height="14.0" fill="rgb(131,0,0)"/><rect x="1540.0" y="846.0" width="239.9" height="11.5" fill="rgb(141,0,0)"/><rect x="99.5" y="860.0" width="1680.4" height="24.0" fill="rgb(140,0,0)"/><rect x="660.0" y="859.0" width="170.0" height="25.0" fill="rgb(145,0,0)"/><rect x="940.0" y="859.0" width="560.0" height="25.0" fill="rgb(140,0,0)"/><rect x="99.5" y="872.5" width="250.5" height="11.5" fill="rgb(164,0,0)"/><rect x="350.0" y="874.0" width="250.0" height="8.5" fill="rgb(158,0,0)"/><rect x="613.0" y="861.0" width="47.0" height="23.0" fill="rgb(159,0,0)"/><rect x="99.5" y="884.0" width="1680.4" height="93.0" fill="rgb(148,0,0)"/><rect x="1314.0" y="905.0" width="186.0" height="43.0" fill="rgb(173,0,0)"/><rect x="1500.0" y="916.0" width="279.9" height="25.0" fill="rgb(166,0,0)"/><rect x="1500.0" y="884.0" width="85.0" height="11.0" fill="rgb(166,0,0)"/><rect x="1585.0" y="884.0" width="194.9" height="11.0" fill="rgb(125,0,0)"/><rect x="99.5" y="926.0" width="70.5" height="23.0" fill="rgb(162,0,0)"/><rect x="380.0" y="951.0" width="64.0" height="7.0" fill="rgb(156,0,0)"/><rect x="760.0" y="947.0" width="570.0" height="11.5" fill="rgb(155,0,0)"/><rect x="99.5" y="966.5" width="1230.5" height="10.5" fill="rgb(144,0,0)"/><rect x="1500.0" y="968.5" width="100.0" height="8.5" fill="rgb(166,0,0)"/><rect x="1610.0" y="968.5" width="50.0" height="8.5" fill="rgb(149,0,0)"/><rect x="1710.0" y="968.5" width="69.9" height="8.5" fill="rgb(149,0,0)"/><rect x="1330.0" y="960.0" width="449.9" height="6.0" fill="rgb(151,0,0)"/></g><g filter="url(#blur2)"><ellipse cx="1407.5" cy="918.2" rx="8.7" ry="6.8" fill="rgb(177,0,0)" opacity="0.90"/><ellipse cx="1058.8" cy="911.3" rx="5.3" ry="3.4" fill="rgb(161,0,0)" opacity="0.90"/><ellipse cx="302.4" cy="953.7" rx="6.1" ry="2.6" fill="rgb(187,0,0)" opacity="0.90"/><ellipse cx="1526.5" cy="899.4" rx="7.0" ry="3.5" fill="rgb(178,0,0)" opacity="0.90"/><ellipse cx="797.2" cy="964.9" rx="6.3" ry="6.3" fill="rgb(173,0,0)" opacity="0.90"/><ellipse cx="198.5" cy="919.2" rx="3.8" ry="6.7" fill="rgb(166,0,0)" opacity="0.90"/><ellipse cx="1461.1" cy="928.5" rx="7.2" ry="2.6" fill="rgb(162,0,0)" opacity="0.90"/><ellipse cx="237.9" cy="953.0" rx="5.5" ry="3.1" fill="rgb(168,0,0)" opacity="0.90"/><ellipse cx="1354.0" cy="939.6" rx="6.9" ry="5.6" fill="rgb(162,0,0)" opacity="0.90"/><ellipse cx="1670.6" cy="900.0" rx="8.8" ry="4.4" fill="rgb(164,0,0)" opacity="0.90"/><ellipse cx="1620.8" cy="948.2" rx="7.0" ry="3.3" fill="rgb(162,0,0)" opacity="0.90"/><ellipse cx="1398.0" cy="916.1" rx="3.4" ry="4.2" fill="rgb(172,0,0)" opacity="0.90"/><ellipse cx="1127.4" cy="934.5" rx="6.3" ry="3.5" fill="rgb(167,0,0)" opacity="0.90"/><ellipse cx="1661.4" cy="949.8" rx="7.6" ry="6.1" fill="rgb(168,0,0)" opacity="0.90"/><ellipse cx="389.7" cy="899.1" rx="4.4" ry="3.0" fill="rgb(186,0,0)" opacity="0.90"/><ellipse cx="1530.2" cy="922.9" rx="7.3" ry="6.4" fill="rgb(182,0,0)" opacity="0.90"/><ellipse cx="224.1" cy="903.0" rx="6.0" ry="3.3" fill="rgb(188,0,0)" opacity="0.90"/><ellipse cx="300.6" cy="965.6" rx="6.6" ry="4.0" fill="rgb(161,0,0)" opacity="0.90"/><ellipse cx="1673.2" cy="927.2" rx="6.8" ry="3.4" fill="rgb(181,0,0)" opacity="0.90"/><ellipse cx="493.0" cy="945.8" rx="3.3" ry="5.9" fill="rgb(177,0,0)" opacity="0.90"/><ellipse cx="848.6" cy="912.1" rx="3.6" ry="6.1" fill="rgb(159,0,0)" opacity="0.90"/><ellipse cx="272.0" cy="946.7" rx="5.4" ry="3.9" fill="rgb(176,0,0)" opacity="0.90"/><ellipse cx="727.0" cy="951.0" rx="8.4" ry="2.9" fill="rgb(177,0,0)" opacity="0.90"/><ellipse cx="753.8" cy="935.1" rx="8.3" ry="6.1" fill="rgb(168,0,0)" opacity="0.90"/><ellipse cx="742.1" cy="905.4" rx="6.2" ry="5.4" fill="rgb(178,0,0)" opacity="0.90"/><ellipse cx="610.2" cy="919.5" rx="7.2" ry="3.1" fill="rgb(166,0,0)" opacity="0.90"/><ellipse cx="818.5" cy="963.3" rx="7.1" ry="3.7" fill="rgb(186,0,0)" opacity="0.90"/><ellipse cx="267.1" cy="912.7" rx="5.4" ry="5.6" fill="rgb(174,0,0)" opacity="0.90"/><ellipse cx="1640.9" cy="941.5" rx="7.7" ry="6.3" fill="rgb(185,0,0)" opacity="0.90"/><ellipse cx="632.6" cy="963.3" rx="8.4" ry="2.7" fill="rgb(185,0,0)" opacity="0.90"/><ellipse cx="903.5" cy="940.6" rx="5.0" ry="4.5" fill="rgb(163,0,0)" opacity="0.90"/><ellipse cx="836.6" cy="910.6" rx="7.8" ry="6.1" fill="rgb(165,0,0)" opacity="0.90"/><ellipse cx="1310.6" cy="958.0" rx="3.4" ry="5.5" fill="rgb(163,0,0)" opacity="0.90"/><ellipse cx="1614.2" cy="906.1" rx="4.8" ry="4.7" fill="rgb(172,0,0)" opacity="0.90"/><ellipse cx="444.7" cy="936.1" rx="3.9" ry="5.0" fill="rgb(159,0,0)" opacity="0.90"/><ellipse cx="1587.4" cy="930.0" rx="8.6" ry="5.3" fill="rgb(175,0,0)" opacity="0.90"/><ellipse cx="836.2" cy="946.1" rx="5.5" ry="6.3" fill="rgb(174,0,0)" opacity="0.90"/><ellipse cx="160.6" cy="951.0" rx="4.0" ry="3.2" fill="rgb(160,0,0)" opacity="0.90"/><ellipse cx="828.7" cy="898.0" rx="4.9" ry="3.9" fill="rgb(178,0,0)" opacity="0.90"/><ellipse cx="1147.1" cy="900.6" rx="8.6" ry="3.8" fill="rgb(174,0,0)" opacity="0.90"/><ellipse cx="1165.5" cy="934.5" rx="4.6" ry="4.4" fill="rgb(175,0,0)" opacity="0.90"/><ellipse cx="1279.4" cy="931.5" rx="7.1" ry="2.6" fill="rgb(184,0,0)" opacity="0.90"/><ellipse cx="1568.3" cy="936.0" rx="4.1" ry="5.8" fill="rgb(185,0,0)" opacity="0.90"/><ellipse cx="1676.7" cy="907.2" rx="6.6" ry="4.7" fill="rgb(181,0,0)" opacity="0.90"/><ellipse cx="1342.8" cy="924.5" rx="3.6" ry="6.0" fill="rgb(167,0,0)" opacity="0.90"/><ellipse cx="1278.2" cy="914.8" rx="3.5" ry="5.0" fill="rgb(184,0,0)" opacity="0.90"/><ellipse cx="649.6" cy="904.2" rx="6.4" ry="6.3" fill="rgb(174,0,0)" opacity="0.90"/><ellipse cx="249.1" cy="933.4" rx="3.7" ry="5.2" fill="rgb(162,0,0)" opacity="0.90"/><ellipse cx="415.1" cy="931.6" rx="6.3" ry="6.6" fill="rgb(177,0,0)" opacity="0.90"/><ellipse cx="206.2" cy="968.3" rx="3.8" ry="6.2" fill="rgb(184,0,0)" opacity="0.90"/><ellipse cx="633.5" cy="922.7" rx="6.8" ry="5.2" fill="rgb(184,0,0)" opacity="0.90"/><ellipse cx="1010.7" cy="965.7" rx="6.0" ry="2.6" fill="rgb(181,0,0)" opacity="0.90"/><ellipse cx="1291.0" cy="926.6" rx="7.0" ry="5.3" fill="rgb(170,0,0)" opacity="0.90"/><ellipse cx="646.1" cy="916.8" rx="8.9" ry="6.9" fill="rgb(168,0,0)" opacity="0.90"/><ellipse cx="411.3" cy="945.5" rx="9.0" ry="5.6" fill="rgb(183,0,0)" opacity="0.90"/><ellipse cx="994.4" cy="969.6" rx="4.5" ry="5.2" fill="rgb(165,0,0)" opacity="0.90"/><ellipse cx="700.8" cy="933.7" rx="4.6" ry="5.9" fill="rgb(166,0,0)" opacity="0.90"/><ellipse cx="1725.3" cy="898.9" rx="7.5" ry="6.7" fill="rgb(159,0,0)" opacity="0.90"/><ellipse cx="617.5" cy="928.5" rx="4.0" ry="4.1" fill="rgb(187,0,0)" opacity="0.90"/><ellipse cx="1050.4" cy="926.1" rx="4.7" ry="2.8" fill="rgb(182,0,0)" opacity="0.90"/><ellipse cx="1152.6" cy="946.4" rx="3.6" ry="6.0" fill="rgb(161,0,0)" opacity="0.90"/><ellipse cx="969.8" cy="912.4" rx="8.8" ry="3.6" fill="rgb(163,0,0)" opacity="0.90"/><ellipse cx="628.0" cy="910.1" rx="7.7" ry="4.0" fill="rgb(179,0,0)" opacity="0.90"/><ellipse cx="1271.3" cy="920.2" rx="6.3" ry="4.0" fill="rgb(173,0,0)" opacity="0.90"/><ellipse cx="369.7" cy="957.6" rx="5.9" ry="4.6" fill="rgb(176,0,0)" opacity="0.90"/><ellipse cx="1515.1" cy="908.7" rx="8.5" ry="3.9" fill="rgb(177,0,0)" opacity="0.90"/><ellipse cx="1280.6" cy="951.9" rx="5.0" ry="5.0" fill="rgb(179,0,0)" opacity="0.90"/><ellipse cx="1361.6" cy="947.5" rx="6.8" ry="4.6" fill="rgb(172,0,0)" opacity="0.90"/><ellipse cx="829.9" cy="946.3" rx="7.2" ry="4.0" fill="rgb(161,0,0)" opacity="0.90"/><ellipse cx="1640.7" cy="921.7" rx="3.9" ry="2.7" fill="rgb(174,0,0)" opacity="0.90"/><ellipse cx="384.2" cy="962.2" rx="5.5" ry="6.3" fill="rgb(185,0,0)" opacity="0.90"/><ellipse cx="816.9" cy="903.4" rx="7.8" ry="2.7" fill="rgb(183,0,0)" opacity="0.90"/><ellipse cx="103.2" cy="904.5" rx="3.9" ry="6.8" fill="rgb(167,0,0)" opacity="0.90"/><ellipse cx="1703.8" cy="963.6" rx="8.0" ry="3.6" fill="rgb(183,0,0)" opacity="0.90"/><ellipse cx="1325.8" cy="951.9" rx="7.8" ry="3.4" fill="rgb(175,0,0)" opacity="0.90"/><ellipse cx="551.3" cy="955.0" rx="8.2" ry="4.8" fill="rgb(174,0,0)" opacity="0.90"/><ellipse cx="587.9" cy="951.7" rx="6.4" ry="3.9" fill="rgb(174,0,0)" opacity="0.90"/><ellipse cx="974.4" cy="903.7" rx="5.7" ry="6.3" fill="rgb(174,0,0)" opacity="0.90"/><ellipse cx="373.2" cy="900.1" rx="5.1" ry="3.4" fill="rgb(172,0,0)" opacity="0.90"/><ellipse cx="984.9" cy="906.4" rx="6.7" ry="6.2" fill="rgb(175,0,0)" opacity="0.90"/><ellipse cx="258.6" cy="936.5" rx="7.9" ry="4.6" fill="rgb(176,0,0)" opacity="0.90"/><ellipse cx="772.1" cy="923.4" rx="5.6" ry="3.2" fill="rgb(164,0,0)" opacity="0.90"/><ellipse cx="1019.9" cy="904.3" rx="8.0" ry="3.6" fill="rgb(165,0,0)" opacity="0.90"/><ellipse cx="1036.1" cy="944.7" rx="8.2" ry="5.3" fill="rgb(182,0,0)" opacity="0.90"/><ellipse cx="1287.6" cy="963.4" rx="7.2" ry="4.8" fill="rgb(159,0,0)" opacity="0.90"/><ellipse cx="848.0" cy="914.7" rx="5.7" ry="5.3" fill="rgb(176,0,0)" opacity="0.90"/><ellipse cx="1601.8" cy="914.3" rx="8.7" ry="4.0" fill="rgb(161,0,0)" opacity="0.90"/><ellipse cx="1670.5" cy="950.8" rx="8.9" ry="5.0" fill="rgb(185,0,0)" opacity="0.90"/><ellipse cx="730.9" cy="929.3" rx="8.3" ry="5.8" fill="rgb(172,0,0)" opacity="0.90"/><ellipse cx="286.3" cy="916.8" rx="4.3" ry="6.5" fill="rgb(182,0,0)" opacity="0.90"/><ellipse cx="1102.3" cy="934.5" rx="6.8" ry="4.2" fill="rgb(183,0,0)" opacity="0.90"/><ellipse cx="926.6" cy="912.5" rx="6.4" ry="3.4" fill="rgb(175,0,0)" opacity="0.90"/><ellipse cx="1036.1" cy="921.5" rx="8.4" ry="3.7" fill="rgb(181,0,0)" opacity="0.90"/><ellipse cx="1773.4" cy="928.7" rx="6.7" ry="2.5" fill="rgb(164,0,0)" opacity="0.90"/><ellipse cx="1396.9" cy="904.5" rx="7.8" ry="5.2" fill="rgb(159,0,0)" opacity="0.90"/><ellipse cx="1025.7" cy="959.7" rx="3.8" ry="3.3" fill="rgb(169,0,0)" opacity="0.90"/><ellipse cx="336.1" cy="934.0" rx="3.7" ry="5.9" fill="rgb(179,0,0)" opacity="0.90"/><ellipse cx="658.8" cy="940.0" rx="6.8" ry="5.4" fill="rgb(178,0,0)" opacity="0.90"/><ellipse cx="512.5" cy="950.6" rx="6.2" ry="5.1" fill="rgb(173,0,0)" opacity="0.90"/><ellipse cx="877.3" cy="952.7" rx="3.2" ry="5.6" fill="rgb(165,0,0)" opacity="0.90"/><ellipse cx="1590.6" cy="920.7" rx="4.8" ry="4.1" fill="rgb(161,0,0)" opacity="0.90"/><ellipse cx="203.5" cy="910.0" rx="7.6" ry="3.9" fill="rgb(174,0,0)" opacity="0.90"/><ellipse cx="1456.8" cy="954.2" rx="8.5" ry="3.8" fill="rgb(172,0,0)" opacity="0.90"/><ellipse cx="1655.8" cy="930.0" rx="3.2" ry="5.4" fill="rgb(185,0,0)" opacity="0.90"/><ellipse cx="695.8" cy="913.0" rx="4.8" ry="2.9" fill="rgb(182,0,0)" opacity="0.90"/><ellipse cx="1449.1" cy="943.5" rx="6.0" ry="3.1" fill="rgb(178,0,0)" opacity="0.90"/><ellipse cx="564.7" cy="916.5" rx="4.7" ry="6.0" fill="rgb(185,0,0)" opacity="0.90"/><ellipse cx="1651.3" cy="943.0" rx="4.2" ry="3.0" fill="rgb(172,0,0)" opacity="0.90"/><ellipse cx="1333.1" cy="931.5" rx="6.6" ry="6.5" fill="rgb(176,0,0)" opacity="0.90"/><ellipse cx="1089.7" cy="907.8" rx="8.8" ry="6.4" fill="rgb(170,0,0)" opacity="0.90"/><ellipse cx="1350.5" cy="929.1" rx="7.5" ry="4.6" fill="rgb(187,0,0)" opacity="0.90"/><ellipse cx="1204.4" cy="931.2" rx="5.9" ry="5.8" fill="rgb(176,0,0)" opacity="0.90"/><ellipse cx="589.7" cy="938.4" rx="8.3" ry="6.7" fill="rgb(177,0,0)" opacity="0.90"/><ellipse cx="888.9" cy="898.1" rx="3.5" ry="6.7" fill="rgb(187,0,0)" opacity="0.90"/><ellipse cx="1351.9" cy="942.3" rx="4.5" ry="5.2" fill="rgb(164,0,0)" opacity="0.90"/><ellipse cx="326.2" cy="950.9" rx="5.5" ry="3.0" fill="rgb(178,0,0)" opacity="0.90"/><ellipse cx="1273.0" cy="944.5" rx="4.1" ry="4.7" fill="rgb(182,0,0)" opacity="0.90"/><ellipse cx="395.7" cy="960.1" rx="7.4" ry="2.9" fill="rgb(172,0,0)" opacity="0.90"/><ellipse cx="1294.7" cy="927.8" rx="7.5" ry="6.6" fill="rgb(168,0,0)" opacity="0.90"/><ellipse cx="166.7" cy="938.8" rx="7.2" ry="3.6" fill="rgb(185,0,0)" opacity="0.90"/><ellipse cx="648.2" cy="915.6" rx="3.0" ry="6.5" fill="rgb(180,0,0)" opacity="0.90"/><ellipse cx="1436.0" cy="963.8" rx="7.9" ry="2.6" fill="rgb(180,0,0)" opacity="0.90"/><ellipse cx="984.6" cy="959.1" rx="4.9" ry="4.0" fill="rgb(165,0,0)" opacity="0.90"/><ellipse cx="782.0" cy="899.7" rx="7.3" ry="6.0" fill="rgb(170,0,0)" opacity="0.90"/><ellipse cx="645.2" cy="915.1" rx="4.8" ry="4.9" fill="rgb(183,0,0)" opacity="0.90"/><ellipse cx="1654.2" cy="957.9" rx="6.1" ry="4.3" fill="rgb(160,0,0)" opacity="0.90"/><ellipse cx="692.8" cy="905.8" rx="6.5" ry="4.6" fill="rgb(173,0,0)" opacity="0.90"/><ellipse cx="362.1" cy="938.1" rx="4.8" ry="6.6" fill="rgb(181,0,0)" opacity="0.90"/><ellipse cx="327.0" cy="953.1" rx="3.8" ry="2.9" fill="rgb(162,0,0)" opacity="0.90"/><ellipse cx="746.1" cy="914.0" rx="4.9" ry="4.8" fill="rgb(175,0,0)" opacity="0.90"/><ellipse cx="685.6" cy="942.5" rx="5.2" ry="6.2" fill="rgb(180,0,0)" opacity="0.90"/><ellipse cx="290.8" cy="902.5" rx="8.9" ry="4.0" fill="rgb(168,0,0)" opacity="0.90"/><ellipse cx="1502.9" cy="905.2" rx="8.7" ry="4.9" fill="rgb(178,0,0)" opacity="0.90"/><ellipse cx="1742.5" cy="931.7" rx="7.2" ry="4.5" fill="rgb(163,0,0)" opacity="0.90"/><ellipse cx="293.0" cy="922.2" rx="3.1" ry="2.7" fill="rgb(187,0,0)" opacity="0.90"/><ellipse cx="467.6" cy="965.5" rx="6.8" ry="6.1" fill="rgb(164,0,0)" opacity="0.90"/><ellipse cx="1052.4" cy="961.9" rx="8.6" ry="5.6" fill="rgb(183,0,0)" opacity="0.90"/><ellipse cx="183.2" cy="939.8" rx="3.7" ry="2.6" fill="rgb(173,0,0)" opacity="0.90"/><ellipse cx="1526.6" cy="912.4" rx="3.8" ry="3.8" fill="rgb(164,0,0)" opacity="0.90"/><ellipse cx="1508.1" cy="935.7" rx="3.5" ry="6.7" fill="rgb(177,0,0)" opacity="0.90"/><ellipse cx="791.0" cy="916.8" rx="8.3" ry="6.3" fill="rgb(183,0,0)" opacity="0.90"/><ellipse cx="287.0" cy="966.6" rx="8.1" ry="2.7" fill="rgb(159,0,0)" opacity="0.90"/><ellipse cx="556.8" cy="957.3" rx="5.0" ry="4.1" fill="rgb(185,0,0)" opacity="0.90"/><ellipse cx="1531.6" cy="938.2" rx="5.9" ry="5.6" fill="rgb(180,0,0)" opacity="0.90"/><ellipse cx="717.2" cy="930.0" rx="6.7" ry="6.0" fill="rgb(161,0,0)" opacity="0.90"/><ellipse cx="993.7" cy="902.9" rx="3.8" ry="4.2" fill="rgb(160,0,0)" opacity="0.90"/><ellipse cx="129.5" cy="950.4" rx="4.7" ry="6.6" fill="rgb(165,0,0)" opacity="0.90"/><ellipse cx="1393.8" cy="910.3" rx="8.1" ry="6.4" fill="rgb(174,0,0)" opacity="0.90"/><ellipse cx="412.8" cy="912.8" rx="3.3" ry="2.9" fill="rgb(179,0,0)" opacity="0.90"/><ellipse cx="807.3" cy="924.6" rx="8.4" ry="5.6" fill="rgb(168,0,0)" opacity="0.90"/><ellipse cx="1182.8" cy="908.2" rx="8.8" ry="3.9" fill="rgb(167,0,0)" opacity="0.90"/><ellipse cx="300.8" cy="946.2" rx="6.0" ry="3.5" fill="rgb(166,0,0)" opacity="0.90"/><ellipse cx="172.8" cy="964.6" rx="3.7" ry="4.9" fill="rgb(185,0,0)" opacity="0.90"/><ellipse cx="664.0" cy="929.9" rx="8.9" ry="5.7" fill="rgb(170,0,0)" opacity="0.90"/><ellipse cx="159.3" cy="904.3" rx="5.4" ry="4.9" fill="rgb(175,0,0)" opacity="0.90"/><ellipse cx="998.8" cy="955.2" rx="8.2" ry="7.0" fill="rgb(163,0,0)" opacity="0.90"/><ellipse cx="1655.6" cy="933.6" rx="7.5" ry="2.5" fill="rgb(183,0,0)" opacity="0.90"/><ellipse cx="186.1" cy="938.7" rx="6.6" ry="2.5" fill="rgb(185,0,0)" opacity="0.90"/><ellipse cx="1708.1" cy="921.9" rx="7.8" ry="6.1" fill="rgb(173,0,0)" opacity="0.90"/><ellipse cx="973.8" cy="902.6" rx="7.4" ry="4.5" fill="rgb(175,0,0)" opacity="0.90"/><ellipse cx="722.9" cy="967.1" rx="3.9" ry="5.7" fill="rgb(171,0,0)" opacity="0.90"/><ellipse cx="1122.7" cy="930.8" rx="4.1" ry="4.0" fill="rgb(164,0,0)" opacity="0.90"/><ellipse cx="168.9" cy="937.1" rx="5.4" ry="3.1" fill="rgb(176,0,0)" opacity="0.90"/><ellipse cx="471.9" cy="966.1" rx="6.9" ry="2.6" fill="rgb(181,0,0)" opacity="0.90"/><ellipse cx="1388.6" cy="969.8" rx="6.2" ry="5.7" fill="rgb(186,0,0)" opacity="0.90"/><ellipse cx="1637.3" cy="926.4" rx="4.6" ry="3.9" fill="rgb(187,0,0)" opacity="0.90"/><ellipse cx="1538.1" cy="903.2" rx="8.4" ry="3.9" fill="rgb(183,0,0)" opacity="0.90"/><ellipse cx="540.6" cy="904.5" rx="7.0" ry="3.1" fill="rgb(175,0,0)" opacity="0.90"/><ellipse cx="440.7" cy="951.7" rx="6.3" ry="4.6" fill="rgb(174,0,0)" opacity="0.90"/><ellipse cx="878.4" cy="902.8" rx="4.4" ry="3.4" fill="rgb(185,0,0)" opacity="0.90"/><ellipse cx="1407.7" cy="971.5" rx="4.0" ry="3.5" fill="rgb(187,0,0)" opacity="0.90"/><ellipse cx="918.8" cy="968.4" rx="4.9" ry="6.8" fill="rgb(162,0,0)" opacity="0.90"/><ellipse cx="331.3" cy="906.9" rx="4.3" ry="3.7" fill="rgb(170,0,0)" opacity="0.90"/><ellipse cx="287.5" cy="940.4" rx="6.2" ry="5.1" fill="rgb(170,0,0)" opacity="0.90"/><ellipse cx="1500.8" cy="928.2" rx="5.4" ry="5.1" fill="rgb(186,0,0)" opacity="0.90"/><ellipse cx="758.8" cy="948.3" rx="5.6" ry="5.5" fill="rgb(175,0,0)" opacity="0.90"/><ellipse cx="847.7" cy="912.7" rx="4.9" ry="5.4" fill="rgb(163,0,0)" opacity="0.90"/><ellipse cx="589.1" cy="942.4" rx="6.0" ry="5.9" fill="rgb(179,0,0)" opacity="0.90"/><ellipse cx="926.1" cy="936.5" rx="6.8" ry="4.9" fill="rgb(175,0,0)" opacity="0.90"/><ellipse cx="550.7" cy="929.8" rx="7.1" ry="6.5" fill="rgb(177,0,0)" opacity="0.90"/><ellipse cx="113.0" cy="938.6" rx="8.9" ry="3.1" fill="rgb(160,0,0)" opacity="0.90"/><ellipse cx="1765.2" cy="899.1" rx="7.3" ry="4.8" fill="rgb(168,0,0)" opacity="0.90"/><ellipse cx="836.9" cy="954.0" rx="5.8" ry="2.6" fill="rgb(174,0,0)" opacity="0.90"/><ellipse cx="1401.3" cy="907.5" rx="5.6" ry="5.3" fill="rgb(166,0,0)" opacity="0.90"/><ellipse cx="1308.3" cy="946.3" rx="7.6" ry="3.5" fill="rgb(161,0,0)" opacity="0.90"/><ellipse cx="1717.2" cy="934.2" rx="8.0" ry="5.3" fill="rgb(162,0,0)" opacity="0.90"/><ellipse cx="864.5" cy="955.0" rx="5.3" ry="5.9" fill="rgb(162,0,0)" opacity="0.90"/><ellipse cx="293.0" cy="930.2" rx="6.0" ry="6.8" fill="rgb(175,0,0)" opacity="0.90"/><ellipse cx="1167.0" cy="917.8" rx="5.3" ry="4.4" fill="rgb(174,0,0)" opacity="0.90"/><ellipse cx="205.3" cy="926.1" rx="3.3" ry="2.6" fill="rgb(186,0,0)" opacity="0.90"/><ellipse cx="744.9" cy="921.1" rx="5.0" ry="5.1" fill="rgb(163,0,0)" opacity="0.90"/><ellipse cx="441.6" cy="952.9" rx="7.2" ry="3.4" fill="rgb(186,0,0)" opacity="0.90"/><ellipse cx="358.6" cy="955.1" rx="4.8" ry="5.6" fill="rgb(173,0,0)" opacity="0.90"/><ellipse cx="903.5" cy="957.1" rx="8.6" ry="5.1" fill="rgb(166,0,0)" opacity="0.90"/><ellipse cx="1750.0" cy="902.2" rx="5.2" ry="4.3" fill="rgb(186,0,0)" opacity="0.90"/><ellipse cx="1744.9" cy="964.4" rx="9.0" ry="5.0" fill="rgb(181,0,0)" opacity="0.90"/><ellipse cx="707.6" cy="944.7" rx="6.6" ry="2.6" fill="rgb(187,0,0)" opacity="0.90"/><ellipse cx="1008.6" cy="919.9" rx="7.0" ry="2.8" fill="rgb(166,0,0)" opacity="0.90"/><ellipse cx="1163.6" cy="917.1" rx="7.8" ry="5.3" fill="rgb(171,0,0)" opacity="0.90"/><ellipse cx="1082.2" cy="961.3" rx="8.4" ry="3.3" fill="rgb(180,0,0)" opacity="0.90"/><ellipse cx="431.6" cy="957.9" rx="7.2" ry="6.4" fill="rgb(176,0,0)" opacity="0.90"/><ellipse cx="819.1" cy="956.8" rx="8.3" ry="3.2" fill="rgb(184,0,0)" opacity="0.90"/><ellipse cx="127.8" cy="924.6" rx="5.2" ry="4.9" fill="rgb(160,0,0)" opacity="0.90"/><ellipse cx="204.3" cy="908.4" rx="5.8" ry="3.0" fill="rgb(172,0,0)" opacity="0.90"/><ellipse cx="816.2" cy="921.8" rx="7.7" ry="3.2" fill="rgb(163,0,0)" opacity="0.90"/><ellipse cx="1084.9" cy="964.9" rx="7.5" ry="5.4" fill="rgb(180,0,0)" opacity="0.90"/><ellipse cx="597.2" cy="902.4" rx="4.2" ry="4.0" fill="rgb(177,0,0)" opacity="0.90"/><ellipse cx="950.7" cy="927.1" rx="4.4" ry="5.3" fill="rgb(178,0,0)" opacity="0.90"/><ellipse cx="544.3" cy="952.6" rx="8.4" ry="3.7" fill="rgb(173,0,0)" opacity="0.90"/><ellipse cx="1729.5" cy="957.2" rx="8.3" ry="4.8" fill="rgb(183,0,0)" opacity="0.90"/><ellipse cx="700.2" cy="939.4" rx="3.2" ry="2.7" fill="rgb(166,0,0)" opacity="0.90"/><ellipse cx="1351.9" cy="914.5" rx="5.7" ry="5.2" fill="rgb(162,0,0)" opacity="0.90"/><ellipse cx="1157.1" cy="951.0" rx="6.4" ry="4.3" fill="rgb(160,0,0)" opacity="0.90"/><ellipse cx="938.3" cy="964.0" rx="4.1" ry="5.1" fill="rgb(161,0,0)" opacity="0.90"/><ellipse cx="227.1" cy="915.1" rx="5.4" ry="3.0" fill="rgb(162,0,0)" opacity="0.90"/><ellipse cx="441.4" cy="946.5" rx="4.4" ry="3.8" fill="rgb(160,0,0)" opacity="0.90"/><ellipse cx="1277.3" cy="960.0" rx="5.9" ry="5.4" fill="rgb(178,0,0)" opacity="0.90"/><ellipse cx="939.1" cy="969.9" rx="7.4" ry="2.6" fill="rgb(185,0,0)" opacity="0.90"/><ellipse cx="1703.9" cy="903.3" rx="8.8" ry="6.9" fill="rgb(163,0,0)" opacity="0.90"/><ellipse cx="937.7" cy="935.4" rx="7.6" ry="3.5" fill="rgb(171,0,0)" opacity="0.90"/><ellipse cx="1383.1" cy="965.6" rx="9.0" ry="5.1" fill="rgb(162,0,0)" opacity="0.90"/><ellipse cx="621.0" cy="956.8" rx="7.1" ry="2.6" fill="rgb(176,0,0)" opacity="0.90"/><ellipse cx="802.2" cy="968.9" rx="4.8" ry="4.5" fill="rgb(186,0,0)" opacity="0.90"/><ellipse cx="1173.2" cy="908.0" rx="7.7" ry="6.5" fill="rgb(185,0,0)" opacity="0.90"/><ellipse cx="1304.8" cy="923.4" rx="7.9" ry="6.3" fill="rgb(179,0,0)" opacity="0.90"/><ellipse cx="399.8" cy="971.8" rx="3.5" ry="6.0" fill="rgb(178,0,0)" opacity="0.90"/><ellipse cx="1335.7" cy="959.4" rx="6.0" ry="6.9" fill="rgb(183,0,0)" opacity="0.90"/><ellipse cx="1403.1" cy="955.5" rx="5.5" ry="5.0" fill="rgb(165,0,0)" opacity="0.90"/><ellipse cx="1392.8" cy="938.6" rx="7.3" ry="3.3" fill="rgb(165,0,0)" opacity="0.90"/><ellipse cx="1756.8" cy="945.4" rx="5.2" ry="5.2" fill="rgb(160,0,0)" opacity="0.90"/><ellipse cx="1644.6" cy="966.1" rx="8.3" ry="2.7" fill="rgb(165,0,0)" opacity="0.90"/><ellipse cx="1718.6" cy="947.1" rx="8.9" ry="4.9" fill="rgb(168,0,0)" opacity="0.90"/><ellipse cx="582.6" cy="915.7" rx="3.2" ry="6.5" fill="rgb(187,0,0)" opacity="0.90"/><ellipse cx="1144.3" cy="924.4" rx="3.8" ry="5.0" fill="rgb(168,0,0)" opacity="0.90"/><ellipse cx="877.6" cy="915.2" rx="5.4" ry="3.4" fill="rgb(166,0,0)" opacity="0.90"/><ellipse cx="460.1" cy="971.5" rx="4.4" ry="3.9" fill="rgb(171,0,0)" opacity="0.90"/><ellipse cx="1092.5" cy="941.1" rx="5.9" ry="2.5" fill="rgb(167,0,0)" opacity="0.90"/><ellipse cx="998.0" cy="947.6" rx="6.3" ry="6.0" fill="rgb(171,0,0)" opacity="0.90"/><ellipse cx="479.3" cy="963.4" rx="7.1" ry="6.8" fill="rgb(174,0,0)" opacity="0.90"/><ellipse cx="587.4" cy="928.8" rx="7.3" ry="4.3" fill="rgb(187,0,0)" opacity="0.90"/><ellipse cx="560.6" cy="970.1" rx="6.3" ry="3.1" fill="rgb(169,0,0)" opacity="0.90"/><ellipse cx="150.9" cy="938.2" rx="3.7" ry="5.2" fill="rgb(160,0,0)" opacity="0.90"/><ellipse cx="1532.3" cy="914.3" rx="5.6" ry="3.3" fill="rgb(176,0,0)" opacity="0.90"/><ellipse cx="352.3" cy="927.2" rx="4.8" ry="2.6" fill="rgb(184,0,0)" opacity="0.90"/><ellipse cx="722.8" cy="913.4" rx="5.9" ry="4.2" fill="rgb(164,0,0)" opacity="0.90"/><ellipse cx="780.4" cy="922.6" rx="5.2" ry="5.8" fill="rgb(162,0,0)" opacity="0.90"/><ellipse cx="284.6" cy="962.2" rx="6.8" ry="4.1" fill="rgb(178,0,0)" opacity="0.90"/><ellipse cx="1647.4" cy="951.9" rx="3.1" ry="2.7" fill="rgb(180,0,0)" opacity="0.90"/><ellipse cx="356.0" cy="929.5" rx="8.8" ry="3.6" fill="rgb(163,0,0)" opacity="0.90"/><ellipse cx="1384.7" cy="956.6" rx="4.3" ry="3.5" fill="rgb(178,0,0)" opacity="0.90"/><ellipse cx="646.4" cy="945.0" rx="5.4" ry="2.6" fill="rgb(171,0,0)" opacity="0.90"/><ellipse cx="1400.7" cy="923.5" rx="8.2" ry="5.9" fill="rgb(170,0,0)" opacity="0.90"/><ellipse cx="121.9" cy="964.8" rx="8.1" ry="2.8" fill="rgb(159,0,0)" opacity="0.90"/><ellipse cx="1402.5" cy="939.4" rx="6.9" ry="4.3" fill="rgb(163,0,0)" opacity="0.90"/><ellipse cx="1484.7" cy="922.0" rx="4.8" ry="6.8" fill="rgb(171,0,0)" opacity="0.90"/><ellipse cx="493.1" cy="938.2" rx="5.2" ry="3.3" fill="rgb(165,0,0)" opacity="0.90"/><ellipse cx="1479.0" cy="927.7" rx="4.8" ry="6.2" fill="rgb(165,0,0)" opacity="0.90"/><ellipse cx="135.0" cy="967.3" rx="8.3" ry="3.3" fill="rgb(169,0,0)" opacity="0.90"/><ellipse cx="1336.7" cy="922.0" rx="4.7" ry="3.5" fill="rgb(161,0,0)" opacity="0.90"/><ellipse cx="814.9" cy="926.3" rx="8.1" ry="5.4" fill="rgb(171,0,0)" opacity="0.90"/><ellipse cx="721.1" cy="867.6" rx="7.9" ry="5.4" fill="rgb(157,0,0)" opacity="0.90"/><ellipse cx="815.6" cy="873.0" rx="7.6" ry="3.0" fill="rgb(169,0,0)" opacity="0.90"/><ellipse cx="1207.0" cy="861.1" rx="4.6" ry="5.1" fill="rgb(180,0,0)" opacity="0.90"/><ellipse cx="746.0" cy="860.1" rx="4.5" ry="4.0" fill="rgb(161,0,0)" opacity="0.90"/><ellipse cx="1438.7" cy="868.7" rx="6.7" ry="4.4" fill="rgb(167,0,0)" opacity="0.90"/><ellipse cx="960.5" cy="883.3" rx="6.2" ry="5.5" fill="rgb(160,0,0)" opacity="0.90"/><ellipse cx="1086.3" cy="865.8" rx="4.8" ry="5.5" fill="rgb(171,0,0)" opacity="0.90"/><ellipse cx="1457.2" cy="874.3" rx="7.7" ry="2.7" fill="rgb(181,0,0)" opacity="0.90"/><ellipse cx="844.9" cy="863.2" rx="3.4" ry="3.3" fill="rgb(174,0,0)" opacity="0.90"/><ellipse cx="918.9" cy="881.4" rx="3.8" ry="4.0" fill="rgb(176,0,0)" opacity="0.90"/><ellipse cx="1118.3" cy="865.8" rx="3.6" ry="5.5" fill="rgb(157,0,0)" opacity="0.90"/><ellipse cx="1328.0" cy="875.3" rx="3.5" ry="4.3" fill="rgb(179,0,0)" opacity="0.90"/><ellipse cx="1227.5" cy="865.5" rx="5.5" ry="3.5" fill="rgb(171,0,0)" opacity="0.90"/><ellipse cx="974.8" cy="878.9" rx="4.2" ry="2.7" fill="rgb(178,0,0)" opacity="0.90"/><ellipse cx="876.2" cy="870.2" rx="6.8" ry="5.4" fill="rgb(169,0,0)" opacity="0.90"/><ellipse cx="858.4" cy="871.3" rx="4.0" ry="4.9" fill="rgb(159,0,0)" opacity="0.90"/><ellipse cx="1206.2" cy="868.4" rx="7.5" ry="3.0" fill="rgb(166,0,0)" opacity="0.90"/><ellipse cx="760.6" cy="872.6" rx="7.9" ry="3.4" fill="rgb(175,0,0)" opacity="0.90"/><ellipse cx="1204.2" cy="882.6" rx="4.0" ry="4.5" fill="rgb(172,0,0)" opacity="0.90"/><ellipse cx="923.6" cy="861.4" rx="7.9" ry="2.7" fill="rgb(172,0,0)" opacity="0.90"/><ellipse cx="1375.7" cy="882.2" rx="4.4" ry="3.9" fill="rgb(165,0,0)" opacity="0.90"/><ellipse cx="1363.3" cy="880.2" rx="4.2" ry="3.1" fill="rgb(165,0,0)" opacity="0.90"/><ellipse cx="750.2" cy="880.7" rx="3.1" ry="5.1" fill="rgb(180,0,0)" opacity="0.90"/><ellipse cx="1089.4" cy="871.1" rx="7.5" ry="4.0" fill="rgb(167,0,0)" opacity="0.90"/><ellipse cx="713.7" cy="861.6" rx="4.4" ry="4.7" fill="rgb(160,0,0)" opacity="0.90"/><ellipse cx="762.5" cy="873.2" rx="4.5" ry="3.7" fill="rgb(166,0,0)" opacity="0.90"/><ellipse cx="845.3" cy="881.5" rx="3.7" ry="4.1" fill="rgb(173,0,0)" opacity="0.90"/><ellipse cx="796.5" cy="874.5" rx="7.2" ry="4.1" fill="rgb(158,0,0)" opacity="0.90"/><ellipse cx="1225.5" cy="860.4" rx="4.2" ry="5.7" fill="rgb(172,0,0)" opacity="0.90"/><ellipse cx="836.6" cy="864.6" rx="7.3" ry="5.0" fill="rgb(161,0,0)" opacity="0.90"/><ellipse cx="1370.0" cy="875.7" rx="7.3" ry="3.9" fill="rgb(160,0,0)" opacity="0.90"/><ellipse cx="1089.2" cy="881.8" rx="7.5" ry="5.4" fill="rgb(175,0,0)" opacity="0.90"/><ellipse cx="1274.8" cy="874.4" rx="5.3" ry="5.5" fill="rgb(166,0,0)" opacity="0.90"/><ellipse cx="1345.7" cy="860.2" rx="4.1" ry="4.4" fill="rgb(178,0,0)" opacity="0.90"/><ellipse cx="1241.9" cy="882.0" rx="6.0" ry="2.5" fill="rgb(171,0,0)" opacity="0.90"/><ellipse cx="1278.3" cy="871.8" rx="6.9" ry="3.2" fill="rgb(162,0,0)" opacity="0.90"/><ellipse cx="680.4" cy="876.0" rx="5.7" ry="2.9" fill="rgb(169,0,0)" opacity="0.90"/><ellipse cx="1008.8" cy="878.6" rx="7.6" ry="3.8" fill="rgb(176,0,0)" opacity="0.90"/><ellipse cx="1068.2" cy="880.3" rx="4.7" ry="3.2" fill="rgb(165,0,0)" opacity="0.90"/><ellipse cx="1399.4" cy="883.9" rx="4.8" ry="3.1" fill="rgb(175,0,0)" opacity="0.90"/><ellipse cx="1170.6" cy="865.4" rx="6.5" ry="5.8" fill="rgb(174,0,0)" opacity="0.90"/><ellipse cx="895.4" cy="868.7" rx="7.4" ry="4.4" fill="rgb(180,0,0)" opacity="0.90"/><ellipse cx="1315.7" cy="864.9" rx="6.2" ry="2.8" fill="rgb(174,0,0)" opacity="0.90"/><ellipse cx="1303.6" cy="867.6" rx="7.2" ry="5.0" fill="rgb(179,0,0)" opacity="0.90"/><ellipse cx="1106.5" cy="883.0" rx="3.6" ry="5.7" fill="rgb(161,0,0)" opacity="0.90"/><ellipse cx="944.9" cy="860.5" rx="3.3" ry="4.0" fill="rgb(181,0,0)" opacity="0.90"/><ellipse cx="747.8" cy="871.7" rx="5.7" ry="3.9" fill="rgb(173,0,0)" opacity="0.90"/><ellipse cx="1120.7" cy="875.7" rx="6.9" ry="5.1" fill="rgb(159,0,0)" opacity="0.90"/><ellipse cx="672.8" cy="864.0" rx="4.1" ry="4.5" fill="rgb(172,0,0)" opacity="0.90"/><ellipse cx="956.3" cy="873.9" rx="5.8" ry="3.0" fill="rgb(158,0,0)" opacity="0.90"/><ellipse cx="1133.6" cy="877.1" rx="3.7" ry="2.5" fill="rgb(163,0,0)" opacity="0.90"/><ellipse cx="788.9" cy="871.3" rx="3.5" ry="5.7" fill="rgb(176,0,0)" opacity="0.90"/><ellipse cx="1295.8" cy="862.3" rx="4.0" ry="3.8" fill="rgb(173,0,0)" opacity="0.90"/><ellipse cx="1205.2" cy="869.7" rx="5.5" ry="3.2" fill="rgb(169,0,0)" opacity="0.90"/><ellipse cx="937.4" cy="860.3" rx="5.5" ry="2.8" fill="rgb(177,0,0)" opacity="0.90"/><ellipse cx="724.4" cy="860.3" rx="5.3" ry="3.8" fill="rgb(179,0,0)" opacity="0.90"/><ellipse cx="924.8" cy="875.2" rx="3.1" ry="3.5" fill="rgb(171,0,0)" opacity="0.90"/><ellipse cx="753.2" cy="875.7" rx="4.3" ry="3.9" fill="rgb(167,0,0)" opacity="0.90"/><ellipse cx="817.8" cy="882.4" rx="6.8" ry="4.6" fill="rgb(178,0,0)" opacity="0.90"/><ellipse cx="952.1" cy="880.9" rx="5.7" ry="3.7" fill="rgb(159,0,0)" opacity="0.90"/><ellipse cx="916.0" cy="863.8" rx="5.3" ry="4.1" fill="rgb(175,0,0)" opacity="0.90"/><ellipse cx="1320.1" cy="877.9" rx="7.1" ry="5.6" fill="rgb(180,0,0)" opacity="0.90"/><ellipse cx="1473.9" cy="872.8" rx="3.6" ry="5.5" fill="rgb(162,0,0)" opacity="0.90"/><ellipse cx="683.6" cy="868.2" rx="3.6" ry="5.4" fill="rgb(169,0,0)" opacity="0.90"/><ellipse cx="894.7" cy="874.9" rx="6.6" ry="5.7" fill="rgb(164,0,0)" opacity="0.90"/><ellipse cx="1126.8" cy="881.0" rx="4.2" ry="4.0" fill="rgb(168,0,0)" opacity="0.90"/><ellipse cx="1386.0" cy="881.2" rx="4.0" ry="2.9" fill="rgb(169,0,0)" opacity="0.90"/><ellipse cx="1072.6" cy="861.0" rx="5.1" ry="5.3" fill="rgb(161,0,0)" opacity="0.90"/><ellipse cx="1147.0" cy="880.0" rx="7.2" ry="5.3" fill="rgb(167,0,0)" opacity="0.90"/><ellipse cx="957.4" cy="868.8" rx="4.1" ry="4.5" fill="rgb(165,0,0)" opacity="0.90"/></g><g filter="url(#blurS)" fill="#000"><rect x="99.5" y="861.0" width="50.5" height="6.8"/><rect x="235.0" y="859.0" width="235.0" height="13.5"/><rect x="470.0" y="859.0" width="70.0" height="7.0"/><rect x="490.0" y="858.0" width="107.0" height="14.5"/><rect x="150.0" y="861.0" width="85.0" height="3.5"/><rect x="99.5" y="884.0" width="140.5" height="11.5"/><rect x="252.0" y="884.0" width="573.0" height="12.5"/><rect x="419.0" y="884.0" width="141.0" height="15.0"/><rect x="702.0" y="872.0" width="14.0" height="12.0"/><rect x="783.0" y="857.0" width="9.0" height="14.0"/><rect x="828.0" y="857.0" width="23.0" height="31.0"/><rect x="879.0" y="862.0" width="17.0" height="9.0"/><rect x="918.0" y="859.0" width="22.0" height="25.0"/><rect x="943.0" y="868.0" width="22.0" height="10.0"/><rect x="1010.0" y="870.0" width="22.0" height="14.0"/><rect x="1083.0" y="864.0" width="7.0" height="8.0"/><rect x="1093.0" y="874.0" width="13.0" height="10.0"/><rect x="1150.0" y="874.0" width="50.0" height="7.0"/><rect x="1135.0" y="857.0" width="7.0" height="14.0"/><rect x="1220.0" y="862.0" width="76.0" height="10.0"/><rect x="1242.0" y="873.0" width="25.0" height="11.0"/><rect x="1365.0" y="874.0" width="20.0" height="10.0"/><rect x="1419.0" y="874.0" width="20.0" height="10.0"/><rect x="1262.0" y="848.0" width="8.0" height="10.0"/><rect x="1500.0" y="872.5" width="279.9" height="11.5"/><rect x="1585.0" y="894.5" width="194.9" height="10.1"/><rect x="1330.0" y="947.5" width="449.9" height="12.5"/><rect x="1330.0" y="966.0" width="449.9" height="3.0"/><rect x="1330.0" y="969.0" width="170.0" height="8.0"/><rect x="1600.0" y="968.5" width="12.0" height="8.5"/><rect x="1660.0" y="968.5" width="50.0" height="8.5"/><rect x="1610.0" y="862.0" width="8.0" height="8.0"/><rect x="940.0" y="904.6" width="108.0" height="10.4"/><rect x="1071.0" y="904.6" width="17.0" height="10.4"/><rect x="733.0" y="906.0" width="92.0" height="5.0"/><rect x="157.0" y="903.0" width="37.0" height="12.0"/><rect x="125.0" y="904.0" width="9.0" height="24.0"/><rect x="218.0" y="896.0" width="12.0" height="32.0"/><rect x="302.0" y="904.0" width="17.0" height="31.0"/><rect x="277.0" y="943.0" width="25.0" height="15.0"/><rect x="252.0" y="940.0" width="17.0" height="29.0"/><rect x="365.0" y="904.0" width="12.0" height="56.0"/><rect x="419.0" y="901.0" width="25.0" height="46.0"/><rect x="452.5" y="908.0" width="6.5" height="37.0"/><rect x="402.0" y="905.0" width="7.0" height="23.0"/><rect x="479.5" y="901.0" width="8.0" height="39.0"/><rect x="491.0" y="905.0" width="7.0" height="30.0"/><rect x="501.0" y="908.0" width="5.5" height="32.0"/><rect x="677.0" y="904.6" width="20.0" height="42.1"/><rect x="825.0" y="904.6" width="115.0" height="42.1"/><rect x="974.0" y="904.6" width="38.5" height="42.1"/><rect x="1034.0" y="905.0" width="16.0" height="25.0"/><rect x="1117.0" y="915.0" width="18.0" height="30.0"/><rect x="1160.0" y="905.0" width="12.0" height="35.0"/><rect x="1220.0" y="904.6" width="22.0" height="35.4"/><rect x="1257.0" y="904.6" width="13.6" height="43.4"/><rect x="1274.0" y="916.0" width="13.5" height="22.0"/><rect x="845.0" y="958.5" width="485.0" height="6.0"/><rect x="560.0" y="912.0" width="12.0" height="28.0"/><rect x="600.0" y="905.0" width="12.0" height="40.0"/><rect x="640.0" y="915.0" width="12.0" height="35.0"/><rect x="745.0" y="915.0" width="12.0" height="30.0"/><rect x="795.0" y="925.0" width="17.0" height="22.0"/></g><g filter="url(#blur1)"><rect x="1517.0" y="873.0" width="68.0" height="7.0" fill="rgb(141,0,0)" opacity="0.90"/><rect x="857.0" y="958.5" width="3.5" height="6.0" fill="rgb(144,0,0)"/><rect x="866.0" y="958.5" width="4.7" height="6.0" fill="rgb(144,0,0)"/><rect x="875.0" y="958.5" width="4.4" height="6.0" fill="rgb(144,0,0)"/><rect x="884.0" y="958.5" width="4.7" height="6.0" fill="rgb(144,0,0)"/><rect x="920.0" y="958.5" width="4.3" height="6.0" fill="rgb(144,0,0)"/><rect x="938.0" y="958.5" width="2.6" height="6.0" fill="rgb(144,0,0)"/><rect x="947.0" y="958.5" width="3.3" height="6.0" fill="rgb(144,0,0)"/><rect x="974.0" y="958.5" width="2.6" height="6.0" fill="rgb(144,0,0)"/><rect x="983.0" y="958.5" width="2.1" height="6.0" fill="rgb(144,0,0)"/><rect x="1001.0" y="958.5" width="3.7" height="6.0" fill="rgb(144,0,0)"/><rect x="1028.0" y="958.5" width="4.0" height="6.0" fill="rgb(144,0,0)"/><rect x="1037.0" y="958.5" width="4.2" height="6.0" fill="rgb(144,0,0)"/><rect x="1064.0" y="958.5" width="2.9" height="6.0" fill="rgb(144,0,0)"/><rect x="1073.0" y="958.5" width="2.6" height="6.0" fill="rgb(144,0,0)"/><rect x="1082.0" y="958.5" width="2.2" height="6.0" fill="rgb(144,0,0)"/><rect x="1109.0" y="958.5" width="2.9" height="6.0" fill="rgb(144,0,0)"/><rect x="1118.0" y="958.5" width="2.6" height="6.0" fill="rgb(144,0,0)"/><rect x="1136.0" y="958.5" width="4.4" height="6.0" fill="rgb(144,0,0)"/><rect x="1163.0" y="958.5" width="3.1" height="6.0" fill="rgb(144,0,0)"/><rect x="1172.0" y="958.5" width="2.0" height="6.0" fill="rgb(144,0,0)"/><rect x="1181.0" y="958.5" width="4.0" height="6.0" fill="rgb(144,0,0)"/><rect x="1190.0" y="958.5" width="4.4" height="6.0" fill="rgb(144,0,0)"/><rect x="1199.0" y="958.5" width="3.2" height="6.0" fill="rgb(144,0,0)"/><rect x="1226.0" y="958.5" width="4.7" height="6.0" fill="rgb(144,0,0)"/><rect x="1253.0" y="958.5" width="3.7" height="6.0" fill="rgb(144,0,0)"/><rect x="1298.0" y="958.5" width="4.0" height="6.0" fill="rgb(144,0,0)"/><rect x="1332.0" y="960.3" width="4.3" height="5.4" fill="rgb(165,0,0)"/><rect x="1339.0" y="960.3" width="4.9" height="5.4" fill="rgb(158,0,0)"/><rect x="1346.0" y="960.3" width="3.0" height="5.4" fill="rgb(154,0,0)"/><rect x="1353.0" y="960.3" width="4.0" height="5.4" fill="rgb(165,0,0)"/><rect x="1360.0" y="960.3" width="2.6" height="5.4" fill="rgb(152,0,0)"/><rect x="1367.0" y="960.3" width="3.6" height="5.4" fill="rgb(170,0,0)"/><rect x="1395.0" y="960.3" width="4.9" height="5.4" fill="rgb(162,0,0)"/><rect x="1402.0" y="960.3" width="2.4" height="5.4" fill="rgb(154,0,0)"/><rect x="1416.0" y="960.3" width="2.8" height="5.4" fill="rgb(158,0,0)"/><rect x="1437.0" y="960.3" width="2.3" height="5.4" fill="rgb(167,0,0)"/><rect x="1444.0" y="960.3" width="3.8" height="5.4" fill="rgb(159,0,0)"/><rect x="1458.0" y="960.3" width="2.2" height="5.4" fill="rgb(152,0,0)"/><rect x="1465.0" y="960.3" width="3.5" height="5.4" fill="rgb(159,0,0)"/><rect x="1472.0" y="960.3" width="4.0" height="5.4" fill="rgb(168,0,0)"/><rect x="1479.0" y="960.3" width="2.1" height="5.4" fill="rgb(152,0,0)"/><rect x="1486.0" y="960.3" width="3.0" height="5.4" fill="rgb(152,0,0)"/><rect x="1493.0" y="960.3" width="3.4" height="5.4" fill="rgb(155,0,0)"/><rect x="1507.0" y="960.3" width="3.4" height="5.4" fill="rgb(153,0,0)"/><rect x="1514.0" y="960.3" width="2.9" height="5.4" fill="rgb(165,0,0)"/><rect x="1535.0" y="960.3" width="4.8" height="5.4" fill="rgb(161,0,0)"/><rect x="1542.0" y="960.3" width="2.1" height="5.4" fill="rgb(150,0,0)"/><rect x="1556.0" y="960.3" width="2.2" height="5.4" fill="rgb(167,0,0)"/><rect x="1570.0" y="960.3" width="3.0" height="5.4" fill="rgb(156,0,0)"/><rect x="1577.0" y="960.3" width="3.0" height="5.4" fill="rgb(159,0,0)"/><rect x="1584.0" y="960.3" width="2.8" height="5.4" fill="rgb(164,0,0)"/><rect x="1591.0" y="960.3" width="2.9" height="5.4" fill="rgb(163,0,0)"/><rect x="1605.0" y="960.3" width="2.6" height="5.4" fill="rgb(170,0,0)"/><rect x="1612.0" y="960.3" width="2.5" height="5.4" fill="rgb(153,0,0)"/><rect x="1619.0" y="960.3" width="4.4" height="5.4" fill="rgb(164,0,0)"/><rect x="1626.0" y="960.3" width="2.9" height="5.4" fill="rgb(166,0,0)"/><rect x="1633.0" y="960.3" width="3.5" height="5.4" fill="rgb(153,0,0)"/><rect x="1647.0" y="960.3" width="4.3" height="5.4" fill="rgb(157,0,0)"/><rect x="1654.0" y="960.3" width="3.4" height="5.4" fill="rgb(161,0,0)"/><rect x="1661.0" y="960.3" width="4.1" height="5.4" fill="rgb(159,0,0)"/><rect x="1668.0" y="960.3" width="2.0" height="5.4" fill="rgb(163,0,0)"/><rect x="1675.0" y="960.3" width="3.9" height="5.4" fill="rgb(167,0,0)"/><rect x="1682.0" y="960.3" width="4.6" height="5.4" fill="rgb(156,0,0)"/><rect x="1696.0" y="960.3" width="3.6" height="5.4" fill="rgb(158,0,0)"/><rect x="1710.0" y="960.3" width="4.8" height="5.4" fill="rgb(170,0,0)"/><rect x="1717.0" y="960.3" width="2.8" height="5.4" fill="rgb(153,0,0)"/><rect x="1724.0" y="960.3" width="3.6" height="5.4" fill="rgb(166,0,0)"/><rect x="1731.0" y="960.3" width="4.4" height="5.4" fill="rgb(164,0,0)"/><rect x="1738.0" y="960.3" width="3.0" height="5.4" fill="rgb(163,0,0)"/><rect x="1745.0" y="960.3" width="4.5" height="5.4" fill="rgb(167,0,0)"/><rect x="1759.0" y="960.3" width="3.6" height="5.4" fill="rgb(163,0,0)"/><rect x="851.0" y="921.0" width="2.5" height="17.7" fill="rgb(156,0,0)"/><rect x="893.0" y="923.1" width="2.5" height="8.0" fill="rgb(164,0,0)"/><rect x="897.0" y="918.5" width="2.5" height="18.2" fill="rgb(169,0,0)"/><rect x="903.0" y="916.0" width="2.5" height="15.2" fill="rgb(169,0,0)"/><rect x="908.0" y="911.7" width="2.5" height="26.2" fill="rgb(158,0,0)"/><rect x="913.0" y="914.9" width="2.5" height="21.0" fill="rgb(154,0,0)"/><rect x="923.0" y="913.6" width="2.5" height="18.3" fill="rgb(157,0,0)"/><rect x="931.0" y="913.6" width="2.5" height="29.7" fill="rgb(167,0,0)"/></g><g filter="url(#blur1)"><g filter="url(#blurS)"><ellipse cx="230.1" cy="896.3" rx="5.9" ry="2.8" fill="rgb(0,105,0)" opacity="0.90"/><ellipse cx="229.0" cy="859.9" rx="3.5" ry="3.9" fill="rgb(0,98,0)" opacity="0.90"/><ellipse cx="1025.6" cy="888.2" rx="2.3" ry="2.5" fill="rgb(0,109,0)" opacity="0.90"/><ellipse cx="132.7" cy="895.9" rx="3.4" ry="2.7" fill="rgb(0,112,0)" opacity="0.90"/><ellipse cx="882.8" cy="866.0" rx="5.2" ry="2.5" fill="rgb(0,101,0)" opacity="0.90"/><ellipse cx="168.0" cy="896.8" rx="2.8" ry="3.6" fill="rgb(0,92,0)" opacity="0.90"/><ellipse cx="361.3" cy="886.3" rx="5.2" ry="3.8" fill="rgb(0,113,0)" opacity="0.90"/><ellipse cx="1038.5" cy="884.1" rx="6.8" ry="2.8" fill="rgb(0,109,0)" opacity="0.90"/><ellipse cx="822.2" cy="871.2" rx="5.9" ry="2.7" fill="rgb(0,116,0)" opacity="0.90"/><ellipse cx="358.3" cy="891.5" rx="6.2" ry="3.7" fill="rgb(0,103,0)" opacity="0.90"/><ellipse cx="381.0" cy="864.5" rx="2.2" ry="1.8" fill="rgb(0,99,0)" opacity="0.90"/><ellipse cx="617.4" cy="863.3" rx="5.1" ry="3.7" fill="rgb(0,95,0)" opacity="0.90"/><ellipse cx="785.9" cy="890.0" rx="4.7" ry="2.2" fill="rgb(0,103,0)" opacity="0.90"/><ellipse cx="118.4" cy="862.0" rx="4.2" ry="3.8" fill="rgb(0,115,0)" opacity="0.90"/><ellipse cx="1249.1" cy="870.1" rx="6.2" ry="3.5" fill="rgb(0,105,0)" opacity="0.90"/><ellipse cx="586.5" cy="866.6" rx="2.1" ry="2.6" fill="rgb(0,109,0)" opacity="0.90"/><ellipse cx="527.1" cy="872.6" rx="2.6" ry="1.7" fill="rgb(0,103,0)" opacity="0.90"/><ellipse cx="461.1" cy="864.9" rx="2.8" ry="4.0" fill="rgb(0,110,0)" opacity="0.90"/><ellipse cx="657.4" cy="895.6" rx="3.0" ry="2.0" fill="rgb(0,114,0)" opacity="0.90"/><ellipse cx="641.5" cy="895.4" rx="6.7" ry="3.7" fill="rgb(0,104,0)" opacity="0.90"/><ellipse cx="223.0" cy="884.7" rx="4.8" ry="3.6" fill="rgb(0,110,0)" opacity="0.90"/><ellipse cx="1276.0" cy="885.9" rx="3.2" ry="3.0" fill="rgb(0,93,0)" opacity="0.90"/><ellipse cx="1126.7" cy="895.9" rx="3.5" ry="2.2" fill="rgb(0,106,0)" opacity="0.90"/><ellipse cx="653.9" cy="890.2" rx="6.7" ry="3.7" fill="rgb(0,101,0)" opacity="0.90"/><ellipse cx="769.3" cy="871.2" rx="2.4" ry="1.9" fill="rgb(0,92,0)" opacity="0.90"/><ellipse cx="1267.2" cy="884.7" rx="4.4" ry="3.0" fill="rgb(0,104,0)" opacity="0.90"/><ellipse cx="1073.5" cy="893.5" rx="3.7" ry="3.3" fill="rgb(0,114,0)" opacity="0.90"/><ellipse cx="1158.9" cy="889.0" rx="3.2" ry="2.6" fill="rgb(0,103,0)" opacity="0.90"/><ellipse cx="674.0" cy="887.9" rx="2.7" ry="3.3" fill="rgb(0,114,0)" opacity="0.90"/><ellipse cx="191.9" cy="896.1" rx="3.9" ry="3.6" fill="rgb(0,96,0)" opacity="0.90"/><ellipse cx="1362.5" cy="858.5" rx="3.8" ry="4.0" fill="rgb(0,113,0)" opacity="0.90"/><ellipse cx="1283.1" cy="886.9" rx="6.3" ry="2.6" fill="rgb(0,113,0)" opacity="0.90"/><ellipse cx="943.0" cy="858.1" rx="3.9" ry="3.5" fill="rgb(0,98,0)" opacity="0.90"/><ellipse cx="1003.6" cy="867.6" rx="2.6" ry="1.9" fill="rgb(0,107,0)" opacity="0.90"/><ellipse cx="1118.1" cy="858.3" rx="4.4" ry="2.2" fill="rgb(0,99,0)" opacity="0.90"/><ellipse cx="703.7" cy="890.7" rx="6.7" ry="2.4" fill="rgb(0,96,0)" opacity="0.90"/><ellipse cx="552.6" cy="893.0" rx="2.5" ry="3.4" fill="rgb(0,107,0)" opacity="0.90"/><ellipse cx="1080.4" cy="886.6" rx="5.1" ry="3.9" fill="rgb(0,108,0)" opacity="0.90"/><ellipse cx="343.4" cy="893.3" rx="3.9" ry="1.6" fill="rgb(0,110,0)" opacity="0.90"/><ellipse cx="977.2" cy="895.3" rx="4.2" ry="2.9" fill="rgb(0,95,0)" opacity="0.90"/><ellipse cx="1476.2" cy="891.1" rx="3.4" ry="1.6" fill="rgb(0,106,0)" opacity="0.90"/><ellipse cx="244.6" cy="895.8" rx="5.5" ry="2.4" fill="rgb(0,105,0)" opacity="0.90"/><ellipse cx="877.0" cy="892.8" rx="3.6" ry="1.5" fill="rgb(0,110,0)" opacity="0.90"/><ellipse cx="713.2" cy="864.4" rx="3.6" ry="1.9" fill="rgb(0,114,0)" opacity="0.90"/><ellipse cx="184.9" cy="884.5" rx="3.7" ry="3.9" fill="rgb(0,111,0)" opacity="0.90"/><ellipse cx="792.9" cy="865.1" rx="5.3" ry="3.3" fill="rgb(0,102,0)" opacity="0.90"/><ellipse cx="716.0" cy="894.9" rx="6.3" ry="3.9" fill="rgb(0,113,0)" opacity="0.90"/><ellipse cx="518.3" cy="885.6" rx="3.7" ry="2.0" fill="rgb(0,93,0)" opacity="0.90"/><ellipse cx="563.0" cy="868.7" rx="6.7" ry="1.8" fill="rgb(0,97,0)" opacity="0.90"/><ellipse cx="872.9" cy="891.6" rx="3.7" ry="2.5" fill="rgb(0,97,0)" opacity="0.90"/><ellipse cx="1183.8" cy="861.5" rx="3.3" ry="3.3" fill="rgb(0,115,0)" opacity="0.90"/><ellipse cx="1485.6" cy="891.0" rx="6.3" ry="2.0" fill="rgb(0,102,0)" opacity="0.90"/><ellipse cx="276.3" cy="891.5" rx="2.8" ry="3.6" fill="rgb(0,94,0)" opacity="0.90"/><ellipse cx="366.3" cy="894.7" rx="2.0" ry="3.6" fill="rgb(0,100,0)" opacity="0.90"/><ellipse cx="740.9" cy="867.5" rx="3.3" ry="1.9" fill="rgb(0,95,0)" opacity="0.90"/><ellipse cx="399.2" cy="870.6" rx="4.8" ry="2.7" fill="rgb(0,107,0)" opacity="0.90"/><ellipse cx="1079.1" cy="861.2" rx="4.5" ry="2.6" fill="rgb(0,114,0)" opacity="0.90"/><ellipse cx="299.9" cy="892.6" rx="2.6" ry="3.5" fill="rgb(0,114,0)" opacity="0.90"/><ellipse cx="1419.9" cy="860.7" rx="5.6" ry="3.0" fill="rgb(0,107,0)" opacity="0.90"/><ellipse cx="948.0" cy="896.8" rx="6.2" ry="3.0" fill="rgb(0,95,0)" opacity="0.90"/><ellipse cx="859.4" cy="864.1" rx="4.6" ry="2.2" fill="rgb(0,94,0)" opacity="0.90"/><ellipse cx="1313.0" cy="870.1" rx="6.2" ry="2.0" fill="rgb(0,108,0)" opacity="0.90"/><ellipse cx="183.1" cy="889.4" rx="6.0" ry="3.5" fill="rgb(0,104,0)" opacity="0.90"/><ellipse cx="450.7" cy="870.9" rx="4.6" ry="3.8" fill="rgb(0,92,0)" opacity="0.90"/><ellipse cx="1353.4" cy="886.6" rx="2.8" ry="3.8" fill="rgb(0,106,0)" opacity="0.90"/><ellipse cx="170.0" cy="858.0" rx="5.8" ry="3.1" fill="rgb(0,115,0)" opacity="0.90"/><ellipse cx="653.5" cy="860.3" rx="3.6" ry="1.6" fill="rgb(0,106,0)" opacity="0.90"/><ellipse cx="946.5" cy="887.8" rx="4.3" ry="2.1" fill="rgb(0,106,0)" opacity="0.90"/><ellipse cx="184.3" cy="892.8" rx="4.5" ry="4.0" fill="rgb(0,95,0)" opacity="0.90"/><ellipse cx="992.7" cy="859.4" rx="5.1" ry="3.6" fill="rgb(0,109,0)" opacity="0.90"/><ellipse cx="150.2" cy="872.8" rx="3.7" ry="1.9" fill="rgb(0,107,0)" opacity="0.90"/><ellipse cx="1070.6" cy="894.9" rx="2.1" ry="3.9" fill="rgb(0,100,0)" opacity="0.90"/><ellipse cx="961.7" cy="893.7" rx="2.5" ry="2.3" fill="rgb(0,113,0)" opacity="0.90"/><ellipse cx="556.0" cy="862.1" rx="5.1" ry="2.1" fill="rgb(0,115,0)" opacity="0.90"/><ellipse cx="416.9" cy="893.5" rx="3.2" ry="3.2" fill="rgb(0,111,0)" opacity="0.90"/><ellipse cx="1365.9" cy="864.6" rx="4.4" ry="3.5" fill="rgb(0,92,0)" opacity="0.90"/><ellipse cx="1238.1" cy="888.7" rx="7.0" ry="2.8" fill="rgb(0,99,0)" opacity="0.90"/><ellipse cx="376.7" cy="858.1" rx="4.6" ry="2.5" fill="rgb(0,97,0)" opacity="0.90"/><ellipse cx="1419.2" cy="892.5" rx="6.9" ry="3.9" fill="rgb(0,99,0)" opacity="0.90"/><ellipse cx="637.6" cy="896.9" rx="3.5" ry="1.7" fill="rgb(0,116,0)" opacity="0.90"/><ellipse cx="1176.7" cy="893.2" rx="5.1" ry="2.7" fill="rgb(0,114,0)" opacity="0.90"/><ellipse cx="445.0" cy="887.0" rx="5.1" ry="3.2" fill="rgb(0,113,0)" opacity="0.90"/><ellipse cx="747.6" cy="894.6" rx="2.3" ry="2.7" fill="rgb(0,115,0)" opacity="0.90"/><ellipse cx="1077.5" cy="894.0" rx="2.6" ry="1.9" fill="rgb(0,107,0)" opacity="0.90"/><ellipse cx="417.6" cy="858.3" rx="3.2" ry="3.9" fill="rgb(0,94,0)" opacity="0.90"/><ellipse cx="1170.9" cy="890.6" rx="3.8" ry="3.4" fill="rgb(0,103,0)" opacity="0.90"/><ellipse cx="848.2" cy="858.9" rx="3.1" ry="3.3" fill="rgb(0,104,0)" opacity="0.90"/><ellipse cx="935.5" cy="889.1" rx="4.6" ry="3.8" fill="rgb(0,98,0)" opacity="0.90"/><ellipse cx="324.0" cy="886.2" rx="6.6" ry="1.6" fill="rgb(0,109,0)" opacity="0.90"/><ellipse cx="600.9" cy="894.9" rx="5.9" ry="2.5" fill="rgb(0,112,0)" opacity="0.90"/><ellipse cx="1491.2" cy="865.9" rx="5.4" ry="1.9" fill="rgb(0,114,0)" opacity="0.90"/><ellipse cx="215.9" cy="863.4" rx="3.3" ry="3.9" fill="rgb(0,109,0)" opacity="0.90"/><ellipse cx="204.1" cy="866.2" rx="6.6" ry="1.8" fill="rgb(0,110,0)" opacity="0.90"/><ellipse cx="620.4" cy="867.6" rx="4.9" ry="2.6" fill="rgb(0,93,0)" opacity="0.90"/><ellipse cx="198.1" cy="867.1" rx="3.2" ry="3.7" fill="rgb(0,116,0)" opacity="0.90"/><ellipse cx="132.2" cy="865.1" rx="6.1" ry="2.2" fill="rgb(0,109,0)" opacity="0.90"/><ellipse cx="1094.4" cy="866.4" rx="2.2" ry="1.6" fill="rgb(0,117,0)" opacity="0.90"/><ellipse cx="327.4" cy="889.7" rx="3.1" ry="1.9" fill="rgb(0,98,0)" opacity="0.90"/><ellipse cx="734.1" cy="889.4" rx="5.1" ry="2.5" fill="rgb(0,94,0)" opacity="0.90"/><ellipse cx="1181.5" cy="886.1" rx="3.4" ry="3.3" fill="rgb(0,97,0)" opacity="0.90"/><ellipse cx="1294.7" cy="866.1" rx="4.3" ry="1.5" fill="rgb(0,104,0)" opacity="0.90"/><ellipse cx="1413.7" cy="859.0" rx="5.7" ry="3.8" fill="rgb(0,114,0)" opacity="0.90"/><ellipse cx="267.5" cy="871.4" rx="2.1" ry="2.3" fill="rgb(0,103,0)" opacity="0.90"/><ellipse cx="582.6" cy="893.8" rx="5.6" ry="3.8" fill="rgb(0,96,0)" opacity="0.90"/><ellipse cx="288.3" cy="865.4" rx="3.3" ry="2.9" fill="rgb(0,117,0)" opacity="0.90"/><ellipse cx="1035.7" cy="895.3" rx="4.7" ry="3.2" fill="rgb(0,115,0)" opacity="0.90"/><ellipse cx="607.4" cy="871.5" rx="3.7" ry="1.9" fill="rgb(0,107,0)" opacity="0.90"/><ellipse cx="460.8" cy="886.9" rx="5.4" ry="2.0" fill="rgb(0,100,0)" opacity="0.90"/><ellipse cx="1149.0" cy="887.8" rx="4.9" ry="3.0" fill="rgb(0,106,0)" opacity="0.90"/><ellipse cx="1028.0" cy="862.5" rx="6.6" ry="3.6" fill="rgb(0,99,0)" opacity="0.90"/><ellipse cx="1466.5" cy="872.3" rx="6.0" ry="3.9" fill="rgb(0,103,0)" opacity="0.90"/><ellipse cx="329.3" cy="896.3" rx="6.3" ry="3.2" fill="rgb(0,112,0)" opacity="0.90"/><ellipse cx="134.4" cy="896.4" rx="4.5" ry="3.6" fill="rgb(0,97,0)" opacity="0.90"/><ellipse cx="1489.8" cy="892.5" rx="4.6" ry="2.5" fill="rgb(0,107,0)" opacity="0.90"/><ellipse cx="914.8" cy="893.4" rx="6.3" ry="3.8" fill="rgb(0,92,0)" opacity="0.90"/><ellipse cx="609.1" cy="887.1" rx="3.0" ry="1.6" fill="rgb(0,96,0)" opacity="0.90"/><ellipse cx="975.4" cy="867.6" rx="6.9" ry="3.7" fill="rgb(0,99,0)" opacity="0.90"/><ellipse cx="756.7" cy="884.6" rx="3.9" ry="1.9" fill="rgb(0,111,0)" opacity="0.90"/><ellipse cx="968.0" cy="894.2" rx="2.8" ry="1.7" fill="rgb(0,97,0)" opacity="0.90"/><ellipse cx="651.8" cy="888.7" rx="5.5" ry="3.0" fill="rgb(0,105,0)" opacity="0.90"/><ellipse cx="1497.7" cy="865.5" rx="4.1" ry="1.6" fill="rgb(0,100,0)" opacity="0.90"/><ellipse cx="1210.4" cy="892.7" rx="6.3" ry="3.6" fill="rgb(0,108,0)" opacity="0.90"/><ellipse cx="1141.8" cy="869.6" rx="2.2" ry="3.9" fill="rgb(0,117,0)" opacity="0.90"/><ellipse cx="672.7" cy="895.1" rx="2.5" ry="3.6" fill="rgb(0,99,0)" opacity="0.90"/><ellipse cx="1098.7" cy="895.0" rx="5.9" ry="2.4" fill="rgb(0,103,0)" opacity="0.90"/><ellipse cx="1304.8" cy="895.2" rx="3.8" ry="1.7" fill="rgb(0,101,0)" opacity="0.90"/><ellipse cx="1425.6" cy="891.9" rx="3.2" ry="2.3" fill="rgb(0,102,0)" opacity="0.90"/><ellipse cx="269.8" cy="885.4" rx="6.1" ry="3.4" fill="rgb(0,107,0)" opacity="0.90"/><ellipse cx="853.7" cy="894.6" rx="5.6" ry="3.2" fill="rgb(0,94,0)" opacity="0.90"/><ellipse cx="830.9" cy="893.4" rx="3.8" ry="2.7" fill="rgb(0,95,0)" opacity="0.90"/><ellipse cx="1177.5" cy="858.3" rx="5.2" ry="3.8" fill="rgb(0,95,0)" opacity="0.90"/><ellipse cx="1484.6" cy="863.7" rx="5.6" ry="4.0" fill="rgb(0,94,0)" opacity="0.90"/><ellipse cx="886.7" cy="889.8" rx="4.0" ry="3.3" fill="rgb(0,108,0)" opacity="0.90"/><ellipse cx="877.3" cy="890.9" rx="4.2" ry="3.8" fill="rgb(0,106,0)" opacity="0.90"/><ellipse cx="862.8" cy="888.5" rx="6.3" ry="3.3" fill="rgb(0,115,0)" opacity="0.90"/><ellipse cx="308.6" cy="870.8" rx="4.6" ry="3.0" fill="rgb(0,109,0)" opacity="0.90"/><ellipse cx="337.9" cy="865.3" rx="3.8" ry="3.8" fill="rgb(0,103,0)" opacity="0.90"/><ellipse cx="818.3" cy="870.2" rx="2.4" ry="3.0" fill="rgb(0,110,0)" opacity="0.90"/><ellipse cx="1104.9" cy="858.6" rx="4.9" ry="3.9" fill="rgb(0,116,0)" opacity="0.90"/><ellipse cx="1132.5" cy="893.6" rx="3.3" ry="3.2" fill="rgb(0,96,0)" opacity="0.90"/><ellipse cx="939.0" cy="867.2" rx="5.9" ry="1.6" fill="rgb(0,92,0)" opacity="0.90"/><ellipse cx="295.7" cy="889.2" rx="5.1" ry="1.6" fill="rgb(0,96,0)" opacity="0.90"/><ellipse cx="331.4" cy="891.1" rx="5.5" ry="3.2" fill="rgb(0,100,0)" opacity="0.90"/><ellipse cx="763.2" cy="893.3" rx="5.1" ry="2.3" fill="rgb(0,106,0)" opacity="0.90"/><ellipse cx="920.3" cy="862.0" rx="6.6" ry="2.7" fill="rgb(0,99,0)" opacity="0.90"/><ellipse cx="718.4" cy="869.6" rx="6.9" ry="2.6" fill="rgb(0,107,0)" opacity="0.90"/><ellipse cx="891.6" cy="889.9" rx="6.7" ry="3.8" fill="rgb(0,113,0)" opacity="0.90"/><ellipse cx="312.0" cy="871.3" rx="6.7" ry="3.6" fill="rgb(0,110,0)" opacity="0.90"/><ellipse cx="1410.6" cy="864.3" rx="6.8" ry="2.3" fill="rgb(0,115,0)" opacity="0.90"/><ellipse cx="823.9" cy="866.1" rx="5.8" ry="3.7" fill="rgb(0,102,0)" opacity="0.90"/><ellipse cx="1596.1" cy="877.5" rx="4.3" ry="2.2" fill="rgb(0,112,0)" opacity="0.90"/><ellipse cx="1658.0" cy="896.7" rx="5.0" ry="3.3" fill="rgb(0,109,0)" opacity="0.90"/><ellipse cx="1647.7" cy="903.8" rx="5.5" ry="1.8" fill="rgb(0,96,0)" opacity="0.90"/><ellipse cx="1567.3" cy="895.9" rx="3.5" ry="2.8" fill="rgb(0,112,0)" opacity="0.90"/><ellipse cx="1763.0" cy="881.2" rx="2.6" ry="1.6" fill="rgb(0,100,0)" opacity="0.90"/><ellipse cx="1548.2" cy="899.9" rx="5.8" ry="2.3" fill="rgb(0,105,0)" opacity="0.90"/><ellipse cx="1547.0" cy="955.7" rx="6.0" ry="3.3" fill="rgb(0,96,0)" opacity="0.90"/><ellipse cx="1554.1" cy="958.4" rx="5.8" ry="1.9" fill="rgb(0,111,0)" opacity="0.90"/><ellipse cx="1730.8" cy="873.6" rx="4.1" ry="3.3" fill="rgb(0,93,0)" opacity="0.90"/><ellipse cx="1685.2" cy="956.0" rx="3.5" ry="2.3" fill="rgb(0,101,0)" opacity="0.90"/><ellipse cx="1603.6" cy="876.3" rx="4.5" ry="2.1" fill="rgb(0,110,0)" opacity="0.90"/><ellipse cx="1766.6" cy="875.1" rx="2.8" ry="2.6" fill="rgb(0,102,0)" opacity="0.90"/><ellipse cx="1632.1" cy="898.1" rx="4.7" ry="3.0" fill="rgb(0,102,0)" opacity="0.90"/><ellipse cx="1547.0" cy="901.2" rx="2.5" ry="1.8" fill="rgb(0,92,0)" opacity="0.90"/><ellipse cx="1586.9" cy="948.5" rx="3.4" ry="1.9" fill="rgb(0,112,0)" opacity="0.90"/><ellipse cx="1753.2" cy="901.2" rx="3.9" ry="3.4" fill="rgb(0,100,0)" opacity="0.90"/><ellipse cx="1770.7" cy="950.2" rx="3.6" ry="3.0" fill="rgb(0,110,0)" opacity="0.90"/><ellipse cx="1608.0" cy="950.5" rx="4.3" ry="2.7" fill="rgb(0,109,0)" opacity="0.90"/><ellipse cx="1630.3" cy="951.1" rx="3.4" ry="3.2" fill="rgb(0,112,0)" opacity="0.90"/><ellipse cx="1730.0" cy="903.8" rx="4.1" ry="3.2" fill="rgb(0,111,0)" opacity="0.90"/><ellipse cx="1541.3" cy="883.4" rx="3.6" ry="2.8" fill="rgb(0,93,0)" opacity="0.90"/><ellipse cx="1557.4" cy="875.0" rx="4.3" ry="2.6" fill="rgb(0,98,0)" opacity="0.90"/><ellipse cx="1581.4" cy="874.9" rx="4.2" ry="2.1" fill="rgb(0,112,0)" opacity="0.90"/><ellipse cx="1645.8" cy="902.6" rx="3.7" ry="2.2" fill="rgb(0,95,0)" opacity="0.90"/><ellipse cx="1737.4" cy="896.8" rx="2.2" ry="2.6" fill="rgb(0,108,0)" opacity="0.90"/><ellipse cx="1690.6" cy="958.2" rx="3.5" ry="1.8" fill="rgb(0,102,0)" opacity="0.90"/><ellipse cx="1607.9" cy="895.6" rx="5.4" ry="2.1" fill="rgb(0,96,0)" opacity="0.90"/><ellipse cx="1688.7" cy="880.0" rx="4.7" ry="2.9" fill="rgb(0,105,0)" opacity="0.90"/><ellipse cx="1749.5" cy="895.6" rx="4.3" ry="1.7" fill="rgb(0,104,0)" opacity="0.90"/><ellipse cx="1542.2" cy="873.4" rx="3.6" ry="2.5" fill="rgb(0,96,0)" opacity="0.90"/><ellipse cx="1590.6" cy="879.0" rx="3.0" ry="2.1" fill="rgb(0,110,0)" opacity="0.90"/><ellipse cx="1671.8" cy="901.5" rx="3.7" ry="2.0" fill="rgb(0,100,0)" opacity="0.90"/><ellipse cx="1604.8" cy="881.5" rx="2.2" ry="1.8" fill="rgb(0,94,0)" opacity="0.90"/><ellipse cx="1616.1" cy="874.4" rx="4.8" ry="2.1" fill="rgb(0,112,0)" opacity="0.90"/><ellipse cx="1626.3" cy="898.6" rx="3.8" ry="2.6" fill="rgb(0,104,0)" opacity="0.90"/><ellipse cx="1684.1" cy="896.6" rx="4.0" ry="1.8" fill="rgb(0,111,0)" opacity="0.90"/><ellipse cx="1700.3" cy="876.6" rx="5.5" ry="2.9" fill="rgb(0,108,0)" opacity="0.90"/><ellipse cx="1570.7" cy="953.9" rx="2.3" ry="1.8" fill="rgb(0,98,0)" opacity="0.90"/><ellipse cx="1508.0" cy="879.9" rx="2.9" ry="2.2" fill="rgb(0,109,0)" opacity="0.90"/><ellipse cx="1598.9" cy="955.5" rx="5.6" ry="3.1" fill="rgb(0,103,0)" opacity="0.90"/><ellipse cx="1686.8" cy="902.7" rx="4.3" ry="2.8" fill="rgb(0,110,0)" opacity="0.90"/><ellipse cx="1512.9" cy="903.4" rx="3.8" ry="2.0" fill="rgb(0,99,0)" opacity="0.90"/><ellipse cx="1667.8" cy="873.9" rx="3.3" ry="1.8" fill="rgb(0,110,0)" opacity="0.90"/><ellipse cx="1560.4" cy="903.1" rx="4.6" ry="2.7" fill="rgb(0,99,0)" opacity="0.90"/><ellipse cx="1736.4" cy="949.9" rx="3.1" ry="3.3" fill="rgb(0,114,0)" opacity="0.90"/><ellipse cx="1524.4" cy="881.6" rx="3.7" ry="3.0" fill="rgb(0,109,0)" opacity="0.90"/><ellipse cx="1562.2" cy="956.3" rx="3.4" ry="3.4" fill="rgb(0,110,0)" opacity="0.90"/><ellipse cx="1601.0" cy="948.8" rx="2.1" ry="3.2" fill="rgb(0,104,0)" opacity="0.90"/><ellipse cx="1720.7" cy="956.8" rx="5.5" ry="2.7" fill="rgb(0,110,0)" opacity="0.90"/><ellipse cx="1710.3" cy="881.0" rx="4.5" ry="1.6" fill="rgb(0,93,0)" opacity="0.90"/><ellipse cx="1646.4" cy="879.0" rx="4.8" ry="3.2" fill="rgb(0,93,0)" opacity="0.90"/><ellipse cx="1729.2" cy="952.8" rx="4.6" ry="2.3" fill="rgb(0,101,0)" opacity="0.90"/><ellipse cx="1506.8" cy="957.2" rx="2.7" ry="1.7" fill="rgb(0,105,0)" opacity="0.90"/><ellipse cx="1714.8" cy="898.9" rx="3.6" ry="2.2" fill="rgb(0,108,0)" opacity="0.90"/><ellipse cx="1643.9" cy="881.8" rx="3.6" ry="2.1" fill="rgb(0,96,0)" opacity="0.90"/><ellipse cx="1570.4" cy="953.6" rx="5.7" ry="1.7" fill="rgb(0,92,0)" opacity="0.90"/><ellipse cx="1696.9" cy="903.9" rx="3.0" ry="1.9" fill="rgb(0,96,0)" opacity="0.90"/><ellipse cx="1565.7" cy="898.0" rx="5.1" ry="3.3" fill="rgb(0,98,0)" opacity="0.90"/><ellipse cx="1654.5" cy="948.5" rx="2.5" ry="2.6" fill="rgb(0,109,0)" opacity="0.90"/><ellipse cx="1639.4" cy="901.1" rx="2.7" ry="1.8" fill="rgb(0,111,0)" opacity="0.90"/></g><rect x="99.5" y="846.0" width="840.5" height="13.5" fill="rgb(0,91,0)" opacity="0.90"/><g filter="url(#blur2)"><rect x="102.0" y="863.5" width="144.0" height="12.2" fill="rgb(0,144,0)" opacity="0.85"/></g><rect x="106.0" y="867.0" width="136.0" height="5.2" fill="rgb(0,164,0)"/><rect x="147.0" y="867.3" width="88.0" height="4.7" fill="rgb(0,181,0)"/><rect x="155.0" y="867.6" width="41.0" height="4.2" fill="rgb(0,199,0)"/><rect x="200.0" y="867.8" width="32.0" height="3.8" fill="rgb(0,190,0)"/><rect x="170.5" y="892.6" width="16.0" height="4.8" fill="rgb(0,238,0)"/><rect x="176.0" y="893.0" width="3.0" height="4.0" fill="rgb(0,247,0)"/><g filter="url(#blur2)"><ellipse cx="128.0" cy="934.0" rx="42.0" ry="11.0" fill="rgb(0,149,0)" opacity="0.85"/></g><g filter="url(#blur2)"><rect x="99.0" y="934.1" width="65.0" height="13.8" fill="rgb(0,154,0)" opacity="0.85"/></g><rect x="103.0" y="937.6" width="57.0" height="6.8" fill="rgb(0,188,0)"/><rect x="104.0" y="938.0" width="8.0" height="7.0" fill="rgb(0,203,0)"/><rect x="114.0" y="937.0" width="12.0" height="8.5" fill="rgb(0,209,0)"/><rect x="134.0" y="938.5" width="24.0" height="6.5" fill="rgb(0,201,0)"/><rect x="238.0" y="876.0" width="10.0" height="5.5" fill="rgb(0,180,0)"/><rect x="269.0" y="876.0" width="8.0" height="5.5" fill="rgb(0,188,0)"/><rect x="294.0" y="876.0" width="5.0" height="5.5" fill="rgb(0,169,0)"/><rect x="317.0" y="876.0" width="9.0" height="5.5" fill="rgb(0,183,0)"/><rect x="461.0" y="876.0" width="44.0" height="5.5" fill="rgb(0,170,0)"/><rect x="468.0" y="876.0" width="6.0" height="5.5" fill="rgb(0,198,0)"/><rect x="484.0" y="876.0" width="8.0" height="5.5" fill="rgb(0,186,0)"/><rect x="638.0" y="876.0" width="12.0" height="5.5" fill="rgb(0,186,0)"/><rect x="643.0" y="852.0" width="3.5" height="5.5" fill="rgb(0,196,0)"/><rect x="238.0" y="907.0" width="14.0" height="4.8" fill="rgb(0,178,0)"/><rect x="282.0" y="907.0" width="17.0" height="4.8" fill="rgb(0,175,0)"/><rect x="319.0" y="907.0" width="31.0" height="4.8" fill="rgb(0,173,0)"/><rect x="343.0" y="907.0" width="4.0" height="4.8" fill="rgb(0,192,0)"/><rect x="516.6" y="907.0" width="35.4" height="4.8" fill="rgb(0,186,0)"/><rect x="516.6" y="907.0" width="5.4" height="4.8" fill="rgb(0,161,0)"/><rect x="559.0" y="907.0" width="28.0" height="4.8" fill="rgb(0,175,0)"/><rect x="575.0" y="907.0" width="5.0" height="4.8" fill="rgb(0,196,0)"/><rect x="1242.0" y="907.0" width="8.0" height="4.8" fill="rgb(0,192,0)"/><rect x="1287.5" y="907.0" width="6.5" height="4.8" fill="rgb(0,194,0)"/><rect x="516.6" y="911.0" width="5.4" height="14.0" fill="rgb(0,159,0)"/><g filter="url(#blur2)"><rect x="1349.0" y="904.5" width="69.0" height="15.0" fill="rgb(0,141,0)" opacity="0.85"/></g><rect x="1353.0" y="908.0" width="61.0" height="8.0" fill="rgb(0,170,0)"/><rect x="1353.0" y="908.0" width="49.0" height="8.4" fill="rgb(0,194,0)"/><rect x="1378.0" y="908.5" width="20.0" height="7.5" fill="rgb(0,211,0)"/><g filter="url(#blur2)"><rect x="1562.0" y="903.7" width="221.9" height="14.6" fill="rgb(0,141,0)" opacity="0.85"/></g><rect x="1566.0" y="907.2" width="213.9" height="7.6" fill="rgb(0,175,0)"/><rect x="1601.0" y="907.3" width="64.0" height="7.4" fill="rgb(0,205,0)"/><rect x="1665.0" y="907.3" width="80.0" height="7.4" fill="rgb(0,194,0)"/><rect x="1763.0" y="907.3" width="16.9" height="7.4" fill="rgb(0,173,0)"/><g filter="url(#blur2)"><rect x="823.0" y="883.4" width="681.0" height="13.8" fill="rgb(0,144,0)" opacity="0.85"/></g><rect x="827.0" y="886.9" width="673.0" height="6.8" fill="rgb(0,168,0)"/><rect x="829.0" y="887.6" width="5.0" height="5.6" fill="rgb(0,188,0)"/><rect x="846.0" y="887.6" width="5.0" height="5.6" fill="rgb(0,192,0)"/><rect x="862.0" y="887.6" width="10.0" height="5.6" fill="rgb(0,198,0)"/><rect x="880.0" y="887.6" width="7.0" height="5.6" fill="rgb(0,207,0)"/><rect x="891.0" y="887.6" width="5.0" height="5.6" fill="rgb(0,196,0)"/><rect x="903.0" y="887.6" width="7.0" height="5.6" fill="rgb(0,192,0)"/><rect x="926.0" y="887.6" width="12.0" height="5.6" fill="rgb(0,199,0)"/><rect x="965.0" y="887.6" width="25.0" height="5.6" fill="rgb(0,192,0)"/><rect x="995.0" y="887.6" width="33.0" height="5.6" fill="rgb(0,196,0)"/><rect x="1031.0" y="887.6" width="54.0" height="5.6" fill="rgb(0,220,0)"/><rect x="1050.0" y="887.6" width="20.0" height="5.6" fill="rgb(0,230,0)"/><rect x="1092.0" y="887.6" width="13.0" height="5.6" fill="rgb(0,225,0)"/><rect x="1109.0" y="887.6" width="5.0" height="5.6" fill="rgb(0,214,0)"/><rect x="1118.0" y="887.6" width="4.0" height="5.6" fill="rgb(0,214,0)"/><rect x="1127.0" y="887.6" width="6.0" height="5.6" fill="rgb(0,223,0)"/><rect x="1139.0" y="887.6" width="17.0" height="5.6" fill="rgb(0,196,0)"/><rect x="1164.0" y="887.6" width="14.0" height="5.6" fill="rgb(0,214,0)"/><rect x="1183.0" y="887.6" width="17.0" height="5.6" fill="rgb(0,186,0)"/><rect x="1206.0" y="887.6" width="10.0" height="5.6" fill="rgb(0,199,0)"/><rect x="1222.0" y="887.6" width="14.0" height="5.6" fill="rgb(0,179,0)"/><rect x="1250.0" y="887.6" width="25.0" height="5.6" fill="rgb(0,183,0)"/><rect x="1296.0" y="887.6" width="16.0" height="5.6" fill="rgb(0,188,0)"/><rect x="1331.0" y="887.6" width="5.0" height="5.6" fill="rgb(0,198,0)"/><rect x="1360.0" y="887.6" width="30.0" height="5.6" fill="rgb(0,196,0)"/><rect x="1400.0" y="887.6" width="14.0" height="5.6" fill="rgb(0,188,0)"/><rect x="1430.0" y="887.6" width="7.0" height="5.6" fill="rgb(0,201,0)"/><rect x="1454.0" y="887.6" width="9.0" height="5.6" fill="rgb(0,233,0)"/><rect x="1478.0" y="887.6" width="12.0" height="5.6" fill="rgb(0,198,0)"/><g filter="url(#blur2)"><ellipse cx="1058.0" cy="868.0" rx="15.0" ry="18.0" fill="rgb(0,141,0)" opacity="0.55"/><ellipse cx="1059.0" cy="876.0" rx="8.0" ry="10.0" fill="rgb(0,156,0)" opacity="0.60"/><ellipse cx="890.0" cy="879.0" rx="52.0" ry="10.0" fill="rgb(0,138,0)" opacity="0.70"/></g><rect x="1383.6" y="863.6" width="15.4" height="4.4" fill="rgb(0,181,0)"/><rect x="1441.0" y="863.6" width="18.5" height="4.4" fill="rgb(0,196,0)"/><rect x="1490.0" y="863.6" width="10.0" height="4.4" fill="rgb(0,196,0)"/><g filter="url(#blur2)"><rect x="1496.0" y="859.5" width="287.9" height="13.0" fill="rgb(0,138,0)" opacity="0.85"/></g><rect x="1500.0" y="863.0" width="279.9" height="6.0" fill="rgb(0,170,0)"/><rect x="1505.0" y="863.4" width="7.0" height="5.4" fill="rgb(0,198,0)"/><rect x="1516.0" y="863.4" width="7.0" height="5.4" fill="rgb(0,196,0)"/><rect x="1527.0" y="863.4" width="6.0" height="5.4" fill="rgb(0,190,0)"/><rect x="1538.0" y="863.4" width="7.0" height="5.4" fill="rgb(0,192,0)"/><rect x="1561.0" y="863.4" width="7.0" height="5.4" fill="rgb(0,192,0)"/><rect x="1573.0" y="863.4" width="7.0" height="5.4" fill="rgb(0,190,0)"/><rect x="1591.0" y="863.4" width="16.0" height="5.4" fill="rgb(0,203,0)"/><rect x="1620.0" y="863.4" width="5.0" height="5.4" fill="rgb(0,192,0)"/><rect x="1633.0" y="863.4" width="16.0" height="5.4" fill="rgb(0,198,0)"/><rect x="1661.0" y="863.4" width="10.0" height="5.4" fill="rgb(0,207,0)"/><rect x="1680.0" y="863.4" width="6.0" height="5.4" fill="rgb(0,192,0)"/><rect x="1694.0" y="863.4" width="7.0" height="5.4" fill="rgb(0,192,0)"/><rect x="1708.0" y="863.4" width="6.0" height="5.4" fill="rgb(0,192,0)"/><rect x="1718.0" y="863.4" width="6.0" height="5.4" fill="rgb(0,194,0)"/><rect x="1730.0" y="863.4" width="5.0" height="5.4" fill="rgb(0,194,0)"/><rect x="1737.0" y="863.4" width="4.0" height="5.4" fill="rgb(0,194,0)"/><rect x="1751.0" y="863.4" width="28.9" height="5.4" fill="rgb(0,203,0)"/><rect x="1699.0" y="891.5" width="15.5" height="4.1" fill="rgb(0,198,0)"/><rect x="1706.5" y="889.0" width="5.5" height="6.6" fill="rgb(0,231,0)"/><rect x="1584.0" y="930.8" width="21.0" height="4.6" fill="rgb(0,166,0)"/><rect x="1652.0" y="930.8" width="25.0" height="4.6" fill="rgb(0,177,0)"/><rect x="1694.0" y="930.8" width="26.0" height="4.6" fill="rgb(0,166,0)"/><rect x="1736.0" y="930.8" width="34.0" height="4.6" fill="rgb(0,168,0)"/><rect x="1528.0" y="930.8" width="7.0" height="4.6" fill="rgb(0,164,0)"/><rect x="1517.0" y="969.5" width="17.0" height="6.0" fill="rgb(0,175,0)"/><rect x="1557.0" y="969.5" width="27.0" height="6.0" fill="rgb(0,177,0)"/><rect x="1572.0" y="969.5" width="9.0" height="6.0" fill="rgb(0,198,0)"/><rect x="1602.0" y="848.5" width="6.2" height="8.0" fill="rgb(0,135,0)"/><rect x="1612.0" y="848.5" width="6.6" height="8.0" fill="rgb(0,134,0)"/><rect x="1622.0" y="848.5" width="6.5" height="8.0" fill="rgb(0,140,0)"/><rect x="1632.0" y="848.5" width="4.3" height="8.0" fill="rgb(0,148,0)"/><rect x="1642.0" y="848.5" width="4.6" height="8.0" fill="rgb(0,136,0)"/><rect x="1662.0" y="848.5" width="5.3" height="8.0" fill="rgb(0,129,0)"/><rect x="1672.0" y="848.5" width="6.5" height="8.0" fill="rgb(0,149,0)"/><rect x="1712.0" y="848.5" width="4.3" height="8.0" fill="rgb(0,142,0)"/><rect x="1722.0" y="848.5" width="6.0" height="8.0" fill="rgb(0,145,0)"/><rect x="1732.0" y="848.5" width="4.9" height="8.0" fill="rgb(0,132,0)"/><rect x="1742.0" y="848.5" width="6.4" height="8.0" fill="rgb(0,133,0)"/><rect x="1762.0" y="848.5" width="5.8" height="8.0" fill="rgb(0,127,0)"/><rect x="1772.0" y="848.5" width="5.4" height="8.0" fill="rgb(0,131,0)"/><rect x="103.0" y="960.4" width="4.3" height="5.0" fill="rgb(0,169,0)"/><rect x="108.0" y="960.4" width="4.3" height="5.0" fill="rgb(0,164,0)"/><rect x="116.5" y="960.4" width="4.3" height="5.0" fill="rgb(0,166,0)"/><rect x="132.0" y="960.4" width="4.3" height="5.0" fill="rgb(0,173,0)"/><rect x="147.0" y="960.4" width="4.3" height="5.0" fill="rgb(0,177,0)"/><rect x="160.5" y="960.4" width="4.3" height="5.0" fill="rgb(0,196,0)"/><rect x="170.5" y="960.4" width="4.3" height="5.0" fill="rgb(0,170,0)"/><rect x="181.0" y="960.4" width="4.3" height="5.0" fill="rgb(0,168,0)"/><rect x="214.0" y="960.4" width="4.3" height="5.0" fill="rgb(0,168,0)"/><rect x="241.0" y="960.4" width="4.3" height="5.0" fill="rgb(0,166,0)"/><rect x="302.0" y="960.4" width="4.3" height="5.0" fill="rgb(0,164,0)"/><rect x="309.0" y="960.4" width="4.3" height="5.0" fill="rgb(0,168,0)"/></g><g filter="url(#blurS)"><ellipse cx="394.0" cy="832.0" rx="19.0" ry="11.0" fill="rgb(0,138,0)" transform="rotate(-38.0 394.0 832.0)"/><ellipse cx="395.0" cy="831.0" rx="15.0" ry="7.5" fill="rgb(0,175,0)" transform="rotate(-38.0 395.0 831.0)"/><ellipse cx="396.0" cy="830.0" rx="11.0" ry="5.2" fill="rgb(0,210,0)" transform="rotate(-38.0 396.0 830.0)"/><ellipse cx="960.0" cy="830.0" rx="22.0" ry="9.0" fill="rgb(0,138,0)" transform="rotate(-24.0 960.0 830.0)"/><ellipse cx="960.0" cy="830.0" rx="18.0" ry="6.5" fill="rgb(0,175,0)" transform="rotate(-24.0 960.0 830.0)"/><ellipse cx="958.0" cy="831.0" rx="13.0" ry="4.4" fill="rgb(0,219,0)" transform="rotate(-24.0 958.0 831.0)"/><ellipse cx="1506.0" cy="836.0" rx="40.0" ry="9.0" fill="rgb(0,135,0)" transform="rotate(-35.0 1506.0 836.0)"/><ellipse cx="1508.0" cy="834.0" rx="33.0" ry="5.5" fill="rgb(0,164,0)" transform="rotate(-36.0 1508.0 834.0)"/><ellipse cx="1511.0" cy="832.0" rx="22.0" ry="3.2" fill="rgb(0,188,0)" transform="rotate(-37.0 1511.0 832.0)"/></g><g filter="url(#blur1)"><ellipse cx="392.0" cy="831.0" rx="2.2" ry="6.5" fill="rgb(0,243,0)" transform="rotate(0.0 392.0 831.0)"/><ellipse cx="397.5" cy="829.0" rx="2.2" ry="7.0" fill="rgb(0,247,0)" transform="rotate(0.0 397.5 829.0)"/><ellipse cx="401.5" cy="827.5" rx="1.8" ry="6.0" fill="rgb(0,243,0)" transform="rotate(0.0 401.5 827.5)"/><ellipse cx="386.5" cy="834.0" rx="1.8" ry="5.0" fill="rgb(0,236,0)" transform="rotate(0.0 386.5 834.0)"/><ellipse cx="410.0" cy="827.0" rx="2.0" ry="3.0" fill="rgb(0,251,0)" transform="rotate(0.0 410.0 827.0)"/><ellipse cx="405.0" cy="832.0" rx="1.5" ry="4.0" fill="rgb(0,231,0)" transform="rotate(0.0 405.0 832.0)"/><ellipse cx="379.0" cy="846.0" rx="4.0" ry="6.0" fill="rgb(0,169,0)" transform="rotate(-35.0 379.0 846.0)"/><ellipse cx="378.5" cy="846.0" rx="2.0" ry="4.0" fill="rgb(0,210,0)" transform="rotate(-30.0 378.5 846.0)"/><ellipse cx="376.6" cy="842.0" rx="1.6" ry="6.0" fill="rgb(0,200,0)" transform="rotate(0.0 376.6 842.0)"/><ellipse cx="946.0" cy="836.0" rx="1.8" ry="5.5" fill="rgb(0,236,0)" transform="rotate(0.0 946.0 836.0)"/><ellipse cx="950.5" cy="834.0" rx="1.8" ry="6.0" fill="rgb(0,241,0)" transform="rotate(0.0 950.5 834.0)"/><ellipse cx="955.0" cy="832.0" rx="1.8" ry="5.5" fill="rgb(0,243,0)" transform="rotate(0.0 955.0 832.0)"/><ellipse cx="959.5" cy="830.0" rx="1.8" ry="5.0" fill="rgb(0,243,0)" transform="rotate(0.0 959.5 830.0)"/><ellipse cx="965.0" cy="826.0" rx="3.2" ry="3.4" fill="rgb(0,255,0)" transform="rotate(0.0 965.0 826.0)"/><ellipse cx="970.0" cy="823.5" rx="2.0" ry="3.0" fill="rgb(0,243,0)" transform="rotate(0.0 970.0 823.5)"/><ellipse cx="974.5" cy="821.5" rx="1.6" ry="2.5" fill="rgb(0,236,0)" transform="rotate(0.0 974.5 821.5)"/><ellipse cx="944.0" cy="838.0" rx="1.5" ry="5.0" fill="rgb(0,223,0)" transform="rotate(0.0 944.0 838.0)"/><ellipse cx="926.0" cy="856.0" rx="20.0" ry="2.6" fill="rgb(0,154,0)" transform="rotate(-36.0 926.0 856.0)"/><ellipse cx="922.0" cy="859.0" rx="8.0" ry="1.8" fill="rgb(0,180,0)" transform="rotate(-36.0 922.0 859.0)"/><ellipse cx="934.0" cy="849.0" rx="6.0" ry="1.6" fill="rgb(0,180,0)" transform="rotate(-36.0 934.0 849.0)"/><ellipse cx="1486.0" cy="846.0" rx="1.8" ry="6.0" fill="rgb(0,231,0)" transform="rotate(0.0 1486.0 846.0)"/><ellipse cx="1490.0" cy="843.0" rx="1.8" ry="7.0" fill="rgb(0,238,0)" transform="rotate(0.0 1490.0 843.0)"/><ellipse cx="1494.5" cy="848.0" rx="2.2" ry="3.6" fill="rgb(0,247,0)" transform="rotate(0.0 1494.5 848.0)"/><ellipse cx="1497.5" cy="845.0" rx="1.6" ry="3.0" fill="rgb(0,243,0)" transform="rotate(0.0 1497.5 845.0)"/><ellipse cx="1482.0" cy="851.0" rx="1.6" ry="3.5" fill="rgb(0,219,0)" transform="rotate(0.0 1482.0 851.0)"/><ellipse cx="1477.0" cy="853.0" rx="1.5" ry="3.0" fill="rgb(0,205,0)" transform="rotate(0.0 1477.0 853.0)"/><ellipse cx="1472.0" cy="850.0" rx="1.6" ry="3.0" fill="rgb(0,196,0)" transform="rotate(0.0 1472.0 850.0)"/><ellipse cx="1504.0" cy="836.0" rx="1.6" ry="5.0" fill="rgb(0,205,0)" transform="rotate(0.0 1504.0 836.0)"/><ellipse cx="1510.0" cy="833.0" rx="1.6" ry="5.0" fill="rgb(0,210,0)" transform="rotate(0.0 1510.0 833.0)"/><ellipse cx="1516.0" cy="830.5" rx="1.6" ry="5.0" fill="rgb(0,214,0)" transform="rotate(0.0 1516.0 830.5)"/><ellipse cx="1525.0" cy="826.0" rx="2.6" ry="3.0" fill="rgb(0,249,0)" transform="rotate(0.0 1525.0 826.0)"/><ellipse cx="1531.5" cy="821.5" rx="1.5" ry="3.2" fill="rgb(0,233,0)" transform="rotate(0.0 1531.5 821.5)"/><ellipse cx="1535.5" cy="817.5" rx="1.4" ry="2.8" fill="rgb(0,231,0)" transform="rotate(0.0 1535.5 817.5)"/><ellipse cx="1510.5" cy="870.0" rx="2.4" ry="6.0" fill="rgb(0,199,0)" transform="rotate(0.0 1510.5 870.0)"/><ellipse cx="1508.5" cy="864.0" rx="1.8" ry="3.0" fill="rgb(0,192,0)" transform="rotate(0.0 1508.5 864.0)"/></g></g></g>
<rect x="1916.70" y="27.30" width="43.00" height="960.10" fill="url(#cbg)"/>
<g stroke="#000" stroke-width="1.10" stroke-linecap="butt"><line x1="102.50" y1="975.50" x2="102.50" y2="981.10"/>
<line x1="214.13" y1="975.50" x2="214.13" y2="981.10"/>
<line x1="325.75" y1="975.50" x2="325.75" y2="981.10"/>
<line x1="437.38" y1="975.50" x2="437.38" y2="981.10"/>
<line x1="549.01" y1="975.50" x2="549.01" y2="981.10"/>
<line x1="660.63" y1="975.50" x2="660.63" y2="981.10"/>
<line x1="772.26" y1="975.50" x2="772.26" y2="981.10"/>
<line x1="883.89" y1="975.50" x2="883.89" y2="981.10"/>
<line x1="995.51" y1="975.50" x2="995.51" y2="981.10"/>
<line x1="1107.14" y1="975.50" x2="1107.14" y2="981.10"/>
<line x1="1218.77" y1="975.50" x2="1218.77" y2="981.10"/>
<line x1="1330.39" y1="975.50" x2="1330.39" y2="981.10"/>
<line x1="1442.02" y1="975.50" x2="1442.02" y2="981.10"/>
<line x1="1553.65" y1="975.50" x2="1553.65" y2="981.10"/>
<line x1="1665.27" y1="975.50" x2="1665.27" y2="981.10"/>
<line x1="96.70" y1="975.50" x2="102.50" y2="975.50"/>
<line x1="96.70" y1="846.90" x2="102.50" y2="846.90"/>
<line x1="96.70" y1="718.30" x2="102.50" y2="718.30"/>
<line x1="96.70" y1="589.70" x2="102.50" y2="589.70"/>
<line x1="96.70" y1="461.10" x2="102.50" y2="461.10"/>
<line x1="96.70" y1="332.50" x2="102.50" y2="332.50"/>
<line x1="96.70" y1="203.90" x2="102.50" y2="203.90"/>
<line x1="96.70" y1="75.30" x2="102.50" y2="75.30"/>
<line x1="1959.70" y1="987.40" x2="1965.00" y2="987.40"/>
<line x1="1959.70" y1="874.38" x2="1965.00" y2="874.38"/>
<line x1="1959.70" y1="761.35" x2="1965.00" y2="761.35"/>
<line x1="1959.70" y1="648.33" x2="1965.00" y2="648.33"/>
<line x1="1959.70" y1="535.30" x2="1965.00" y2="535.30"/>
<line x1="1959.70" y1="422.27" x2="1965.00" y2="422.27"/>
<line x1="1959.70" y1="309.25" x2="1965.00" y2="309.25"/>
<line x1="1959.70" y1="196.23" x2="1965.00" y2="196.23"/>
<line x1="1959.70" y1="83.20" x2="1965.00" y2="83.20"/>
<rect x="102.50" y="51.10" width="1674.40" height="924.40" fill="none"/>
<rect x="1916.70" y="27.30" width="43.00" height="960.10" fill="none"/></g>
<g opacity="0.996"><text transform="translate(253.28 41.00) scale(1.0969 1)" font-size="38.50">2025/05/24</text>
<text transform="translate(487.12 41.00) scale(1.0395 1)" font-size="38.50">Radio</text>
<text transform="translate(605.21 41.00) scale(1.0856 1)" font-size="38.50">flux</text>
<text transform="translate(683.22 41.00) scale(1.1026 1)" font-size="38.50">density,</text>
<text transform="translate(840.61 41.00) scale(0.9733 1)" font-size="38.50">e-CALLISTO</text>
<text transform="translate(1066.09 41.00) scale(0.9686 1)" font-size="38.50">(USA-BOSTON),</text>
<text transform="translate(1356.98 41.00) scale(1.0517 1)" font-size="38.50">Focuscode:</text>
<text transform="translate(1575.22 41.00) scale(1.1129 1)" font-size="38.50">63</text>
<text transform="translate(742.30 1048.40) scale(1.0851 1)" font-size="35.00">Observation</text>
<text transform="translate(956.90 1048.40) scale(1.1416 1)" font-size="35.00">time</text>
<text transform="translate(1043.19 1048.40) scale(1.0071 1)" font-size="35.00">[UTC]</text>
<text transform="translate(36.75 653.46) rotate(-90) scale(1.0313 1)" font-size="35.00">Frequency</text>
<text transform="translate(36.75 470.63) rotate(-90) scale(1.0557 1)" font-size="35.00">[MHz]</text>
<text transform="translate(2027.20 689.66) rotate(-90) scale(0.9900 1)" font-size="35.00">dB</text>
<text transform="translate(2027.20 635.19) rotate(-90) scale(1.0724 1)" font-size="35.00">above</text>
<text transform="translate(2027.20 521.63) rotate(-90) scale(1.0762 1)" font-size="35.00">background</text>
<text id="xt0" transform="translate(101.30 1010.10) scale(1.0700 1)" font-size="31.50" text-anchor="middle" xml:space="preserve">20:45</text>
<text id="xt1" transform="translate(212.93 1010.10) scale(1.0700 1)" font-size="31.50" text-anchor="middle" xml:space="preserve">20:46</text>
<text id="xt2" transform="translate(324.55 1010.10) scale(1.0700 1)" font-size="31.50" text-anchor="middle" xml:space="preserve">20:47</text>
<text id="xt3" transform="translate(436.18 1010.10) scale(1.0700 1)" font-size="31.50" text-anchor="middle" xml:space="preserve">20:48</text>
<text id="xt4" transform="translate(547.81 1010.10) scale(1.0700 1)" font-size="31.50" text-anchor="middle" xml:space="preserve">20:49</text>
<text id="xt5" transform="translate(659.43 1010.10) scale(1.0700 1)" font-size="31.50" text-anchor="middle" xml:space="preserve">20:50</text>
<text id="xt6" transform="translate(771.06 1010.10) scale(1.0700 1)" font-size="31.50" text-anchor="middle" xml:space="preserve">20:51</text>
<text id="xt7" transform="translate(882.69 1010.10) scale(1.0700 1)" font-size="31.50" text-anchor="middle" xml:space="preserve">20:52</text>
<text id="xt8" transform="translate(994.31 1010.10) scale(1.0700 1)" font-size="31.50" text-anchor="middle" xml:space="preserve">20:53</text>
<text id="xt9" transform="translate(1105.94 1010.10) scale(1.0700 1)" font-size="31.50" text-anchor="middle" xml:space="preserve">20:54</text>
<text id="xt10" transform="translate(1217.57 1010.10) scale(1.0700 1)" font-size="31.50" text-anchor="middle" xml:space="preserve">20:55</text>
<text id="xt11" transform="translate(1329.19 1010.10) scale(1.0700 1)" font-size="31.50" text-anchor="middle" xml:space="preserve">20:56</text>
<text id="xt12" transform="translate(1440.82 1010.10) scale(1.0700 1)" font-size="31.50" text-anchor="middle" xml:space="preserve">20:57</text>
<text id="xt13" transform="translate(1552.45 1010.10) scale(1.0700 1)" font-size="31.50" text-anchor="middle" xml:space="preserve">20:58</text>
<text id="xt14" transform="translate(1664.07 1010.10) scale(1.0700 1)" font-size="31.50" text-anchor="middle" xml:space="preserve">20:59</text>
<text id="yt10" transform="translate(88.80 986.30) scale(1.0300 1)" font-size="31.50" text-anchor="end" xml:space="preserve">10</text>
<text id="yt20" transform="translate(88.80 857.70) scale(1.0300 1)" font-size="31.50" text-anchor="end" xml:space="preserve">20</text>
<text id="yt30" transform="translate(88.80 729.10) scale(1.0300 1)" font-size="31.50" text-anchor="end" xml:space="preserve">30</text>
<text id="yt40" transform="translate(88.80 600.50) scale(1.0300 1)" font-size="31.50" text-anchor="end" xml:space="preserve">40</text>
<text id="yt50" transform="translate(88.80 471.90) scale(1.0300 1)" font-size="31.50" text-anchor="end" xml:space="preserve">50</text>
<text id="yt60" transform="translate(88.80 343.30) scale(1.0300 1)" font-size="31.50" text-anchor="end" xml:space="preserve">60</text>
<text id="yt70" transform="translate(88.80 214.70) scale(1.0300 1)" font-size="31.50" text-anchor="end" xml:space="preserve">70</text>
<text id="yt80" transform="translate(88.80 86.10) scale(1.0300 1)" font-size="31.50" text-anchor="end" xml:space="preserve">80</text>
<text id="cb-2" transform="translate(1973.40 993.30) scale(1.0800 1)" font-size="16.60" text-anchor="start" xml:space="preserve">−2</text>
<text id="cb0" transform="translate(1973.40 880.27) scale(0.9850 1)" font-size="16.60" text-anchor="start" xml:space="preserve">0</text>
<text id="cb2" transform="translate(1973.40 767.25) scale(0.9850 1)" font-size="16.60" text-anchor="start" xml:space="preserve">2</text>
<text id="cb4" transform="translate(1973.40 654.23) scale(0.9850 1)" font-size="16.60" text-anchor="start" xml:space="preserve">4</text>
<text id="cb6" transform="translate(1973.40 541.20) scale(0.9850 1)" font-size="16.60" text-anchor="start" xml:space="preserve">6</text>
<text id="cb8" transform="translate(1973.40 428.18) scale(0.9850 1)" font-size="16.60" text-anchor="start" xml:space="preserve">8</text>
<text id="cb10" transform="translate(1973.40 315.15) scale(0.9850 1)" font-size="16.60" text-anchor="start" xml:space="preserve">10</text>
<text id="cb12" transform="translate(1973.40 202.13) scale(0.9850 1)" font-size="16.60" text-anchor="start" xml:space="preserve">12</text>
<text id="cb14" transform="translate(1973.40 89.10) scale(0.9850 1)" font-size="16.60" text-anchor="start" xml:space="preserve">14</text></g>
</svg></body></html>
